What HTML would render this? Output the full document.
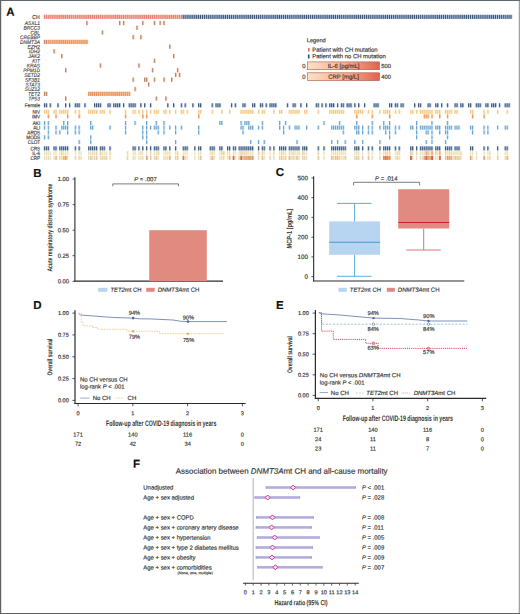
<!DOCTYPE html>
<html><head><meta charset="utf-8"><style>
html,body{margin:0;padding:0;background:#fff;}
body{width:520px;height:614px;overflow:hidden;position:relative;}
svg{position:absolute;left:0;top:0;}
text{font-family:"Liberation Sans",sans-serif;text-rendering:geometricPrecision;}
</style></head><body>
<svg width="520" height="614" viewBox="0 0 520 614">
<rect x="0" y="0" width="520" height="614" fill="#fff"/>
<text x="39.6" y="18.9" font-size="5.6" text-anchor="end" font-weight="normal" font-style="normal" fill="#333" stroke="#333" stroke-width="0.16" transform="rotate(0.04 39.6 18.9)" textLength="7.28" lengthAdjust="spacingAndGlyphs">CH</text>
<text x="39.9" y="25.05" font-size="5.4" text-anchor="end" font-weight="normal" font-style="italic" fill="#333" stroke="#333" stroke-width="0.1" transform="rotate(0.04 39.9 25.05)" textLength="15.13" lengthAdjust="spacingAndGlyphs">ASXL1</text>
<text x="39.9" y="29.77" font-size="5.4" text-anchor="end" font-weight="normal" font-style="italic" fill="#333" stroke="#333" stroke-width="0.1" transform="rotate(0.04 39.9 29.77)" textLength="16.47" lengthAdjust="spacingAndGlyphs">BRCC3</text>
<text x="39.9" y="34.49" font-size="5.4" text-anchor="end" font-weight="normal" font-style="italic" fill="#333" stroke="#333" stroke-width="0.1" transform="rotate(0.04 39.9 34.49)" textLength="9.45" lengthAdjust="spacingAndGlyphs">CBL</text>
<text x="39.9" y="39.21" font-size="5.4" text-anchor="end" font-weight="normal" font-style="italic" fill="#333" stroke="#333" stroke-width="0.1" transform="rotate(0.04 39.9 39.21)" textLength="19.99" lengthAdjust="spacingAndGlyphs">CREBBP</text>
<text x="39.9" y="43.93" font-size="5.4" text-anchor="end" font-weight="normal" font-style="italic" fill="#333" stroke="#333" stroke-width="0.1" transform="rotate(0.04 39.9 43.93)" textLength="19.98" lengthAdjust="spacingAndGlyphs">DNMT3A</text>
<text x="39.9" y="48.65" font-size="5.4" text-anchor="end" font-weight="normal" font-style="italic" fill="#333" stroke="#333" stroke-width="0.1" transform="rotate(0.04 39.9 48.65)" textLength="12.42" lengthAdjust="spacingAndGlyphs">EZH2</text>
<text x="39.9" y="53.370000000000005" font-size="5.4" text-anchor="end" font-weight="normal" font-style="italic" fill="#333" stroke="#333" stroke-width="0.1" transform="rotate(0.04 39.9 53.370000000000005)" textLength="11.07" lengthAdjust="spacingAndGlyphs">IDH2</text>
<text x="39.9" y="58.09" font-size="5.4" text-anchor="end" font-weight="normal" font-style="italic" fill="#333" stroke="#333" stroke-width="0.1" transform="rotate(0.04 39.9 58.09)" textLength="11.62" lengthAdjust="spacingAndGlyphs">JAK2</text>
<text x="39.9" y="62.81" font-size="5.4" text-anchor="end" font-weight="normal" font-style="italic" fill="#333" stroke="#333" stroke-width="0.1" transform="rotate(0.04 39.9 62.81)" textLength="7.56" lengthAdjust="spacingAndGlyphs">KIT</text>
<text x="39.9" y="67.53" font-size="5.4" text-anchor="end" font-weight="normal" font-style="italic" fill="#333" stroke="#333" stroke-width="0.1" transform="rotate(0.04 39.9 67.53)" textLength="13.24" lengthAdjust="spacingAndGlyphs">KRAS</text>
<text x="39.9" y="72.25" font-size="5.4" text-anchor="end" font-weight="normal" font-style="italic" fill="#333" stroke="#333" stroke-width="0.1" transform="rotate(0.04 39.9 72.25)" textLength="16.74" lengthAdjust="spacingAndGlyphs">PPM1D</text>
<text x="39.9" y="76.97" font-size="5.4" text-anchor="end" font-weight="normal" font-style="italic" fill="#333" stroke="#333" stroke-width="0.1" transform="rotate(0.04 39.9 76.97)" textLength="15.66" lengthAdjust="spacingAndGlyphs">SETD2</text>
<text x="39.9" y="81.69" font-size="5.4" text-anchor="end" font-weight="normal" font-style="italic" fill="#333" stroke="#333" stroke-width="0.1" transform="rotate(0.04 39.9 81.69)" textLength="14.86" lengthAdjust="spacingAndGlyphs">SF3B1</text>
<text x="39.9" y="86.41" font-size="5.4" text-anchor="end" font-weight="normal" font-style="italic" fill="#333" stroke="#333" stroke-width="0.1" transform="rotate(0.04 39.9 86.41)" textLength="14.40" lengthAdjust="spacingAndGlyphs">STAT3</text>
<text x="39.9" y="91.13" font-size="5.4" text-anchor="end" font-weight="normal" font-style="italic" fill="#333" stroke="#333" stroke-width="0.1" transform="rotate(0.04 39.9 91.13)" textLength="15.13" lengthAdjust="spacingAndGlyphs">SUZ12</text>
<text x="39.9" y="95.85" font-size="5.4" text-anchor="end" font-weight="normal" font-style="italic" fill="#333" stroke="#333" stroke-width="0.1" transform="rotate(0.04 39.9 95.85)" textLength="11.88" lengthAdjust="spacingAndGlyphs">TET2</text>
<text x="39.9" y="100.57" font-size="5.4" text-anchor="end" font-weight="normal" font-style="italic" fill="#333" stroke="#333" stroke-width="0.1" transform="rotate(0.04 39.9 100.57)" textLength="11.62" lengthAdjust="spacingAndGlyphs">TP53</text>
<text x="40.2" y="107.3" font-size="5.4" text-anchor="end" font-weight="normal" font-style="normal" fill="#333" stroke="#333" stroke-width="0.14" transform="rotate(0.04 40.2 107.3)" textLength="15.48" lengthAdjust="spacingAndGlyphs">Female</text>
<text x="40.2" y="113.8" font-size="5.4" text-anchor="end" font-weight="normal" font-style="normal" fill="#333" stroke="#333" stroke-width="0.14" transform="rotate(0.04 40.2 113.8)" textLength="7.74" lengthAdjust="spacingAndGlyphs">NIV</text>
<text x="40.2" y="118.4" font-size="5.4" text-anchor="end" font-weight="normal" font-style="normal" fill="#333" stroke="#333" stroke-width="0.14" transform="rotate(0.04 40.2 118.4)" textLength="8.26" lengthAdjust="spacingAndGlyphs">IMV</text>
<text x="40.2" y="125.0" font-size="5.4" text-anchor="end" font-weight="normal" font-style="normal" fill="#333" stroke="#333" stroke-width="0.14" transform="rotate(0.04 40.2 125.0)" textLength="7.49" lengthAdjust="spacingAndGlyphs">AKI</text>
<text x="40.2" y="129.6" font-size="5.4" text-anchor="end" font-weight="normal" font-style="normal" fill="#333" stroke="#333" stroke-width="0.14" transform="rotate(0.04 40.2 129.6)" textLength="6.97" lengthAdjust="spacingAndGlyphs">ALI</text>
<text x="40.2" y="134.4" font-size="5.4" text-anchor="end" font-weight="normal" font-style="normal" fill="#333" stroke="#333" stroke-width="0.14" transform="rotate(0.04 40.2 134.4)" textLength="12.90" lengthAdjust="spacingAndGlyphs">ARDS</text>
<text x="40.2" y="139.3" font-size="5.4" text-anchor="end" font-weight="normal" font-style="normal" fill="#333" stroke="#333" stroke-width="0.14" transform="rotate(0.04 40.2 139.3)" textLength="13.93" lengthAdjust="spacingAndGlyphs">MODS</text>
<text x="40.2" y="144.1" font-size="5.4" text-anchor="end" font-weight="normal" font-style="normal" fill="#333" stroke="#333" stroke-width="0.14" transform="rotate(0.04 40.2 144.1)" textLength="12.38" lengthAdjust="spacingAndGlyphs">CLOT</text>
<text x="40.2" y="150.4" font-size="5.4" text-anchor="end" font-weight="normal" font-style="normal" fill="#333" stroke="#333" stroke-width="0.14" transform="rotate(0.04 40.2 150.4)" textLength="9.81" lengthAdjust="spacingAndGlyphs">CRS</text>
<text x="40.2" y="155.2" font-size="5.4" text-anchor="end" font-weight="normal" font-style="normal" fill="#333" stroke="#333" stroke-width="0.14" transform="rotate(0.04 40.2 155.2)" textLength="8.00" lengthAdjust="spacingAndGlyphs">IL-6</text>
<text x="40.2" y="159.9" font-size="5.4" text-anchor="end" font-weight="normal" font-style="normal" fill="#333" stroke="#333" stroke-width="0.14" transform="rotate(0.04 40.2 159.9)" textLength="9.81" lengthAdjust="spacingAndGlyphs">CRP</text>
<rect x="43.80" y="14.80" width="1.948" height="4.1" fill="#f6b0a2"/><rect x="43.95" y="14.80" width="0.85" height="4.1" fill="#de7a6c"/>
<rect x="45.73" y="14.80" width="1.948" height="4.1" fill="#f6b0a2"/><rect x="45.88" y="14.80" width="0.85" height="4.1" fill="#de7a6c"/>
<rect x="47.66" y="14.80" width="1.948" height="4.1" fill="#f6b0a2"/><rect x="47.81" y="14.80" width="0.85" height="4.1" fill="#de7a6c"/>
<rect x="49.58" y="14.80" width="1.948" height="4.1" fill="#f6b0a2"/><rect x="49.73" y="14.80" width="0.85" height="4.1" fill="#de7a6c"/>
<rect x="51.51" y="14.80" width="1.948" height="4.1" fill="#f6b0a2"/><rect x="51.66" y="14.80" width="0.85" height="4.1" fill="#de7a6c"/>
<rect x="53.44" y="14.80" width="1.948" height="4.1" fill="#f6b0a2"/><rect x="53.59" y="14.80" width="0.85" height="4.1" fill="#de7a6c"/>
<rect x="55.37" y="14.80" width="1.948" height="4.1" fill="#f6b0a2"/><rect x="55.52" y="14.80" width="0.85" height="4.1" fill="#de7a6c"/>
<rect x="57.30" y="14.80" width="1.948" height="4.1" fill="#f6b0a2"/><rect x="57.45" y="14.80" width="0.85" height="4.1" fill="#de7a6c"/>
<rect x="59.22" y="14.80" width="1.948" height="4.1" fill="#f6b0a2"/><rect x="59.37" y="14.80" width="0.85" height="4.1" fill="#de7a6c"/>
<rect x="61.15" y="14.80" width="1.948" height="4.1" fill="#f6b0a2"/><rect x="61.30" y="14.80" width="0.85" height="4.1" fill="#de7a6c"/>
<rect x="63.08" y="14.80" width="1.948" height="4.1" fill="#f6b0a2"/><rect x="63.23" y="14.80" width="0.85" height="4.1" fill="#de7a6c"/>
<rect x="65.01" y="14.80" width="1.948" height="4.1" fill="#f6b0a2"/><rect x="65.16" y="14.80" width="0.85" height="4.1" fill="#de7a6c"/>
<rect x="66.94" y="14.80" width="1.948" height="4.1" fill="#f6b0a2"/><rect x="67.09" y="14.80" width="0.85" height="4.1" fill="#de7a6c"/>
<rect x="68.86" y="14.80" width="1.948" height="4.1" fill="#f6b0a2"/><rect x="69.01" y="14.80" width="0.85" height="4.1" fill="#de7a6c"/>
<rect x="70.79" y="14.80" width="1.948" height="4.1" fill="#f6b0a2"/><rect x="70.94" y="14.80" width="0.85" height="4.1" fill="#de7a6c"/>
<rect x="72.72" y="14.80" width="1.948" height="4.1" fill="#f6b0a2"/><rect x="72.87" y="14.80" width="0.85" height="4.1" fill="#de7a6c"/>
<rect x="74.65" y="14.80" width="1.948" height="4.1" fill="#f6b0a2"/><rect x="74.80" y="14.80" width="0.85" height="4.1" fill="#de7a6c"/>
<rect x="76.58" y="14.80" width="1.948" height="4.1" fill="#f6b0a2"/><rect x="76.73" y="14.80" width="0.85" height="4.1" fill="#de7a6c"/>
<rect x="78.50" y="14.80" width="1.948" height="4.1" fill="#f6b0a2"/><rect x="78.65" y="14.80" width="0.85" height="4.1" fill="#de7a6c"/>
<rect x="80.43" y="14.80" width="1.948" height="4.1" fill="#f6b0a2"/><rect x="80.58" y="14.80" width="0.85" height="4.1" fill="#de7a6c"/>
<rect x="82.36" y="14.80" width="1.948" height="4.1" fill="#f6b0a2"/><rect x="82.51" y="14.80" width="0.85" height="4.1" fill="#de7a6c"/>
<rect x="84.29" y="14.80" width="1.948" height="4.1" fill="#f6b0a2"/><rect x="84.44" y="14.80" width="0.85" height="4.1" fill="#de7a6c"/>
<rect x="86.22" y="14.80" width="1.948" height="4.1" fill="#f6b0a2"/><rect x="86.37" y="14.80" width="0.85" height="4.1" fill="#de7a6c"/>
<rect x="88.14" y="14.80" width="1.948" height="4.1" fill="#f6b0a2"/><rect x="88.29" y="14.80" width="0.85" height="4.1" fill="#de7a6c"/>
<rect x="90.07" y="14.80" width="1.948" height="4.1" fill="#f6b0a2"/><rect x="90.22" y="14.80" width="0.85" height="4.1" fill="#de7a6c"/>
<rect x="92.00" y="14.80" width="1.948" height="4.1" fill="#f6b0a2"/><rect x="92.15" y="14.80" width="0.85" height="4.1" fill="#de7a6c"/>
<rect x="93.93" y="14.80" width="1.948" height="4.1" fill="#f6b0a2"/><rect x="94.08" y="14.80" width="0.85" height="4.1" fill="#de7a6c"/>
<rect x="95.86" y="14.80" width="1.948" height="4.1" fill="#f6b0a2"/><rect x="96.01" y="14.80" width="0.85" height="4.1" fill="#de7a6c"/>
<rect x="97.78" y="14.80" width="1.948" height="4.1" fill="#f6b0a2"/><rect x="97.93" y="14.80" width="0.85" height="4.1" fill="#de7a6c"/>
<rect x="99.71" y="14.80" width="1.948" height="4.1" fill="#f6b0a2"/><rect x="99.86" y="14.80" width="0.85" height="4.1" fill="#de7a6c"/>
<rect x="101.64" y="14.80" width="1.948" height="4.1" fill="#f6b0a2"/><rect x="101.79" y="14.80" width="0.85" height="4.1" fill="#de7a6c"/>
<rect x="103.57" y="14.80" width="1.948" height="4.1" fill="#f6b0a2"/><rect x="103.72" y="14.80" width="0.85" height="4.1" fill="#de7a6c"/>
<rect x="105.50" y="14.80" width="1.948" height="4.1" fill="#f6b0a2"/><rect x="105.65" y="14.80" width="0.85" height="4.1" fill="#de7a6c"/>
<rect x="107.42" y="14.80" width="1.948" height="4.1" fill="#f6b0a2"/><rect x="107.57" y="14.80" width="0.85" height="4.1" fill="#de7a6c"/>
<rect x="109.35" y="14.80" width="1.948" height="4.1" fill="#f6b0a2"/><rect x="109.50" y="14.80" width="0.85" height="4.1" fill="#de7a6c"/>
<rect x="111.28" y="14.80" width="1.948" height="4.1" fill="#f6b0a2"/><rect x="111.43" y="14.80" width="0.85" height="4.1" fill="#de7a6c"/>
<rect x="113.21" y="14.80" width="1.948" height="4.1" fill="#f6b0a2"/><rect x="113.36" y="14.80" width="0.85" height="4.1" fill="#de7a6c"/>
<rect x="115.14" y="14.80" width="1.948" height="4.1" fill="#f6b0a2"/><rect x="115.29" y="14.80" width="0.85" height="4.1" fill="#de7a6c"/>
<rect x="117.06" y="14.80" width="1.948" height="4.1" fill="#f6b0a2"/><rect x="117.21" y="14.80" width="0.85" height="4.1" fill="#de7a6c"/>
<rect x="118.99" y="14.80" width="1.948" height="4.1" fill="#f6b0a2"/><rect x="119.14" y="14.80" width="0.85" height="4.1" fill="#de7a6c"/>
<rect x="120.92" y="14.80" width="1.948" height="4.1" fill="#f6b0a2"/><rect x="121.07" y="14.80" width="0.85" height="4.1" fill="#de7a6c"/>
<rect x="122.85" y="14.80" width="1.948" height="4.1" fill="#f6b0a2"/><rect x="123.00" y="14.80" width="0.85" height="4.1" fill="#de7a6c"/>
<rect x="124.78" y="14.80" width="1.948" height="4.1" fill="#f6b0a2"/><rect x="124.93" y="14.80" width="0.85" height="4.1" fill="#de7a6c"/>
<rect x="126.70" y="14.80" width="1.948" height="4.1" fill="#f6b0a2"/><rect x="126.85" y="14.80" width="0.85" height="4.1" fill="#de7a6c"/>
<rect x="128.63" y="14.80" width="1.948" height="4.1" fill="#f6b0a2"/><rect x="128.78" y="14.80" width="0.85" height="4.1" fill="#de7a6c"/>
<rect x="130.56" y="14.80" width="1.948" height="4.1" fill="#f6b0a2"/><rect x="130.71" y="14.80" width="0.85" height="4.1" fill="#de7a6c"/>
<rect x="132.49" y="14.80" width="1.948" height="4.1" fill="#f6b0a2"/><rect x="132.64" y="14.80" width="0.85" height="4.1" fill="#de7a6c"/>
<rect x="134.42" y="14.80" width="1.948" height="4.1" fill="#f6b0a2"/><rect x="134.57" y="14.80" width="0.85" height="4.1" fill="#de7a6c"/>
<rect x="136.34" y="14.80" width="1.948" height="4.1" fill="#f6b0a2"/><rect x="136.49" y="14.80" width="0.85" height="4.1" fill="#de7a6c"/>
<rect x="138.27" y="14.80" width="1.948" height="4.1" fill="#f6b0a2"/><rect x="138.42" y="14.80" width="0.85" height="4.1" fill="#de7a6c"/>
<rect x="140.20" y="14.80" width="1.948" height="4.1" fill="#f6b0a2"/><rect x="140.35" y="14.80" width="0.85" height="4.1" fill="#de7a6c"/>
<rect x="142.13" y="14.80" width="1.948" height="4.1" fill="#f6b0a2"/><rect x="142.28" y="14.80" width="0.85" height="4.1" fill="#de7a6c"/>
<rect x="144.06" y="14.80" width="1.948" height="4.1" fill="#f6b0a2"/><rect x="144.21" y="14.80" width="0.85" height="4.1" fill="#de7a6c"/>
<rect x="145.98" y="14.80" width="1.948" height="4.1" fill="#f6b0a2"/><rect x="146.13" y="14.80" width="0.85" height="4.1" fill="#de7a6c"/>
<rect x="147.91" y="14.80" width="1.948" height="4.1" fill="#f6b0a2"/><rect x="148.06" y="14.80" width="0.85" height="4.1" fill="#de7a6c"/>
<rect x="149.84" y="14.80" width="1.948" height="4.1" fill="#f6b0a2"/><rect x="149.99" y="14.80" width="0.85" height="4.1" fill="#de7a6c"/>
<rect x="151.77" y="14.80" width="1.948" height="4.1" fill="#f6b0a2"/><rect x="151.92" y="14.80" width="0.85" height="4.1" fill="#de7a6c"/>
<rect x="153.70" y="14.80" width="1.948" height="4.1" fill="#f6b0a2"/><rect x="153.85" y="14.80" width="0.85" height="4.1" fill="#de7a6c"/>
<rect x="155.62" y="14.80" width="1.948" height="4.1" fill="#f6b0a2"/><rect x="155.77" y="14.80" width="0.85" height="4.1" fill="#de7a6c"/>
<rect x="157.55" y="14.80" width="1.948" height="4.1" fill="#f6b0a2"/><rect x="157.70" y="14.80" width="0.85" height="4.1" fill="#de7a6c"/>
<rect x="159.48" y="14.80" width="1.948" height="4.1" fill="#f6b0a2"/><rect x="159.63" y="14.80" width="0.85" height="4.1" fill="#de7a6c"/>
<rect x="161.41" y="14.80" width="1.948" height="4.1" fill="#f6b0a2"/><rect x="161.56" y="14.80" width="0.85" height="4.1" fill="#de7a6c"/>
<rect x="163.34" y="14.80" width="1.948" height="4.1" fill="#f6b0a2"/><rect x="163.49" y="14.80" width="0.85" height="4.1" fill="#de7a6c"/>
<rect x="165.26" y="14.80" width="1.948" height="4.1" fill="#f6b0a2"/><rect x="165.41" y="14.80" width="0.85" height="4.1" fill="#de7a6c"/>
<rect x="167.19" y="14.80" width="1.948" height="4.1" fill="#f6b0a2"/><rect x="167.34" y="14.80" width="0.85" height="4.1" fill="#de7a6c"/>
<rect x="169.12" y="14.80" width="1.948" height="4.1" fill="#f6b0a2"/><rect x="169.27" y="14.80" width="0.85" height="4.1" fill="#de7a6c"/>
<rect x="171.05" y="14.80" width="1.948" height="4.1" fill="#f6b0a2"/><rect x="171.20" y="14.80" width="0.85" height="4.1" fill="#de7a6c"/>
<rect x="172.98" y="14.80" width="1.948" height="4.1" fill="#f6b0a2"/><rect x="173.13" y="14.80" width="0.85" height="4.1" fill="#de7a6c"/>
<rect x="174.90" y="14.80" width="1.948" height="4.1" fill="#f6b0a2"/><rect x="175.05" y="14.80" width="0.85" height="4.1" fill="#de7a6c"/>
<rect x="176.83" y="14.80" width="1.948" height="4.1" fill="#f6b0a2"/><rect x="176.98" y="14.80" width="0.85" height="4.1" fill="#de7a6c"/>
<rect x="178.76" y="14.80" width="1.948" height="4.1" fill="#f6b0a2"/><rect x="178.91" y="14.80" width="0.85" height="4.1" fill="#de7a6c"/>
<rect x="180.69" y="14.80" width="1.948" height="4.1" fill="#f6b0a2"/><rect x="180.84" y="14.80" width="0.85" height="4.1" fill="#de7a6c"/>
<rect x="182.62" y="14.80" width="1.948" height="4.1" fill="#a7bfde"/><rect x="182.77" y="14.80" width="0.85" height="4.1" fill="#273f60"/>
<rect x="184.54" y="14.80" width="1.948" height="4.1" fill="#a7bfde"/><rect x="184.69" y="14.80" width="0.85" height="4.1" fill="#273f60"/>
<rect x="186.47" y="14.80" width="1.948" height="4.1" fill="#a7bfde"/><rect x="186.62" y="14.80" width="0.85" height="4.1" fill="#273f60"/>
<rect x="188.40" y="14.80" width="1.948" height="4.1" fill="#a7bfde"/><rect x="188.55" y="14.80" width="0.85" height="4.1" fill="#273f60"/>
<rect x="190.33" y="14.80" width="1.948" height="4.1" fill="#a7bfde"/><rect x="190.48" y="14.80" width="0.85" height="4.1" fill="#273f60"/>
<rect x="192.26" y="14.80" width="1.948" height="4.1" fill="#a7bfde"/><rect x="192.41" y="14.80" width="0.85" height="4.1" fill="#273f60"/>
<rect x="194.18" y="14.80" width="1.948" height="4.1" fill="#a7bfde"/><rect x="194.33" y="14.80" width="0.85" height="4.1" fill="#273f60"/>
<rect x="196.11" y="14.80" width="1.948" height="4.1" fill="#a7bfde"/><rect x="196.26" y="14.80" width="0.85" height="4.1" fill="#273f60"/>
<rect x="198.04" y="14.80" width="1.948" height="4.1" fill="#a7bfde"/><rect x="198.19" y="14.80" width="0.85" height="4.1" fill="#273f60"/>
<rect x="199.97" y="14.80" width="1.948" height="4.1" fill="#a7bfde"/><rect x="200.12" y="14.80" width="0.85" height="4.1" fill="#273f60"/>
<rect x="201.90" y="14.80" width="1.948" height="4.1" fill="#a7bfde"/><rect x="202.05" y="14.80" width="0.85" height="4.1" fill="#273f60"/>
<rect x="203.82" y="14.80" width="1.948" height="4.1" fill="#a7bfde"/><rect x="203.97" y="14.80" width="0.85" height="4.1" fill="#273f60"/>
<rect x="205.75" y="14.80" width="1.948" height="4.1" fill="#a7bfde"/><rect x="205.90" y="14.80" width="0.85" height="4.1" fill="#273f60"/>
<rect x="207.68" y="14.80" width="1.948" height="4.1" fill="#a7bfde"/><rect x="207.83" y="14.80" width="0.85" height="4.1" fill="#273f60"/>
<rect x="209.61" y="14.80" width="1.948" height="4.1" fill="#a7bfde"/><rect x="209.76" y="14.80" width="0.85" height="4.1" fill="#273f60"/>
<rect x="211.54" y="14.80" width="1.948" height="4.1" fill="#a7bfde"/><rect x="211.69" y="14.80" width="0.85" height="4.1" fill="#273f60"/>
<rect x="213.46" y="14.80" width="1.948" height="4.1" fill="#a7bfde"/><rect x="213.61" y="14.80" width="0.85" height="4.1" fill="#273f60"/>
<rect x="215.39" y="14.80" width="1.948" height="4.1" fill="#a7bfde"/><rect x="215.54" y="14.80" width="0.85" height="4.1" fill="#273f60"/>
<rect x="217.32" y="14.80" width="1.948" height="4.1" fill="#a7bfde"/><rect x="217.47" y="14.80" width="0.85" height="4.1" fill="#273f60"/>
<rect x="219.25" y="14.80" width="1.948" height="4.1" fill="#a7bfde"/><rect x="219.40" y="14.80" width="0.85" height="4.1" fill="#273f60"/>
<rect x="221.18" y="14.80" width="1.948" height="4.1" fill="#a7bfde"/><rect x="221.33" y="14.80" width="0.85" height="4.1" fill="#273f60"/>
<rect x="223.10" y="14.80" width="1.948" height="4.1" fill="#a7bfde"/><rect x="223.25" y="14.80" width="0.85" height="4.1" fill="#273f60"/>
<rect x="225.03" y="14.80" width="1.948" height="4.1" fill="#a7bfde"/><rect x="225.18" y="14.80" width="0.85" height="4.1" fill="#273f60"/>
<rect x="226.96" y="14.80" width="1.948" height="4.1" fill="#a7bfde"/><rect x="227.11" y="14.80" width="0.85" height="4.1" fill="#273f60"/>
<rect x="228.89" y="14.80" width="1.948" height="4.1" fill="#a7bfde"/><rect x="229.04" y="14.80" width="0.85" height="4.1" fill="#273f60"/>
<rect x="230.82" y="14.80" width="1.948" height="4.1" fill="#a7bfde"/><rect x="230.97" y="14.80" width="0.85" height="4.1" fill="#273f60"/>
<rect x="232.74" y="14.80" width="1.948" height="4.1" fill="#a7bfde"/><rect x="232.89" y="14.80" width="0.85" height="4.1" fill="#273f60"/>
<rect x="234.67" y="14.80" width="1.948" height="4.1" fill="#a7bfde"/><rect x="234.82" y="14.80" width="0.85" height="4.1" fill="#273f60"/>
<rect x="236.60" y="14.80" width="1.948" height="4.1" fill="#a7bfde"/><rect x="236.75" y="14.80" width="0.85" height="4.1" fill="#273f60"/>
<rect x="238.53" y="14.80" width="1.948" height="4.1" fill="#a7bfde"/><rect x="238.68" y="14.80" width="0.85" height="4.1" fill="#273f60"/>
<rect x="240.46" y="14.80" width="1.948" height="4.1" fill="#a7bfde"/><rect x="240.61" y="14.80" width="0.85" height="4.1" fill="#273f60"/>
<rect x="242.38" y="14.80" width="1.948" height="4.1" fill="#a7bfde"/><rect x="242.53" y="14.80" width="0.85" height="4.1" fill="#273f60"/>
<rect x="244.31" y="14.80" width="1.948" height="4.1" fill="#a7bfde"/><rect x="244.46" y="14.80" width="0.85" height="4.1" fill="#273f60"/>
<rect x="246.24" y="14.80" width="1.948" height="4.1" fill="#a7bfde"/><rect x="246.39" y="14.80" width="0.85" height="4.1" fill="#273f60"/>
<rect x="248.17" y="14.80" width="1.948" height="4.1" fill="#a7bfde"/><rect x="248.32" y="14.80" width="0.85" height="4.1" fill="#273f60"/>
<rect x="250.10" y="14.80" width="1.948" height="4.1" fill="#a7bfde"/><rect x="250.25" y="14.80" width="0.85" height="4.1" fill="#273f60"/>
<rect x="252.02" y="14.80" width="1.948" height="4.1" fill="#a7bfde"/><rect x="252.17" y="14.80" width="0.85" height="4.1" fill="#273f60"/>
<rect x="253.95" y="14.80" width="1.948" height="4.1" fill="#a7bfde"/><rect x="254.10" y="14.80" width="0.85" height="4.1" fill="#273f60"/>
<rect x="255.88" y="14.80" width="1.948" height="4.1" fill="#a7bfde"/><rect x="256.03" y="14.80" width="0.85" height="4.1" fill="#273f60"/>
<rect x="257.81" y="14.80" width="1.948" height="4.1" fill="#a7bfde"/><rect x="257.96" y="14.80" width="0.85" height="4.1" fill="#273f60"/>
<rect x="259.74" y="14.80" width="1.948" height="4.1" fill="#a7bfde"/><rect x="259.89" y="14.80" width="0.85" height="4.1" fill="#273f60"/>
<rect x="261.66" y="14.80" width="1.948" height="4.1" fill="#a7bfde"/><rect x="261.81" y="14.80" width="0.85" height="4.1" fill="#273f60"/>
<rect x="263.59" y="14.80" width="1.948" height="4.1" fill="#a7bfde"/><rect x="263.74" y="14.80" width="0.85" height="4.1" fill="#273f60"/>
<rect x="265.52" y="14.80" width="1.948" height="4.1" fill="#a7bfde"/><rect x="265.67" y="14.80" width="0.85" height="4.1" fill="#273f60"/>
<rect x="267.45" y="14.80" width="1.948" height="4.1" fill="#a7bfde"/><rect x="267.60" y="14.80" width="0.85" height="4.1" fill="#273f60"/>
<rect x="269.38" y="14.80" width="1.948" height="4.1" fill="#a7bfde"/><rect x="269.53" y="14.80" width="0.85" height="4.1" fill="#273f60"/>
<rect x="271.30" y="14.80" width="1.948" height="4.1" fill="#a7bfde"/><rect x="271.45" y="14.80" width="0.85" height="4.1" fill="#273f60"/>
<rect x="273.23" y="14.80" width="1.948" height="4.1" fill="#a7bfde"/><rect x="273.38" y="14.80" width="0.85" height="4.1" fill="#273f60"/>
<rect x="275.16" y="14.80" width="1.948" height="4.1" fill="#a7bfde"/><rect x="275.31" y="14.80" width="0.85" height="4.1" fill="#273f60"/>
<rect x="277.09" y="14.80" width="1.948" height="4.1" fill="#a7bfde"/><rect x="277.24" y="14.80" width="0.85" height="4.1" fill="#273f60"/>
<rect x="279.02" y="14.80" width="1.948" height="4.1" fill="#a7bfde"/><rect x="279.17" y="14.80" width="0.85" height="4.1" fill="#273f60"/>
<rect x="280.94" y="14.80" width="1.948" height="4.1" fill="#a7bfde"/><rect x="281.09" y="14.80" width="0.85" height="4.1" fill="#273f60"/>
<rect x="282.87" y="14.80" width="1.948" height="4.1" fill="#a7bfde"/><rect x="283.02" y="14.80" width="0.85" height="4.1" fill="#273f60"/>
<rect x="284.80" y="14.80" width="1.948" height="4.1" fill="#a7bfde"/><rect x="284.95" y="14.80" width="0.85" height="4.1" fill="#273f60"/>
<rect x="286.73" y="14.80" width="1.948" height="4.1" fill="#a7bfde"/><rect x="286.88" y="14.80" width="0.85" height="4.1" fill="#273f60"/>
<rect x="288.66" y="14.80" width="1.948" height="4.1" fill="#a7bfde"/><rect x="288.81" y="14.80" width="0.85" height="4.1" fill="#273f60"/>
<rect x="290.58" y="14.80" width="1.948" height="4.1" fill="#a7bfde"/><rect x="290.73" y="14.80" width="0.85" height="4.1" fill="#273f60"/>
<rect x="292.51" y="14.80" width="1.948" height="4.1" fill="#a7bfde"/><rect x="292.66" y="14.80" width="0.85" height="4.1" fill="#273f60"/>
<rect x="294.44" y="14.80" width="1.948" height="4.1" fill="#a7bfde"/><rect x="294.59" y="14.80" width="0.85" height="4.1" fill="#273f60"/>
<rect x="296.37" y="14.80" width="1.948" height="4.1" fill="#a7bfde"/><rect x="296.52" y="14.80" width="0.85" height="4.1" fill="#273f60"/>
<rect x="298.30" y="14.80" width="1.948" height="4.1" fill="#a7bfde"/><rect x="298.45" y="14.80" width="0.85" height="4.1" fill="#273f60"/>
<rect x="300.22" y="14.80" width="1.948" height="4.1" fill="#a7bfde"/><rect x="300.37" y="14.80" width="0.85" height="4.1" fill="#273f60"/>
<rect x="302.15" y="14.80" width="1.948" height="4.1" fill="#a7bfde"/><rect x="302.30" y="14.80" width="0.85" height="4.1" fill="#273f60"/>
<rect x="304.08" y="14.80" width="1.948" height="4.1" fill="#a7bfde"/><rect x="304.23" y="14.80" width="0.85" height="4.1" fill="#273f60"/>
<rect x="306.01" y="14.80" width="1.948" height="4.1" fill="#a7bfde"/><rect x="306.16" y="14.80" width="0.85" height="4.1" fill="#273f60"/>
<rect x="307.94" y="14.80" width="1.948" height="4.1" fill="#a7bfde"/><rect x="308.09" y="14.80" width="0.85" height="4.1" fill="#273f60"/>
<rect x="309.86" y="14.80" width="1.948" height="4.1" fill="#a7bfde"/><rect x="310.01" y="14.80" width="0.85" height="4.1" fill="#273f60"/>
<rect x="311.79" y="14.80" width="1.948" height="4.1" fill="#a7bfde"/><rect x="311.94" y="14.80" width="0.85" height="4.1" fill="#273f60"/>
<rect x="313.72" y="14.80" width="1.948" height="4.1" fill="#a7bfde"/><rect x="313.87" y="14.80" width="0.85" height="4.1" fill="#273f60"/>
<rect x="315.65" y="14.80" width="1.948" height="4.1" fill="#a7bfde"/><rect x="315.80" y="14.80" width="0.85" height="4.1" fill="#273f60"/>
<rect x="317.58" y="14.80" width="1.948" height="4.1" fill="#a7bfde"/><rect x="317.73" y="14.80" width="0.85" height="4.1" fill="#273f60"/>
<rect x="319.50" y="14.80" width="1.948" height="4.1" fill="#a7bfde"/><rect x="319.65" y="14.80" width="0.85" height="4.1" fill="#273f60"/>
<rect x="321.43" y="14.80" width="1.948" height="4.1" fill="#a7bfde"/><rect x="321.58" y="14.80" width="0.85" height="4.1" fill="#273f60"/>
<rect x="323.36" y="14.80" width="1.948" height="4.1" fill="#a7bfde"/><rect x="323.51" y="14.80" width="0.85" height="4.1" fill="#273f60"/>
<rect x="325.29" y="14.80" width="1.948" height="4.1" fill="#a7bfde"/><rect x="325.44" y="14.80" width="0.85" height="4.1" fill="#273f60"/>
<rect x="327.22" y="14.80" width="1.948" height="4.1" fill="#a7bfde"/><rect x="327.37" y="14.80" width="0.85" height="4.1" fill="#273f60"/>
<rect x="329.14" y="14.80" width="1.948" height="4.1" fill="#a7bfde"/><rect x="329.29" y="14.80" width="0.85" height="4.1" fill="#273f60"/>
<rect x="331.07" y="14.80" width="1.948" height="4.1" fill="#a7bfde"/><rect x="331.22" y="14.80" width="0.85" height="4.1" fill="#273f60"/>
<rect x="333.00" y="14.80" width="1.948" height="4.1" fill="#a7bfde"/><rect x="333.15" y="14.80" width="0.85" height="4.1" fill="#273f60"/>
<rect x="334.93" y="14.80" width="1.948" height="4.1" fill="#a7bfde"/><rect x="335.08" y="14.80" width="0.85" height="4.1" fill="#273f60"/>
<rect x="336.86" y="14.80" width="1.948" height="4.1" fill="#a7bfde"/><rect x="337.01" y="14.80" width="0.85" height="4.1" fill="#273f60"/>
<rect x="338.78" y="14.80" width="1.948" height="4.1" fill="#a7bfde"/><rect x="338.93" y="14.80" width="0.85" height="4.1" fill="#273f60"/>
<rect x="340.71" y="14.80" width="1.948" height="4.1" fill="#a7bfde"/><rect x="340.86" y="14.80" width="0.85" height="4.1" fill="#273f60"/>
<rect x="342.64" y="14.80" width="1.948" height="4.1" fill="#a7bfde"/><rect x="342.79" y="14.80" width="0.85" height="4.1" fill="#273f60"/>
<rect x="344.57" y="14.80" width="1.948" height="4.1" fill="#a7bfde"/><rect x="344.72" y="14.80" width="0.85" height="4.1" fill="#273f60"/>
<rect x="346.50" y="14.80" width="1.948" height="4.1" fill="#a7bfde"/><rect x="346.65" y="14.80" width="0.85" height="4.1" fill="#273f60"/>
<rect x="348.42" y="14.80" width="1.948" height="4.1" fill="#a7bfde"/><rect x="348.57" y="14.80" width="0.85" height="4.1" fill="#273f60"/>
<rect x="350.35" y="14.80" width="1.948" height="4.1" fill="#a7bfde"/><rect x="350.50" y="14.80" width="0.85" height="4.1" fill="#273f60"/>
<rect x="352.28" y="14.80" width="1.948" height="4.1" fill="#a7bfde"/><rect x="352.43" y="14.80" width="0.85" height="4.1" fill="#273f60"/>
<rect x="354.21" y="14.80" width="1.948" height="4.1" fill="#a7bfde"/><rect x="354.36" y="14.80" width="0.85" height="4.1" fill="#273f60"/>
<rect x="356.14" y="14.80" width="1.948" height="4.1" fill="#a7bfde"/><rect x="356.29" y="14.80" width="0.85" height="4.1" fill="#273f60"/>
<rect x="358.06" y="14.80" width="1.948" height="4.1" fill="#a7bfde"/><rect x="358.21" y="14.80" width="0.85" height="4.1" fill="#273f60"/>
<rect x="359.99" y="14.80" width="1.948" height="4.1" fill="#a7bfde"/><rect x="360.14" y="14.80" width="0.85" height="4.1" fill="#273f60"/>
<rect x="361.92" y="14.80" width="1.948" height="4.1" fill="#a7bfde"/><rect x="362.07" y="14.80" width="0.85" height="4.1" fill="#273f60"/>
<rect x="363.85" y="14.80" width="1.948" height="4.1" fill="#a7bfde"/><rect x="364.00" y="14.80" width="0.85" height="4.1" fill="#273f60"/>
<rect x="365.78" y="14.80" width="1.948" height="4.1" fill="#a7bfde"/><rect x="365.93" y="14.80" width="0.85" height="4.1" fill="#273f60"/>
<rect x="367.70" y="14.80" width="1.948" height="4.1" fill="#a7bfde"/><rect x="367.85" y="14.80" width="0.85" height="4.1" fill="#273f60"/>
<rect x="369.63" y="14.80" width="1.948" height="4.1" fill="#a7bfde"/><rect x="369.78" y="14.80" width="0.85" height="4.1" fill="#273f60"/>
<rect x="371.56" y="14.80" width="1.948" height="4.1" fill="#a7bfde"/><rect x="371.71" y="14.80" width="0.85" height="4.1" fill="#273f60"/>
<rect x="373.49" y="14.80" width="1.948" height="4.1" fill="#a7bfde"/><rect x="373.64" y="14.80" width="0.85" height="4.1" fill="#273f60"/>
<rect x="375.42" y="14.80" width="1.948" height="4.1" fill="#a7bfde"/><rect x="375.57" y="14.80" width="0.85" height="4.1" fill="#273f60"/>
<rect x="377.34" y="14.80" width="1.948" height="4.1" fill="#a7bfde"/><rect x="377.49" y="14.80" width="0.85" height="4.1" fill="#273f60"/>
<rect x="379.27" y="14.80" width="1.948" height="4.1" fill="#a7bfde"/><rect x="379.42" y="14.80" width="0.85" height="4.1" fill="#273f60"/>
<rect x="381.20" y="14.80" width="1.948" height="4.1" fill="#a7bfde"/><rect x="381.35" y="14.80" width="0.85" height="4.1" fill="#273f60"/>
<rect x="383.13" y="14.80" width="1.948" height="4.1" fill="#a7bfde"/><rect x="383.28" y="14.80" width="0.85" height="4.1" fill="#273f60"/>
<rect x="385.06" y="14.80" width="1.948" height="4.1" fill="#a7bfde"/><rect x="385.21" y="14.80" width="0.85" height="4.1" fill="#273f60"/>
<rect x="386.98" y="14.80" width="1.948" height="4.1" fill="#a7bfde"/><rect x="387.13" y="14.80" width="0.85" height="4.1" fill="#273f60"/>
<rect x="388.91" y="14.80" width="1.948" height="4.1" fill="#a7bfde"/><rect x="389.06" y="14.80" width="0.85" height="4.1" fill="#273f60"/>
<rect x="390.84" y="14.80" width="1.948" height="4.1" fill="#a7bfde"/><rect x="390.99" y="14.80" width="0.85" height="4.1" fill="#273f60"/>
<rect x="392.77" y="14.80" width="1.948" height="4.1" fill="#a7bfde"/><rect x="392.92" y="14.80" width="0.85" height="4.1" fill="#273f60"/>
<rect x="394.70" y="14.80" width="1.948" height="4.1" fill="#a7bfde"/><rect x="394.85" y="14.80" width="0.85" height="4.1" fill="#273f60"/>
<rect x="396.62" y="14.80" width="1.948" height="4.1" fill="#a7bfde"/><rect x="396.77" y="14.80" width="0.85" height="4.1" fill="#273f60"/>
<rect x="398.55" y="14.80" width="1.948" height="4.1" fill="#a7bfde"/><rect x="398.70" y="14.80" width="0.85" height="4.1" fill="#273f60"/>
<rect x="400.48" y="14.80" width="1.948" height="4.1" fill="#a7bfde"/><rect x="400.63" y="14.80" width="0.85" height="4.1" fill="#273f60"/>
<rect x="402.41" y="14.80" width="1.948" height="4.1" fill="#a7bfde"/><rect x="402.56" y="14.80" width="0.85" height="4.1" fill="#273f60"/>
<rect x="404.34" y="14.80" width="1.948" height="4.1" fill="#a7bfde"/><rect x="404.49" y="14.80" width="0.85" height="4.1" fill="#273f60"/>
<rect x="406.26" y="14.80" width="1.948" height="4.1" fill="#a7bfde"/><rect x="406.41" y="14.80" width="0.85" height="4.1" fill="#273f60"/>
<rect x="408.19" y="14.80" width="1.948" height="4.1" fill="#a7bfde"/><rect x="408.34" y="14.80" width="0.85" height="4.1" fill="#273f60"/>
<rect x="410.12" y="14.80" width="1.948" height="4.1" fill="#a7bfde"/><rect x="410.27" y="14.80" width="0.85" height="4.1" fill="#273f60"/>
<rect x="412.05" y="14.80" width="1.948" height="4.1" fill="#a7bfde"/><rect x="412.20" y="14.80" width="0.85" height="4.1" fill="#273f60"/>
<rect x="413.98" y="14.80" width="1.948" height="4.1" fill="#a7bfde"/><rect x="414.13" y="14.80" width="0.85" height="4.1" fill="#273f60"/>
<rect x="415.90" y="14.80" width="1.948" height="4.1" fill="#a7bfde"/><rect x="416.05" y="14.80" width="0.85" height="4.1" fill="#273f60"/>
<rect x="417.83" y="14.80" width="1.948" height="4.1" fill="#a7bfde"/><rect x="417.98" y="14.80" width="0.85" height="4.1" fill="#273f60"/>
<rect x="419.76" y="14.80" width="1.948" height="4.1" fill="#a7bfde"/><rect x="419.91" y="14.80" width="0.85" height="4.1" fill="#273f60"/>
<rect x="421.69" y="14.80" width="1.948" height="4.1" fill="#a7bfde"/><rect x="421.84" y="14.80" width="0.85" height="4.1" fill="#273f60"/>
<rect x="423.62" y="14.80" width="1.948" height="4.1" fill="#a7bfde"/><rect x="423.77" y="14.80" width="0.85" height="4.1" fill="#273f60"/>
<rect x="425.54" y="14.80" width="1.948" height="4.1" fill="#a7bfde"/><rect x="425.69" y="14.80" width="0.85" height="4.1" fill="#273f60"/>
<rect x="427.47" y="14.80" width="1.948" height="4.1" fill="#a7bfde"/><rect x="427.62" y="14.80" width="0.85" height="4.1" fill="#273f60"/>
<rect x="429.40" y="14.80" width="1.948" height="4.1" fill="#a7bfde"/><rect x="429.55" y="14.80" width="0.85" height="4.1" fill="#273f60"/>
<rect x="431.33" y="14.80" width="1.948" height="4.1" fill="#a7bfde"/><rect x="431.48" y="14.80" width="0.85" height="4.1" fill="#273f60"/>
<rect x="433.26" y="14.80" width="1.948" height="4.1" fill="#a7bfde"/><rect x="433.41" y="14.80" width="0.85" height="4.1" fill="#273f60"/>
<rect x="435.18" y="14.80" width="1.948" height="4.1" fill="#a7bfde"/><rect x="435.33" y="14.80" width="0.85" height="4.1" fill="#273f60"/>
<rect x="437.11" y="14.80" width="1.948" height="4.1" fill="#a7bfde"/><rect x="437.26" y="14.80" width="0.85" height="4.1" fill="#273f60"/>
<rect x="439.04" y="14.80" width="1.948" height="4.1" fill="#a7bfde"/><rect x="439.19" y="14.80" width="0.85" height="4.1" fill="#273f60"/>
<rect x="440.97" y="14.80" width="1.948" height="4.1" fill="#a7bfde"/><rect x="441.12" y="14.80" width="0.85" height="4.1" fill="#273f60"/>
<rect x="442.90" y="14.80" width="1.948" height="4.1" fill="#a7bfde"/><rect x="443.05" y="14.80" width="0.85" height="4.1" fill="#273f60"/>
<rect x="444.82" y="14.80" width="1.948" height="4.1" fill="#a7bfde"/><rect x="444.97" y="14.80" width="0.85" height="4.1" fill="#273f60"/>
<rect x="446.75" y="14.80" width="1.948" height="4.1" fill="#a7bfde"/><rect x="446.90" y="14.80" width="0.85" height="4.1" fill="#273f60"/>
<rect x="448.68" y="14.80" width="1.948" height="4.1" fill="#a7bfde"/><rect x="448.83" y="14.80" width="0.85" height="4.1" fill="#273f60"/>
<rect x="450.61" y="14.80" width="1.948" height="4.1" fill="#a7bfde"/><rect x="450.76" y="14.80" width="0.85" height="4.1" fill="#273f60"/>
<rect x="452.54" y="14.80" width="1.948" height="4.1" fill="#a7bfde"/><rect x="452.69" y="14.80" width="0.85" height="4.1" fill="#273f60"/>
<rect x="454.46" y="14.80" width="1.948" height="4.1" fill="#a7bfde"/><rect x="454.61" y="14.80" width="0.85" height="4.1" fill="#273f60"/>
<rect x="456.39" y="14.80" width="1.948" height="4.1" fill="#a7bfde"/><rect x="456.54" y="14.80" width="0.85" height="4.1" fill="#273f60"/>
<rect x="458.32" y="14.80" width="1.948" height="4.1" fill="#a7bfde"/><rect x="458.47" y="14.80" width="0.85" height="4.1" fill="#273f60"/>
<rect x="460.25" y="14.80" width="1.948" height="4.1" fill="#a7bfde"/><rect x="460.40" y="14.80" width="0.85" height="4.1" fill="#273f60"/>
<rect x="462.18" y="14.80" width="1.948" height="4.1" fill="#a7bfde"/><rect x="462.33" y="14.80" width="0.85" height="4.1" fill="#273f60"/>
<rect x="464.10" y="14.80" width="1.948" height="4.1" fill="#a7bfde"/><rect x="464.25" y="14.80" width="0.85" height="4.1" fill="#273f60"/>
<rect x="466.03" y="14.80" width="1.948" height="4.1" fill="#a7bfde"/><rect x="466.18" y="14.80" width="0.85" height="4.1" fill="#273f60"/>
<rect x="467.96" y="14.80" width="1.948" height="4.1" fill="#a7bfde"/><rect x="468.11" y="14.80" width="0.85" height="4.1" fill="#273f60"/>
<rect x="469.89" y="14.80" width="1.948" height="4.1" fill="#a7bfde"/><rect x="470.04" y="14.80" width="0.85" height="4.1" fill="#273f60"/>
<rect x="471.82" y="14.80" width="1.948" height="4.1" fill="#a7bfde"/><rect x="471.97" y="14.80" width="0.85" height="4.1" fill="#273f60"/>
<rect x="473.74" y="14.80" width="1.948" height="4.1" fill="#a7bfde"/><rect x="473.89" y="14.80" width="0.85" height="4.1" fill="#273f60"/>
<rect x="475.67" y="14.80" width="1.948" height="4.1" fill="#a7bfde"/><rect x="475.82" y="14.80" width="0.85" height="4.1" fill="#273f60"/>
<rect x="477.60" y="14.80" width="1.948" height="4.1" fill="#a7bfde"/><rect x="477.75" y="14.80" width="0.85" height="4.1" fill="#273f60"/>
<rect x="479.53" y="14.80" width="1.948" height="4.1" fill="#a7bfde"/><rect x="479.68" y="14.80" width="0.85" height="4.1" fill="#273f60"/>
<rect x="481.46" y="14.80" width="1.948" height="4.1" fill="#a7bfde"/><rect x="481.61" y="14.80" width="0.85" height="4.1" fill="#273f60"/>
<rect x="483.38" y="14.80" width="1.948" height="4.1" fill="#a7bfde"/><rect x="483.53" y="14.80" width="0.85" height="4.1" fill="#273f60"/>
<rect x="485.31" y="14.80" width="1.948" height="4.1" fill="#a7bfde"/><rect x="485.46" y="14.80" width="0.85" height="4.1" fill="#273f60"/>
<rect x="487.24" y="14.80" width="1.948" height="4.1" fill="#a7bfde"/><rect x="487.39" y="14.80" width="0.85" height="4.1" fill="#273f60"/>
<rect x="489.17" y="14.80" width="1.948" height="4.1" fill="#a7bfde"/><rect x="489.32" y="14.80" width="0.85" height="4.1" fill="#273f60"/>
<rect x="491.10" y="14.80" width="1.948" height="4.1" fill="#a7bfde"/><rect x="491.25" y="14.80" width="0.85" height="4.1" fill="#273f60"/>
<rect x="493.02" y="14.80" width="1.948" height="4.1" fill="#a7bfde"/><rect x="493.17" y="14.80" width="0.85" height="4.1" fill="#273f60"/>
<rect x="494.95" y="14.80" width="1.948" height="4.1" fill="#a7bfde"/><rect x="495.10" y="14.80" width="0.85" height="4.1" fill="#273f60"/>
<rect x="496.88" y="14.80" width="1.948" height="4.1" fill="#a7bfde"/><rect x="497.03" y="14.80" width="0.85" height="4.1" fill="#273f60"/>
<rect x="498.81" y="14.80" width="1.948" height="4.1" fill="#a7bfde"/><rect x="498.96" y="14.80" width="0.85" height="4.1" fill="#273f60"/>
<rect x="500.74" y="14.80" width="1.948" height="4.1" fill="#a7bfde"/><rect x="500.89" y="14.80" width="0.85" height="4.1" fill="#273f60"/>
<rect x="502.66" y="14.80" width="1.948" height="4.1" fill="#a7bfde"/><rect x="502.81" y="14.80" width="0.85" height="4.1" fill="#273f60"/>
<rect x="504.59" y="14.80" width="1.948" height="4.1" fill="#a7bfde"/><rect x="504.74" y="14.80" width="0.85" height="4.1" fill="#273f60"/>
<rect x="506.52" y="14.80" width="1.948" height="4.1" fill="#a7bfde"/><rect x="506.67" y="14.80" width="0.85" height="4.1" fill="#273f60"/>
<rect x="508.45" y="14.80" width="1.948" height="4.1" fill="#a7bfde"/><rect x="508.60" y="14.80" width="0.85" height="4.1" fill="#273f60"/>
<rect x="510.38" y="14.80" width="1.948" height="4.1" fill="#a7bfde"/><rect x="510.53" y="14.80" width="0.85" height="4.1" fill="#273f60"/>
<rect x="86.22" y="20.95" width="1.948" height="4.2" fill="#f0c0a0"/><rect x="86.37" y="20.95" width="0.85" height="4.2" fill="#b07a60"/>
<rect x="118.99" y="20.95" width="1.948" height="4.2" fill="#f0c0a0"/><rect x="119.14" y="20.95" width="0.85" height="4.2" fill="#b07a60"/>
<rect x="122.85" y="20.95" width="1.948" height="4.2" fill="#f0c0a0"/><rect x="123.00" y="20.95" width="0.85" height="4.2" fill="#b07a60"/>
<rect x="142.13" y="20.95" width="1.948" height="4.2" fill="#f0c0a0"/><rect x="142.28" y="20.95" width="0.85" height="4.2" fill="#b07a60"/>
<rect x="153.70" y="20.95" width="1.948" height="4.2" fill="#f0c0a0"/><rect x="153.85" y="20.95" width="0.85" height="4.2" fill="#b07a60"/>
<rect x="159.48" y="20.95" width="1.948" height="4.2" fill="#f0c0a0"/><rect x="159.63" y="20.95" width="0.85" height="4.2" fill="#b07a60"/>
<rect x="163.34" y="20.95" width="1.948" height="4.2" fill="#f0c0a0"/><rect x="163.49" y="20.95" width="0.85" height="4.2" fill="#b07a60"/>
<rect x="136.34" y="25.67" width="1.948" height="4.2" fill="#f0c0a0"/><rect x="136.49" y="25.67" width="0.85" height="4.2" fill="#b07a60"/>
<rect x="101.64" y="30.39" width="1.948" height="4.2" fill="#f0c0a0"/><rect x="101.79" y="30.39" width="0.85" height="4.2" fill="#b07a60"/>
<rect x="132.49" y="35.11" width="1.948" height="4.2" fill="#f0c0a0"/><rect x="132.64" y="35.11" width="0.85" height="4.2" fill="#b07a60"/>
<rect x="140.20" y="35.11" width="1.948" height="4.2" fill="#f0c0a0"/><rect x="140.35" y="35.11" width="0.85" height="4.2" fill="#b07a60"/>
<rect x="43.80" y="39.83" width="1.948" height="4.2" fill="#f0c0a0"/><rect x="43.95" y="39.83" width="0.85" height="4.2" fill="#b07a60"/>
<rect x="45.73" y="39.83" width="1.948" height="4.2" fill="#f0c0a0"/><rect x="45.88" y="39.83" width="0.85" height="4.2" fill="#b07a60"/>
<rect x="47.66" y="39.83" width="1.948" height="4.2" fill="#f8b888"/><rect x="47.81" y="39.83" width="0.85" height="4.2" fill="#e48e58"/>
<rect x="49.58" y="39.83" width="1.948" height="4.2" fill="#f8b888"/><rect x="49.73" y="39.83" width="0.85" height="4.2" fill="#e48e58"/>
<rect x="51.51" y="39.83" width="1.948" height="4.2" fill="#f8b888"/><rect x="51.66" y="39.83" width="0.85" height="4.2" fill="#e48e58"/>
<rect x="53.44" y="39.83" width="1.948" height="4.2" fill="#f8b888"/><rect x="53.59" y="39.83" width="0.85" height="4.2" fill="#e48e58"/>
<rect x="55.37" y="39.83" width="1.948" height="4.2" fill="#f8b888"/><rect x="55.52" y="39.83" width="0.85" height="4.2" fill="#e48e58"/>
<rect x="57.30" y="39.83" width="1.948" height="4.2" fill="#f8b888"/><rect x="57.45" y="39.83" width="0.85" height="4.2" fill="#e48e58"/>
<rect x="59.22" y="39.83" width="1.948" height="4.2" fill="#f8b888"/><rect x="59.37" y="39.83" width="0.85" height="4.2" fill="#e48e58"/>
<rect x="61.15" y="39.83" width="1.948" height="4.2" fill="#f8b888"/><rect x="61.30" y="39.83" width="0.85" height="4.2" fill="#e48e58"/>
<rect x="63.08" y="39.83" width="1.948" height="4.2" fill="#f8b888"/><rect x="63.23" y="39.83" width="0.85" height="4.2" fill="#e48e58"/>
<rect x="65.01" y="39.83" width="1.948" height="4.2" fill="#f8b888"/><rect x="65.16" y="39.83" width="0.85" height="4.2" fill="#e48e58"/>
<rect x="66.94" y="39.83" width="1.948" height="4.2" fill="#f8b888"/><rect x="67.09" y="39.83" width="0.85" height="4.2" fill="#e48e58"/>
<rect x="68.86" y="39.83" width="1.948" height="4.2" fill="#f8b888"/><rect x="69.01" y="39.83" width="0.85" height="4.2" fill="#e48e58"/>
<rect x="70.79" y="39.83" width="1.948" height="4.2" fill="#f8b888"/><rect x="70.94" y="39.83" width="0.85" height="4.2" fill="#e48e58"/>
<rect x="72.72" y="39.83" width="1.948" height="4.2" fill="#f8b888"/><rect x="72.87" y="39.83" width="0.85" height="4.2" fill="#e48e58"/>
<rect x="74.65" y="39.83" width="1.948" height="4.2" fill="#f8b888"/><rect x="74.80" y="39.83" width="0.85" height="4.2" fill="#e48e58"/>
<rect x="76.58" y="39.83" width="1.948" height="4.2" fill="#f8b888"/><rect x="76.73" y="39.83" width="0.85" height="4.2" fill="#e48e58"/>
<rect x="78.50" y="39.83" width="1.948" height="4.2" fill="#f8b888"/><rect x="78.65" y="39.83" width="0.85" height="4.2" fill="#e48e58"/>
<rect x="80.43" y="39.83" width="1.948" height="4.2" fill="#f8b888"/><rect x="80.58" y="39.83" width="0.85" height="4.2" fill="#e48e58"/>
<rect x="82.36" y="39.83" width="1.948" height="4.2" fill="#f8b888"/><rect x="82.51" y="39.83" width="0.85" height="4.2" fill="#e48e58"/>
<rect x="84.29" y="39.83" width="1.948" height="4.2" fill="#f8b888"/><rect x="84.44" y="39.83" width="0.85" height="4.2" fill="#e48e58"/>
<rect x="86.22" y="39.83" width="1.948" height="4.2" fill="#f8b888"/><rect x="86.37" y="39.83" width="0.85" height="4.2" fill="#e48e58"/>
<rect x="169.12" y="44.55" width="1.948" height="4.2" fill="#f0c0a0"/><rect x="169.27" y="44.55" width="0.85" height="4.2" fill="#b07a60"/>
<rect x="53.44" y="49.27" width="1.948" height="4.2" fill="#f0c0a0"/><rect x="53.59" y="49.27" width="0.85" height="4.2" fill="#b07a60"/>
<rect x="61.15" y="53.99" width="1.948" height="4.2" fill="#f0c0a0"/><rect x="61.30" y="53.99" width="0.85" height="4.2" fill="#b07a60"/>
<rect x="172.98" y="53.99" width="1.948" height="4.2" fill="#f0c0a0"/><rect x="173.13" y="53.99" width="0.85" height="4.2" fill="#b07a60"/>
<rect x="153.70" y="58.71" width="1.948" height="4.2" fill="#f0c0a0"/><rect x="153.85" y="58.71" width="0.85" height="4.2" fill="#b07a60"/>
<rect x="99.71" y="63.43" width="1.948" height="4.2" fill="#f0c0a0"/><rect x="99.86" y="63.43" width="0.85" height="4.2" fill="#b07a60"/>
<rect x="138.27" y="63.43" width="1.948" height="4.2" fill="#f0c0a0"/><rect x="138.42" y="63.43" width="0.85" height="4.2" fill="#b07a60"/>
<rect x="65.01" y="68.15" width="1.948" height="4.2" fill="#f0c0a0"/><rect x="65.16" y="68.15" width="0.85" height="4.2" fill="#b07a60"/>
<rect x="151.77" y="68.15" width="1.948" height="4.2" fill="#f0c0a0"/><rect x="151.92" y="68.15" width="0.85" height="4.2" fill="#b07a60"/>
<rect x="176.83" y="68.15" width="1.948" height="4.2" fill="#f0c0a0"/><rect x="176.98" y="68.15" width="0.85" height="4.2" fill="#b07a60"/>
<rect x="174.90" y="72.87" width="1.948" height="4.2" fill="#f0c0a0"/><rect x="175.05" y="72.87" width="0.85" height="4.2" fill="#b07a60"/>
<rect x="178.76" y="72.87" width="1.948" height="4.2" fill="#f0c0a0"/><rect x="178.91" y="72.87" width="0.85" height="4.2" fill="#b07a60"/>
<rect x="132.49" y="77.59" width="1.948" height="4.2" fill="#f0c0a0"/><rect x="132.64" y="77.59" width="0.85" height="4.2" fill="#b07a60"/>
<rect x="144.06" y="77.59" width="1.948" height="4.2" fill="#f0c0a0"/><rect x="144.21" y="77.59" width="0.85" height="4.2" fill="#b07a60"/>
<rect x="145.98" y="77.59" width="1.948" height="4.2" fill="#f0c0a0"/><rect x="146.13" y="77.59" width="0.85" height="4.2" fill="#b07a60"/>
<rect x="153.70" y="77.59" width="1.948" height="4.2" fill="#f0c0a0"/><rect x="153.85" y="77.59" width="0.85" height="4.2" fill="#b07a60"/>
<rect x="163.34" y="77.59" width="1.948" height="4.2" fill="#f0c0a0"/><rect x="163.49" y="77.59" width="0.85" height="4.2" fill="#b07a60"/>
<rect x="171.05" y="77.59" width="1.948" height="4.2" fill="#f0c0a0"/><rect x="171.20" y="77.59" width="0.85" height="4.2" fill="#b07a60"/>
<rect x="147.91" y="82.31" width="1.948" height="4.2" fill="#f0c0a0"/><rect x="148.06" y="82.31" width="0.85" height="4.2" fill="#b07a60"/>
<rect x="134.42" y="87.03" width="1.948" height="4.2" fill="#f0c0a0"/><rect x="134.57" y="87.03" width="0.85" height="4.2" fill="#b07a60"/>
<rect x="43.80" y="91.75" width="1.948" height="4.2" fill="#f0c0a0"/><rect x="43.95" y="91.75" width="0.85" height="4.2" fill="#b07a60"/>
<rect x="45.73" y="91.75" width="1.948" height="4.2" fill="#f0c0a0"/><rect x="45.88" y="91.75" width="0.85" height="4.2" fill="#b07a60"/>
<rect x="88.14" y="91.75" width="1.948" height="4.2" fill="#f8b888"/><rect x="88.29" y="91.75" width="0.85" height="4.2" fill="#e48e58"/>
<rect x="90.07" y="91.75" width="1.948" height="4.2" fill="#f8b888"/><rect x="90.22" y="91.75" width="0.85" height="4.2" fill="#e48e58"/>
<rect x="92.00" y="91.75" width="1.948" height="4.2" fill="#f8b888"/><rect x="92.15" y="91.75" width="0.85" height="4.2" fill="#e48e58"/>
<rect x="93.93" y="91.75" width="1.948" height="4.2" fill="#f8b888"/><rect x="94.08" y="91.75" width="0.85" height="4.2" fill="#e48e58"/>
<rect x="95.86" y="91.75" width="1.948" height="4.2" fill="#f8b888"/><rect x="96.01" y="91.75" width="0.85" height="4.2" fill="#e48e58"/>
<rect x="97.78" y="91.75" width="1.948" height="4.2" fill="#f8b888"/><rect x="97.93" y="91.75" width="0.85" height="4.2" fill="#e48e58"/>
<rect x="99.71" y="91.75" width="1.948" height="4.2" fill="#f8b888"/><rect x="99.86" y="91.75" width="0.85" height="4.2" fill="#e48e58"/>
<rect x="101.64" y="91.75" width="1.948" height="4.2" fill="#f8b888"/><rect x="101.79" y="91.75" width="0.85" height="4.2" fill="#e48e58"/>
<rect x="103.57" y="91.75" width="1.948" height="4.2" fill="#f8b888"/><rect x="103.72" y="91.75" width="0.85" height="4.2" fill="#e48e58"/>
<rect x="105.50" y="91.75" width="1.948" height="4.2" fill="#f8b888"/><rect x="105.65" y="91.75" width="0.85" height="4.2" fill="#e48e58"/>
<rect x="107.42" y="91.75" width="1.948" height="4.2" fill="#f8b888"/><rect x="107.57" y="91.75" width="0.85" height="4.2" fill="#e48e58"/>
<rect x="109.35" y="91.75" width="1.948" height="4.2" fill="#f8b888"/><rect x="109.50" y="91.75" width="0.85" height="4.2" fill="#e48e58"/>
<rect x="111.28" y="91.75" width="1.948" height="4.2" fill="#f8b888"/><rect x="111.43" y="91.75" width="0.85" height="4.2" fill="#e48e58"/>
<rect x="113.21" y="91.75" width="1.948" height="4.2" fill="#f8b888"/><rect x="113.36" y="91.75" width="0.85" height="4.2" fill="#e48e58"/>
<rect x="115.14" y="91.75" width="1.948" height="4.2" fill="#f8b888"/><rect x="115.29" y="91.75" width="0.85" height="4.2" fill="#e48e58"/>
<rect x="117.06" y="91.75" width="1.948" height="4.2" fill="#f8b888"/><rect x="117.21" y="91.75" width="0.85" height="4.2" fill="#e48e58"/>
<rect x="118.99" y="91.75" width="1.948" height="4.2" fill="#f8b888"/><rect x="119.14" y="91.75" width="0.85" height="4.2" fill="#e48e58"/>
<rect x="120.92" y="91.75" width="1.948" height="4.2" fill="#f8b888"/><rect x="121.07" y="91.75" width="0.85" height="4.2" fill="#e48e58"/>
<rect x="122.85" y="91.75" width="1.948" height="4.2" fill="#f8b888"/><rect x="123.00" y="91.75" width="0.85" height="4.2" fill="#e48e58"/>
<rect x="124.78" y="91.75" width="1.948" height="4.2" fill="#f8b888"/><rect x="124.93" y="91.75" width="0.85" height="4.2" fill="#e48e58"/>
<rect x="126.70" y="91.75" width="1.948" height="4.2" fill="#f8b888"/><rect x="126.85" y="91.75" width="0.85" height="4.2" fill="#e48e58"/>
<rect x="128.63" y="91.75" width="1.948" height="4.2" fill="#f8b888"/><rect x="128.78" y="91.75" width="0.85" height="4.2" fill="#e48e58"/>
<rect x="65.01" y="96.47" width="1.948" height="4.2" fill="#f0c0a0"/><rect x="65.16" y="96.47" width="0.85" height="4.2" fill="#b07a60"/>
<rect x="155.62" y="96.47" width="1.948" height="4.2" fill="#f0c0a0"/><rect x="155.77" y="96.47" width="0.85" height="4.2" fill="#b07a60"/>
<rect x="165.26" y="96.47" width="1.948" height="4.2" fill="#f0c0a0"/><rect x="165.41" y="96.47" width="0.85" height="4.2" fill="#b07a60"/>
<rect x="43.80" y="103.30" width="1.948" height="4.0" fill="#a7bfde"/><rect x="43.95" y="103.30" width="0.85" height="4.0" fill="#2d4768"/>
<rect x="45.73" y="103.30" width="1.948" height="4.0" fill="#a7bfde"/><rect x="45.88" y="103.30" width="0.85" height="4.0" fill="#2d4768"/>
<rect x="49.58" y="103.30" width="1.948" height="4.0" fill="#a7bfde"/><rect x="49.73" y="103.30" width="0.85" height="4.0" fill="#2d4768"/>
<rect x="57.30" y="103.30" width="1.948" height="4.0" fill="#a7bfde"/><rect x="57.45" y="103.30" width="0.85" height="4.0" fill="#2d4768"/>
<rect x="65.01" y="103.30" width="1.948" height="4.0" fill="#a7bfde"/><rect x="65.16" y="103.30" width="0.85" height="4.0" fill="#2d4768"/>
<rect x="68.86" y="103.30" width="1.948" height="4.0" fill="#a7bfde"/><rect x="69.01" y="103.30" width="0.85" height="4.0" fill="#2d4768"/>
<rect x="74.65" y="103.30" width="1.948" height="4.0" fill="#a7bfde"/><rect x="74.80" y="103.30" width="0.85" height="4.0" fill="#2d4768"/>
<rect x="76.58" y="103.30" width="1.948" height="4.0" fill="#a7bfde"/><rect x="76.73" y="103.30" width="0.85" height="4.0" fill="#2d4768"/>
<rect x="78.50" y="103.30" width="1.948" height="4.0" fill="#a7bfde"/><rect x="78.65" y="103.30" width="0.85" height="4.0" fill="#2d4768"/>
<rect x="84.29" y="103.30" width="1.948" height="4.0" fill="#a7bfde"/><rect x="84.44" y="103.30" width="0.85" height="4.0" fill="#2d4768"/>
<rect x="93.93" y="103.30" width="1.948" height="4.0" fill="#a7bfde"/><rect x="94.08" y="103.30" width="0.85" height="4.0" fill="#2d4768"/>
<rect x="95.86" y="103.30" width="1.948" height="4.0" fill="#a7bfde"/><rect x="96.01" y="103.30" width="0.85" height="4.0" fill="#2d4768"/>
<rect x="97.78" y="103.30" width="1.948" height="4.0" fill="#a7bfde"/><rect x="97.93" y="103.30" width="0.85" height="4.0" fill="#2d4768"/>
<rect x="99.71" y="103.30" width="1.948" height="4.0" fill="#a7bfde"/><rect x="99.86" y="103.30" width="0.85" height="4.0" fill="#2d4768"/>
<rect x="107.42" y="103.30" width="1.948" height="4.0" fill="#a7bfde"/><rect x="107.57" y="103.30" width="0.85" height="4.0" fill="#2d4768"/>
<rect x="109.35" y="103.30" width="1.948" height="4.0" fill="#a7bfde"/><rect x="109.50" y="103.30" width="0.85" height="4.0" fill="#2d4768"/>
<rect x="113.21" y="103.30" width="1.948" height="4.0" fill="#a7bfde"/><rect x="113.36" y="103.30" width="0.85" height="4.0" fill="#2d4768"/>
<rect x="115.14" y="103.30" width="1.948" height="4.0" fill="#a7bfde"/><rect x="115.29" y="103.30" width="0.85" height="4.0" fill="#2d4768"/>
<rect x="117.06" y="103.30" width="1.948" height="4.0" fill="#a7bfde"/><rect x="117.21" y="103.30" width="0.85" height="4.0" fill="#2d4768"/>
<rect x="118.99" y="103.30" width="1.948" height="4.0" fill="#a7bfde"/><rect x="119.14" y="103.30" width="0.85" height="4.0" fill="#2d4768"/>
<rect x="122.85" y="103.30" width="1.948" height="4.0" fill="#a7bfde"/><rect x="123.00" y="103.30" width="0.85" height="4.0" fill="#2d4768"/>
<rect x="128.63" y="103.30" width="1.948" height="4.0" fill="#a7bfde"/><rect x="128.78" y="103.30" width="0.85" height="4.0" fill="#2d4768"/>
<rect x="130.56" y="103.30" width="1.948" height="4.0" fill="#a7bfde"/><rect x="130.71" y="103.30" width="0.85" height="4.0" fill="#2d4768"/>
<rect x="132.49" y="103.30" width="1.948" height="4.0" fill="#a7bfde"/><rect x="132.64" y="103.30" width="0.85" height="4.0" fill="#2d4768"/>
<rect x="134.42" y="103.30" width="1.948" height="4.0" fill="#a7bfde"/><rect x="134.57" y="103.30" width="0.85" height="4.0" fill="#2d4768"/>
<rect x="140.20" y="103.30" width="1.948" height="4.0" fill="#a7bfde"/><rect x="140.35" y="103.30" width="0.85" height="4.0" fill="#2d4768"/>
<rect x="144.06" y="103.30" width="1.948" height="4.0" fill="#a7bfde"/><rect x="144.21" y="103.30" width="0.85" height="4.0" fill="#2d4768"/>
<rect x="149.84" y="103.30" width="1.948" height="4.0" fill="#a7bfde"/><rect x="149.99" y="103.30" width="0.85" height="4.0" fill="#2d4768"/>
<rect x="167.19" y="103.30" width="1.948" height="4.0" fill="#a7bfde"/><rect x="167.34" y="103.30" width="0.85" height="4.0" fill="#2d4768"/>
<rect x="172.98" y="103.30" width="1.948" height="4.0" fill="#a7bfde"/><rect x="173.13" y="103.30" width="0.85" height="4.0" fill="#2d4768"/>
<rect x="180.69" y="103.30" width="1.948" height="4.0" fill="#a7bfde"/><rect x="180.84" y="103.30" width="0.85" height="4.0" fill="#2d4768"/>
<rect x="184.54" y="103.30" width="1.948" height="4.0" fill="#a7bfde"/><rect x="184.69" y="103.30" width="0.85" height="4.0" fill="#2d4768"/>
<rect x="192.26" y="103.30" width="1.948" height="4.0" fill="#a7bfde"/><rect x="192.41" y="103.30" width="0.85" height="4.0" fill="#2d4768"/>
<rect x="198.04" y="103.30" width="1.948" height="4.0" fill="#a7bfde"/><rect x="198.19" y="103.30" width="0.85" height="4.0" fill="#2d4768"/>
<rect x="199.97" y="103.30" width="1.948" height="4.0" fill="#a7bfde"/><rect x="200.12" y="103.30" width="0.85" height="4.0" fill="#2d4768"/>
<rect x="211.54" y="103.30" width="1.948" height="4.0" fill="#a7bfde"/><rect x="211.69" y="103.30" width="0.85" height="4.0" fill="#2d4768"/>
<rect x="215.39" y="103.30" width="1.948" height="4.0" fill="#a7bfde"/><rect x="215.54" y="103.30" width="0.85" height="4.0" fill="#2d4768"/>
<rect x="217.32" y="103.30" width="1.948" height="4.0" fill="#a7bfde"/><rect x="217.47" y="103.30" width="0.85" height="4.0" fill="#2d4768"/>
<rect x="219.25" y="103.30" width="1.948" height="4.0" fill="#a7bfde"/><rect x="219.40" y="103.30" width="0.85" height="4.0" fill="#2d4768"/>
<rect x="230.82" y="103.30" width="1.948" height="4.0" fill="#a7bfde"/><rect x="230.97" y="103.30" width="0.85" height="4.0" fill="#2d4768"/>
<rect x="234.67" y="103.30" width="1.948" height="4.0" fill="#a7bfde"/><rect x="234.82" y="103.30" width="0.85" height="4.0" fill="#2d4768"/>
<rect x="242.38" y="103.30" width="1.948" height="4.0" fill="#a7bfde"/><rect x="242.53" y="103.30" width="0.85" height="4.0" fill="#2d4768"/>
<rect x="244.31" y="103.30" width="1.948" height="4.0" fill="#a7bfde"/><rect x="244.46" y="103.30" width="0.85" height="4.0" fill="#2d4768"/>
<rect x="252.02" y="103.30" width="1.948" height="4.0" fill="#a7bfde"/><rect x="252.17" y="103.30" width="0.85" height="4.0" fill="#2d4768"/>
<rect x="253.95" y="103.30" width="1.948" height="4.0" fill="#a7bfde"/><rect x="254.10" y="103.30" width="0.85" height="4.0" fill="#2d4768"/>
<rect x="259.74" y="103.30" width="1.948" height="4.0" fill="#a7bfde"/><rect x="259.89" y="103.30" width="0.85" height="4.0" fill="#2d4768"/>
<rect x="261.66" y="103.30" width="1.948" height="4.0" fill="#a7bfde"/><rect x="261.81" y="103.30" width="0.85" height="4.0" fill="#2d4768"/>
<rect x="265.52" y="103.30" width="1.948" height="4.0" fill="#a7bfde"/><rect x="265.67" y="103.30" width="0.85" height="4.0" fill="#2d4768"/>
<rect x="269.38" y="103.30" width="1.948" height="4.0" fill="#a7bfde"/><rect x="269.53" y="103.30" width="0.85" height="4.0" fill="#2d4768"/>
<rect x="271.30" y="103.30" width="1.948" height="4.0" fill="#a7bfde"/><rect x="271.45" y="103.30" width="0.85" height="4.0" fill="#2d4768"/>
<rect x="273.23" y="103.30" width="1.948" height="4.0" fill="#a7bfde"/><rect x="273.38" y="103.30" width="0.85" height="4.0" fill="#2d4768"/>
<rect x="275.16" y="103.30" width="1.948" height="4.0" fill="#a7bfde"/><rect x="275.31" y="103.30" width="0.85" height="4.0" fill="#2d4768"/>
<rect x="286.73" y="103.30" width="1.948" height="4.0" fill="#a7bfde"/><rect x="286.88" y="103.30" width="0.85" height="4.0" fill="#2d4768"/>
<rect x="292.51" y="103.30" width="1.948" height="4.0" fill="#a7bfde"/><rect x="292.66" y="103.30" width="0.85" height="4.0" fill="#2d4768"/>
<rect x="294.44" y="103.30" width="1.948" height="4.0" fill="#a7bfde"/><rect x="294.59" y="103.30" width="0.85" height="4.0" fill="#2d4768"/>
<rect x="300.22" y="103.30" width="1.948" height="4.0" fill="#a7bfde"/><rect x="300.37" y="103.30" width="0.85" height="4.0" fill="#2d4768"/>
<rect x="306.01" y="103.30" width="1.948" height="4.0" fill="#a7bfde"/><rect x="306.16" y="103.30" width="0.85" height="4.0" fill="#2d4768"/>
<rect x="315.65" y="103.30" width="1.948" height="4.0" fill="#a7bfde"/><rect x="315.80" y="103.30" width="0.85" height="4.0" fill="#2d4768"/>
<rect x="317.58" y="103.30" width="1.948" height="4.0" fill="#a7bfde"/><rect x="317.73" y="103.30" width="0.85" height="4.0" fill="#2d4768"/>
<rect x="321.43" y="103.30" width="1.948" height="4.0" fill="#a7bfde"/><rect x="321.58" y="103.30" width="0.85" height="4.0" fill="#2d4768"/>
<rect x="325.29" y="103.30" width="1.948" height="4.0" fill="#a7bfde"/><rect x="325.44" y="103.30" width="0.85" height="4.0" fill="#2d4768"/>
<rect x="329.14" y="103.30" width="1.948" height="4.0" fill="#a7bfde"/><rect x="329.29" y="103.30" width="0.85" height="4.0" fill="#2d4768"/>
<rect x="331.07" y="103.30" width="1.948" height="4.0" fill="#a7bfde"/><rect x="331.22" y="103.30" width="0.85" height="4.0" fill="#2d4768"/>
<rect x="333.00" y="103.30" width="1.948" height="4.0" fill="#a7bfde"/><rect x="333.15" y="103.30" width="0.85" height="4.0" fill="#2d4768"/>
<rect x="336.86" y="103.30" width="1.948" height="4.0" fill="#a7bfde"/><rect x="337.01" y="103.30" width="0.85" height="4.0" fill="#2d4768"/>
<rect x="340.71" y="103.30" width="1.948" height="4.0" fill="#a7bfde"/><rect x="340.86" y="103.30" width="0.85" height="4.0" fill="#2d4768"/>
<rect x="342.64" y="103.30" width="1.948" height="4.0" fill="#a7bfde"/><rect x="342.79" y="103.30" width="0.85" height="4.0" fill="#2d4768"/>
<rect x="346.50" y="103.30" width="1.948" height="4.0" fill="#a7bfde"/><rect x="346.65" y="103.30" width="0.85" height="4.0" fill="#2d4768"/>
<rect x="348.42" y="103.30" width="1.948" height="4.0" fill="#a7bfde"/><rect x="348.57" y="103.30" width="0.85" height="4.0" fill="#2d4768"/>
<rect x="350.35" y="103.30" width="1.948" height="4.0" fill="#a7bfde"/><rect x="350.50" y="103.30" width="0.85" height="4.0" fill="#2d4768"/>
<rect x="354.21" y="103.30" width="1.948" height="4.0" fill="#a7bfde"/><rect x="354.36" y="103.30" width="0.85" height="4.0" fill="#2d4768"/>
<rect x="358.06" y="103.30" width="1.948" height="4.0" fill="#a7bfde"/><rect x="358.21" y="103.30" width="0.85" height="4.0" fill="#2d4768"/>
<rect x="363.85" y="103.30" width="1.948" height="4.0" fill="#a7bfde"/><rect x="364.00" y="103.30" width="0.85" height="4.0" fill="#2d4768"/>
<rect x="373.49" y="103.30" width="1.948" height="4.0" fill="#a7bfde"/><rect x="373.64" y="103.30" width="0.85" height="4.0" fill="#2d4768"/>
<rect x="375.42" y="103.30" width="1.948" height="4.0" fill="#a7bfde"/><rect x="375.57" y="103.30" width="0.85" height="4.0" fill="#2d4768"/>
<rect x="377.34" y="103.30" width="1.948" height="4.0" fill="#a7bfde"/><rect x="377.49" y="103.30" width="0.85" height="4.0" fill="#2d4768"/>
<rect x="388.91" y="103.30" width="1.948" height="4.0" fill="#a7bfde"/><rect x="389.06" y="103.30" width="0.85" height="4.0" fill="#2d4768"/>
<rect x="390.84" y="103.30" width="1.948" height="4.0" fill="#a7bfde"/><rect x="390.99" y="103.30" width="0.85" height="4.0" fill="#2d4768"/>
<rect x="394.70" y="103.30" width="1.948" height="4.0" fill="#a7bfde"/><rect x="394.85" y="103.30" width="0.85" height="4.0" fill="#2d4768"/>
<rect x="396.62" y="103.30" width="1.948" height="4.0" fill="#a7bfde"/><rect x="396.77" y="103.30" width="0.85" height="4.0" fill="#2d4768"/>
<rect x="400.48" y="103.30" width="1.948" height="4.0" fill="#a7bfde"/><rect x="400.63" y="103.30" width="0.85" height="4.0" fill="#2d4768"/>
<rect x="402.41" y="103.30" width="1.948" height="4.0" fill="#a7bfde"/><rect x="402.56" y="103.30" width="0.85" height="4.0" fill="#2d4768"/>
<rect x="413.98" y="103.30" width="1.948" height="4.0" fill="#a7bfde"/><rect x="414.13" y="103.30" width="0.85" height="4.0" fill="#2d4768"/>
<rect x="417.83" y="103.30" width="1.948" height="4.0" fill="#a7bfde"/><rect x="417.98" y="103.30" width="0.85" height="4.0" fill="#2d4768"/>
<rect x="419.76" y="103.30" width="1.948" height="4.0" fill="#a7bfde"/><rect x="419.91" y="103.30" width="0.85" height="4.0" fill="#2d4768"/>
<rect x="427.47" y="103.30" width="1.948" height="4.0" fill="#a7bfde"/><rect x="427.62" y="103.30" width="0.85" height="4.0" fill="#2d4768"/>
<rect x="429.40" y="103.30" width="1.948" height="4.0" fill="#a7bfde"/><rect x="429.55" y="103.30" width="0.85" height="4.0" fill="#2d4768"/>
<rect x="435.18" y="103.30" width="1.948" height="4.0" fill="#a7bfde"/><rect x="435.33" y="103.30" width="0.85" height="4.0" fill="#2d4768"/>
<rect x="437.11" y="103.30" width="1.948" height="4.0" fill="#a7bfde"/><rect x="437.26" y="103.30" width="0.85" height="4.0" fill="#2d4768"/>
<rect x="440.97" y="103.30" width="1.948" height="4.0" fill="#a7bfde"/><rect x="441.12" y="103.30" width="0.85" height="4.0" fill="#2d4768"/>
<rect x="446.75" y="103.30" width="1.948" height="4.0" fill="#a7bfde"/><rect x="446.90" y="103.30" width="0.85" height="4.0" fill="#2d4768"/>
<rect x="454.46" y="103.30" width="1.948" height="4.0" fill="#a7bfde"/><rect x="454.61" y="103.30" width="0.85" height="4.0" fill="#2d4768"/>
<rect x="456.39" y="103.30" width="1.948" height="4.0" fill="#a7bfde"/><rect x="456.54" y="103.30" width="0.85" height="4.0" fill="#2d4768"/>
<rect x="460.25" y="103.30" width="1.948" height="4.0" fill="#a7bfde"/><rect x="460.40" y="103.30" width="0.85" height="4.0" fill="#2d4768"/>
<rect x="462.18" y="103.30" width="1.948" height="4.0" fill="#a7bfde"/><rect x="462.33" y="103.30" width="0.85" height="4.0" fill="#2d4768"/>
<rect x="467.96" y="103.30" width="1.948" height="4.0" fill="#a7bfde"/><rect x="468.11" y="103.30" width="0.85" height="4.0" fill="#2d4768"/>
<rect x="469.89" y="103.30" width="1.948" height="4.0" fill="#a7bfde"/><rect x="470.04" y="103.30" width="0.85" height="4.0" fill="#2d4768"/>
<rect x="475.67" y="103.30" width="1.948" height="4.0" fill="#a7bfde"/><rect x="475.82" y="103.30" width="0.85" height="4.0" fill="#2d4768"/>
<rect x="477.60" y="103.30" width="1.948" height="4.0" fill="#a7bfde"/><rect x="477.75" y="103.30" width="0.85" height="4.0" fill="#2d4768"/>
<rect x="479.53" y="103.30" width="1.948" height="4.0" fill="#a7bfde"/><rect x="479.68" y="103.30" width="0.85" height="4.0" fill="#2d4768"/>
<rect x="485.31" y="103.30" width="1.948" height="4.0" fill="#a7bfde"/><rect x="485.46" y="103.30" width="0.85" height="4.0" fill="#2d4768"/>
<rect x="487.24" y="103.30" width="1.948" height="4.0" fill="#a7bfde"/><rect x="487.39" y="103.30" width="0.85" height="4.0" fill="#2d4768"/>
<rect x="491.10" y="103.30" width="1.948" height="4.0" fill="#a7bfde"/><rect x="491.25" y="103.30" width="0.85" height="4.0" fill="#2d4768"/>
<rect x="493.02" y="103.30" width="1.948" height="4.0" fill="#a7bfde"/><rect x="493.17" y="103.30" width="0.85" height="4.0" fill="#2d4768"/>
<rect x="494.95" y="103.30" width="1.948" height="4.0" fill="#a7bfde"/><rect x="495.10" y="103.30" width="0.85" height="4.0" fill="#2d4768"/>
<rect x="498.81" y="103.30" width="1.948" height="4.0" fill="#a7bfde"/><rect x="498.96" y="103.30" width="0.85" height="4.0" fill="#2d4768"/>
<rect x="504.59" y="103.30" width="1.948" height="4.0" fill="#a7bfde"/><rect x="504.74" y="103.30" width="0.85" height="4.0" fill="#2d4768"/>
<rect x="506.52" y="103.30" width="1.948" height="4.0" fill="#a7bfde"/><rect x="506.67" y="103.30" width="0.85" height="4.0" fill="#2d4768"/>
<rect x="508.45" y="103.30" width="1.948" height="4.0" fill="#a7bfde"/><rect x="508.60" y="103.30" width="0.85" height="4.0" fill="#2d4768"/>
<rect x="43.80" y="109.80" width="1.948" height="4.0" fill="#fde6b8"/><rect x="43.95" y="109.80" width="0.85" height="4.0" fill="#f3c47e"/>
<rect x="45.73" y="109.80" width="1.948" height="4.0" fill="#fde6b8"/><rect x="45.88" y="109.80" width="0.85" height="4.0" fill="#f3c47e"/>
<rect x="47.66" y="109.80" width="1.948" height="4.0" fill="#fde6b8"/><rect x="47.81" y="109.80" width="0.85" height="4.0" fill="#f3c47e"/>
<rect x="53.44" y="109.80" width="1.948" height="4.0" fill="#fde6b8"/><rect x="53.59" y="109.80" width="0.85" height="4.0" fill="#f3c47e"/>
<rect x="55.37" y="109.80" width="1.948" height="4.0" fill="#fde6b8"/><rect x="55.52" y="109.80" width="0.85" height="4.0" fill="#f3c47e"/>
<rect x="59.22" y="109.80" width="1.948" height="4.0" fill="#fde6b8"/><rect x="59.37" y="109.80" width="0.85" height="4.0" fill="#f3c47e"/>
<rect x="61.15" y="109.80" width="1.948" height="4.0" fill="#fde6b8"/><rect x="61.30" y="109.80" width="0.85" height="4.0" fill="#f3c47e"/>
<rect x="63.08" y="109.80" width="1.948" height="4.0" fill="#fde6b8"/><rect x="63.23" y="109.80" width="0.85" height="4.0" fill="#f3c47e"/>
<rect x="65.01" y="109.80" width="1.948" height="4.0" fill="#fde6b8"/><rect x="65.16" y="109.80" width="0.85" height="4.0" fill="#f3c47e"/>
<rect x="66.94" y="109.80" width="1.948" height="4.0" fill="#fde6b8"/><rect x="67.09" y="109.80" width="0.85" height="4.0" fill="#f3c47e"/>
<rect x="74.65" y="109.80" width="1.948" height="4.0" fill="#fde6b8"/><rect x="74.80" y="109.80" width="0.85" height="4.0" fill="#f3c47e"/>
<rect x="78.50" y="109.80" width="1.948" height="4.0" fill="#fde6b8"/><rect x="78.65" y="109.80" width="0.85" height="4.0" fill="#f3c47e"/>
<rect x="88.14" y="109.80" width="1.948" height="4.0" fill="#fde6b8"/><rect x="88.29" y="109.80" width="0.85" height="4.0" fill="#f3c47e"/>
<rect x="90.07" y="109.80" width="1.948" height="4.0" fill="#fde6b8"/><rect x="90.22" y="109.80" width="0.85" height="4.0" fill="#f3c47e"/>
<rect x="92.00" y="109.80" width="1.948" height="4.0" fill="#fde6b8"/><rect x="92.15" y="109.80" width="0.85" height="4.0" fill="#f3c47e"/>
<rect x="93.93" y="109.80" width="1.948" height="4.0" fill="#fde6b8"/><rect x="94.08" y="109.80" width="0.85" height="4.0" fill="#f3c47e"/>
<rect x="95.86" y="109.80" width="1.948" height="4.0" fill="#fde6b8"/><rect x="96.01" y="109.80" width="0.85" height="4.0" fill="#f3c47e"/>
<rect x="99.71" y="109.80" width="1.948" height="4.0" fill="#fde6b8"/><rect x="99.86" y="109.80" width="0.85" height="4.0" fill="#f3c47e"/>
<rect x="101.64" y="109.80" width="1.948" height="4.0" fill="#fde6b8"/><rect x="101.79" y="109.80" width="0.85" height="4.0" fill="#f3c47e"/>
<rect x="103.57" y="109.80" width="1.948" height="4.0" fill="#fde6b8"/><rect x="103.72" y="109.80" width="0.85" height="4.0" fill="#f3c47e"/>
<rect x="109.35" y="109.80" width="1.948" height="4.0" fill="#fde6b8"/><rect x="109.50" y="109.80" width="0.85" height="4.0" fill="#f3c47e"/>
<rect x="124.78" y="109.80" width="1.948" height="4.0" fill="#fde6b8"/><rect x="124.93" y="109.80" width="0.85" height="4.0" fill="#f3c47e"/>
<rect x="132.49" y="109.80" width="1.948" height="4.0" fill="#fde6b8"/><rect x="132.64" y="109.80" width="0.85" height="4.0" fill="#f3c47e"/>
<rect x="134.42" y="109.80" width="1.948" height="4.0" fill="#fde6b8"/><rect x="134.57" y="109.80" width="0.85" height="4.0" fill="#f3c47e"/>
<rect x="138.27" y="109.80" width="1.948" height="4.0" fill="#fde6b8"/><rect x="138.42" y="109.80" width="0.85" height="4.0" fill="#f3c47e"/>
<rect x="142.13" y="109.80" width="1.948" height="4.0" fill="#fde6b8"/><rect x="142.28" y="109.80" width="0.85" height="4.0" fill="#f3c47e"/>
<rect x="145.98" y="109.80" width="1.948" height="4.0" fill="#fde6b8"/><rect x="146.13" y="109.80" width="0.85" height="4.0" fill="#f3c47e"/>
<rect x="149.84" y="109.80" width="1.948" height="4.0" fill="#fde6b8"/><rect x="149.99" y="109.80" width="0.85" height="4.0" fill="#f3c47e"/>
<rect x="153.70" y="109.80" width="1.948" height="4.0" fill="#fde6b8"/><rect x="153.85" y="109.80" width="0.85" height="4.0" fill="#f3c47e"/>
<rect x="155.62" y="109.80" width="1.948" height="4.0" fill="#fde6b8"/><rect x="155.77" y="109.80" width="0.85" height="4.0" fill="#f3c47e"/>
<rect x="157.55" y="109.80" width="1.948" height="4.0" fill="#fde6b8"/><rect x="157.70" y="109.80" width="0.85" height="4.0" fill="#f3c47e"/>
<rect x="163.34" y="109.80" width="1.948" height="4.0" fill="#fde6b8"/><rect x="163.49" y="109.80" width="0.85" height="4.0" fill="#f3c47e"/>
<rect x="165.26" y="109.80" width="1.948" height="4.0" fill="#fde6b8"/><rect x="165.41" y="109.80" width="0.85" height="4.0" fill="#f3c47e"/>
<rect x="169.12" y="109.80" width="1.948" height="4.0" fill="#fde6b8"/><rect x="169.27" y="109.80" width="0.85" height="4.0" fill="#f3c47e"/>
<rect x="174.90" y="109.80" width="1.948" height="4.0" fill="#fde6b8"/><rect x="175.05" y="109.80" width="0.85" height="4.0" fill="#f3c47e"/>
<rect x="180.69" y="109.80" width="1.948" height="4.0" fill="#fde6b8"/><rect x="180.84" y="109.80" width="0.85" height="4.0" fill="#f3c47e"/>
<rect x="182.62" y="109.80" width="1.948" height="4.0" fill="#fde6b8"/><rect x="182.77" y="109.80" width="0.85" height="4.0" fill="#f3c47e"/>
<rect x="186.47" y="109.80" width="1.948" height="4.0" fill="#fde6b8"/><rect x="186.62" y="109.80" width="0.85" height="4.0" fill="#f3c47e"/>
<rect x="198.04" y="109.80" width="1.948" height="4.0" fill="#fde6b8"/><rect x="198.19" y="109.80" width="0.85" height="4.0" fill="#f3c47e"/>
<rect x="199.97" y="109.80" width="1.948" height="4.0" fill="#fde6b8"/><rect x="200.12" y="109.80" width="0.85" height="4.0" fill="#f3c47e"/>
<rect x="211.54" y="109.80" width="1.948" height="4.0" fill="#fde6b8"/><rect x="211.69" y="109.80" width="0.85" height="4.0" fill="#f3c47e"/>
<rect x="221.18" y="109.80" width="1.948" height="4.0" fill="#fde6b8"/><rect x="221.33" y="109.80" width="0.85" height="4.0" fill="#f3c47e"/>
<rect x="228.89" y="109.80" width="1.948" height="4.0" fill="#fde6b8"/><rect x="229.04" y="109.80" width="0.85" height="4.0" fill="#f3c47e"/>
<rect x="240.46" y="109.80" width="1.948" height="4.0" fill="#fde6b8"/><rect x="240.61" y="109.80" width="0.85" height="4.0" fill="#f3c47e"/>
<rect x="242.38" y="109.80" width="1.948" height="4.0" fill="#fde6b8"/><rect x="242.53" y="109.80" width="0.85" height="4.0" fill="#f3c47e"/>
<rect x="244.31" y="109.80" width="1.948" height="4.0" fill="#fde6b8"/><rect x="244.46" y="109.80" width="0.85" height="4.0" fill="#f3c47e"/>
<rect x="246.24" y="109.80" width="1.948" height="4.0" fill="#fde6b8"/><rect x="246.39" y="109.80" width="0.85" height="4.0" fill="#f3c47e"/>
<rect x="248.17" y="109.80" width="1.948" height="4.0" fill="#fde6b8"/><rect x="248.32" y="109.80" width="0.85" height="4.0" fill="#f3c47e"/>
<rect x="250.10" y="109.80" width="1.948" height="4.0" fill="#fde6b8"/><rect x="250.25" y="109.80" width="0.85" height="4.0" fill="#f3c47e"/>
<rect x="252.02" y="109.80" width="1.948" height="4.0" fill="#fde6b8"/><rect x="252.17" y="109.80" width="0.85" height="4.0" fill="#f3c47e"/>
<rect x="257.81" y="109.80" width="1.948" height="4.0" fill="#fde6b8"/><rect x="257.96" y="109.80" width="0.85" height="4.0" fill="#f3c47e"/>
<rect x="261.66" y="109.80" width="1.948" height="4.0" fill="#fde6b8"/><rect x="261.81" y="109.80" width="0.85" height="4.0" fill="#f3c47e"/>
<rect x="263.59" y="109.80" width="1.948" height="4.0" fill="#fde6b8"/><rect x="263.74" y="109.80" width="0.85" height="4.0" fill="#f3c47e"/>
<rect x="273.23" y="109.80" width="1.948" height="4.0" fill="#fde6b8"/><rect x="273.38" y="109.80" width="0.85" height="4.0" fill="#f3c47e"/>
<rect x="279.02" y="109.80" width="1.948" height="4.0" fill="#fde6b8"/><rect x="279.17" y="109.80" width="0.85" height="4.0" fill="#f3c47e"/>
<rect x="280.94" y="109.80" width="1.948" height="4.0" fill="#fde6b8"/><rect x="281.09" y="109.80" width="0.85" height="4.0" fill="#f3c47e"/>
<rect x="288.66" y="109.80" width="1.948" height="4.0" fill="#fde6b8"/><rect x="288.81" y="109.80" width="0.85" height="4.0" fill="#f3c47e"/>
<rect x="290.58" y="109.80" width="1.948" height="4.0" fill="#fde6b8"/><rect x="290.73" y="109.80" width="0.85" height="4.0" fill="#f3c47e"/>
<rect x="292.51" y="109.80" width="1.948" height="4.0" fill="#fde6b8"/><rect x="292.66" y="109.80" width="0.85" height="4.0" fill="#f3c47e"/>
<rect x="294.44" y="109.80" width="1.948" height="4.0" fill="#fde6b8"/><rect x="294.59" y="109.80" width="0.85" height="4.0" fill="#f3c47e"/>
<rect x="296.37" y="109.80" width="1.948" height="4.0" fill="#fde6b8"/><rect x="296.52" y="109.80" width="0.85" height="4.0" fill="#f3c47e"/>
<rect x="298.30" y="109.80" width="1.948" height="4.0" fill="#fde6b8"/><rect x="298.45" y="109.80" width="0.85" height="4.0" fill="#f3c47e"/>
<rect x="304.08" y="109.80" width="1.948" height="4.0" fill="#fde6b8"/><rect x="304.23" y="109.80" width="0.85" height="4.0" fill="#f3c47e"/>
<rect x="306.01" y="109.80" width="1.948" height="4.0" fill="#fde6b8"/><rect x="306.16" y="109.80" width="0.85" height="4.0" fill="#f3c47e"/>
<rect x="317.58" y="109.80" width="1.948" height="4.0" fill="#fde6b8"/><rect x="317.73" y="109.80" width="0.85" height="4.0" fill="#f3c47e"/>
<rect x="329.14" y="109.80" width="1.948" height="4.0" fill="#fde6b8"/><rect x="329.29" y="109.80" width="0.85" height="4.0" fill="#f3c47e"/>
<rect x="331.07" y="109.80" width="1.948" height="4.0" fill="#fde6b8"/><rect x="331.22" y="109.80" width="0.85" height="4.0" fill="#f3c47e"/>
<rect x="333.00" y="109.80" width="1.948" height="4.0" fill="#fde6b8"/><rect x="333.15" y="109.80" width="0.85" height="4.0" fill="#f3c47e"/>
<rect x="334.93" y="109.80" width="1.948" height="4.0" fill="#fde6b8"/><rect x="335.08" y="109.80" width="0.85" height="4.0" fill="#f3c47e"/>
<rect x="336.86" y="109.80" width="1.948" height="4.0" fill="#fde6b8"/><rect x="337.01" y="109.80" width="0.85" height="4.0" fill="#f3c47e"/>
<rect x="338.78" y="109.80" width="1.948" height="4.0" fill="#fde6b8"/><rect x="338.93" y="109.80" width="0.85" height="4.0" fill="#f3c47e"/>
<rect x="340.71" y="109.80" width="1.948" height="4.0" fill="#fde6b8"/><rect x="340.86" y="109.80" width="0.85" height="4.0" fill="#f3c47e"/>
<rect x="342.64" y="109.80" width="1.948" height="4.0" fill="#fde6b8"/><rect x="342.79" y="109.80" width="0.85" height="4.0" fill="#f3c47e"/>
<rect x="354.21" y="109.80" width="1.948" height="4.0" fill="#fde6b8"/><rect x="354.36" y="109.80" width="0.85" height="4.0" fill="#f3c47e"/>
<rect x="356.14" y="109.80" width="1.948" height="4.0" fill="#fde6b8"/><rect x="356.29" y="109.80" width="0.85" height="4.0" fill="#f3c47e"/>
<rect x="358.06" y="109.80" width="1.948" height="4.0" fill="#fde6b8"/><rect x="358.21" y="109.80" width="0.85" height="4.0" fill="#f3c47e"/>
<rect x="359.99" y="109.80" width="1.948" height="4.0" fill="#fde6b8"/><rect x="360.14" y="109.80" width="0.85" height="4.0" fill="#f3c47e"/>
<rect x="361.92" y="109.80" width="1.948" height="4.0" fill="#fde6b8"/><rect x="362.07" y="109.80" width="0.85" height="4.0" fill="#f3c47e"/>
<rect x="367.70" y="109.80" width="1.948" height="4.0" fill="#fde6b8"/><rect x="367.85" y="109.80" width="0.85" height="4.0" fill="#f3c47e"/>
<rect x="371.56" y="109.80" width="1.948" height="4.0" fill="#fde6b8"/><rect x="371.71" y="109.80" width="0.85" height="4.0" fill="#f3c47e"/>
<rect x="379.27" y="109.80" width="1.948" height="4.0" fill="#fde6b8"/><rect x="379.42" y="109.80" width="0.85" height="4.0" fill="#f3c47e"/>
<rect x="383.13" y="109.80" width="1.948" height="4.0" fill="#fde6b8"/><rect x="383.28" y="109.80" width="0.85" height="4.0" fill="#f3c47e"/>
<rect x="385.06" y="109.80" width="1.948" height="4.0" fill="#fde6b8"/><rect x="385.21" y="109.80" width="0.85" height="4.0" fill="#f3c47e"/>
<rect x="386.98" y="109.80" width="1.948" height="4.0" fill="#fde6b8"/><rect x="387.13" y="109.80" width="0.85" height="4.0" fill="#f3c47e"/>
<rect x="388.91" y="109.80" width="1.948" height="4.0" fill="#fde6b8"/><rect x="389.06" y="109.80" width="0.85" height="4.0" fill="#f3c47e"/>
<rect x="394.70" y="109.80" width="1.948" height="4.0" fill="#fde6b8"/><rect x="394.85" y="109.80" width="0.85" height="4.0" fill="#f3c47e"/>
<rect x="398.55" y="109.80" width="1.948" height="4.0" fill="#fde6b8"/><rect x="398.70" y="109.80" width="0.85" height="4.0" fill="#f3c47e"/>
<rect x="410.12" y="109.80" width="1.948" height="4.0" fill="#fde6b8"/><rect x="410.27" y="109.80" width="0.85" height="4.0" fill="#f3c47e"/>
<rect x="412.05" y="109.80" width="1.948" height="4.0" fill="#fde6b8"/><rect x="412.20" y="109.80" width="0.85" height="4.0" fill="#f3c47e"/>
<rect x="415.90" y="109.80" width="1.948" height="4.0" fill="#fde6b8"/><rect x="416.05" y="109.80" width="0.85" height="4.0" fill="#f3c47e"/>
<rect x="419.76" y="109.80" width="1.948" height="4.0" fill="#fde6b8"/><rect x="419.91" y="109.80" width="0.85" height="4.0" fill="#f3c47e"/>
<rect x="421.69" y="109.80" width="1.948" height="4.0" fill="#fde6b8"/><rect x="421.84" y="109.80" width="0.85" height="4.0" fill="#f3c47e"/>
<rect x="423.62" y="109.80" width="1.948" height="4.0" fill="#fde6b8"/><rect x="423.77" y="109.80" width="0.85" height="4.0" fill="#f3c47e"/>
<rect x="425.54" y="109.80" width="1.948" height="4.0" fill="#fde6b8"/><rect x="425.69" y="109.80" width="0.85" height="4.0" fill="#f3c47e"/>
<rect x="427.47" y="109.80" width="1.948" height="4.0" fill="#fde6b8"/><rect x="427.62" y="109.80" width="0.85" height="4.0" fill="#f3c47e"/>
<rect x="429.40" y="109.80" width="1.948" height="4.0" fill="#fde6b8"/><rect x="429.55" y="109.80" width="0.85" height="4.0" fill="#f3c47e"/>
<rect x="431.33" y="109.80" width="1.948" height="4.0" fill="#fde6b8"/><rect x="431.48" y="109.80" width="0.85" height="4.0" fill="#f3c47e"/>
<rect x="435.18" y="109.80" width="1.948" height="4.0" fill="#fde6b8"/><rect x="435.33" y="109.80" width="0.85" height="4.0" fill="#f3c47e"/>
<rect x="437.11" y="109.80" width="1.948" height="4.0" fill="#fde6b8"/><rect x="437.26" y="109.80" width="0.85" height="4.0" fill="#f3c47e"/>
<rect x="439.04" y="109.80" width="1.948" height="4.0" fill="#fde6b8"/><rect x="439.19" y="109.80" width="0.85" height="4.0" fill="#f3c47e"/>
<rect x="444.82" y="109.80" width="1.948" height="4.0" fill="#fde6b8"/><rect x="444.97" y="109.80" width="0.85" height="4.0" fill="#f3c47e"/>
<rect x="446.75" y="109.80" width="1.948" height="4.0" fill="#fde6b8"/><rect x="446.90" y="109.80" width="0.85" height="4.0" fill="#f3c47e"/>
<rect x="448.68" y="109.80" width="1.948" height="4.0" fill="#fde6b8"/><rect x="448.83" y="109.80" width="0.85" height="4.0" fill="#f3c47e"/>
<rect x="450.61" y="109.80" width="1.948" height="4.0" fill="#fde6b8"/><rect x="450.76" y="109.80" width="0.85" height="4.0" fill="#f3c47e"/>
<rect x="454.46" y="109.80" width="1.948" height="4.0" fill="#fde6b8"/><rect x="454.61" y="109.80" width="0.85" height="4.0" fill="#f3c47e"/>
<rect x="456.39" y="109.80" width="1.948" height="4.0" fill="#fde6b8"/><rect x="456.54" y="109.80" width="0.85" height="4.0" fill="#f3c47e"/>
<rect x="469.89" y="109.80" width="1.948" height="4.0" fill="#fde6b8"/><rect x="470.04" y="109.80" width="0.85" height="4.0" fill="#f3c47e"/>
<rect x="471.82" y="109.80" width="1.948" height="4.0" fill="#fde6b8"/><rect x="471.97" y="109.80" width="0.85" height="4.0" fill="#f3c47e"/>
<rect x="483.38" y="109.80" width="1.948" height="4.0" fill="#fde6b8"/><rect x="483.53" y="109.80" width="0.85" height="4.0" fill="#f3c47e"/>
<rect x="487.24" y="109.80" width="1.948" height="4.0" fill="#fde6b8"/><rect x="487.39" y="109.80" width="0.85" height="4.0" fill="#f3c47e"/>
<rect x="496.88" y="109.80" width="1.948" height="4.0" fill="#fde6b8"/><rect x="497.03" y="109.80" width="0.85" height="4.0" fill="#f3c47e"/>
<rect x="506.52" y="109.80" width="1.948" height="4.0" fill="#fde6b8"/><rect x="506.67" y="109.80" width="0.85" height="4.0" fill="#f3c47e"/>
<rect x="47.66" y="114.40" width="1.948" height="4.0" fill="#fbcba4"/><rect x="47.81" y="114.40" width="0.85" height="4.0" fill="#e68f58"/>
<rect x="55.37" y="114.40" width="1.948" height="4.0" fill="#fbcba4"/><rect x="55.52" y="114.40" width="0.85" height="4.0" fill="#e68f58"/>
<rect x="66.94" y="114.40" width="1.948" height="4.0" fill="#fbcba4"/><rect x="67.09" y="114.40" width="0.85" height="4.0" fill="#e68f58"/>
<rect x="78.50" y="114.40" width="1.948" height="4.0" fill="#fbcba4"/><rect x="78.65" y="114.40" width="0.85" height="4.0" fill="#e68f58"/>
<rect x="124.78" y="114.40" width="1.948" height="4.0" fill="#fbcba4"/><rect x="124.93" y="114.40" width="0.85" height="4.0" fill="#e68f58"/>
<rect x="142.13" y="114.40" width="1.948" height="4.0" fill="#fbcba4"/><rect x="142.28" y="114.40" width="0.85" height="4.0" fill="#e68f58"/>
<rect x="145.98" y="114.40" width="1.948" height="4.0" fill="#fbcba4"/><rect x="146.13" y="114.40" width="0.85" height="4.0" fill="#e68f58"/>
<rect x="198.04" y="114.40" width="1.948" height="4.0" fill="#fbcba4"/><rect x="198.19" y="114.40" width="0.85" height="4.0" fill="#e68f58"/>
<rect x="356.14" y="114.40" width="1.948" height="4.0" fill="#fbcba4"/><rect x="356.29" y="114.40" width="0.85" height="4.0" fill="#e68f58"/>
<rect x="371.56" y="114.40" width="1.948" height="4.0" fill="#fbcba4"/><rect x="371.71" y="114.40" width="0.85" height="4.0" fill="#e68f58"/>
<rect x="388.91" y="114.40" width="1.948" height="4.0" fill="#fbcba4"/><rect x="389.06" y="114.40" width="0.85" height="4.0" fill="#e68f58"/>
<rect x="423.62" y="114.40" width="1.948" height="4.0" fill="#fbcba4"/><rect x="423.77" y="114.40" width="0.85" height="4.0" fill="#e68f58"/>
<rect x="425.54" y="114.40" width="1.948" height="4.0" fill="#fbcba4"/><rect x="425.69" y="114.40" width="0.85" height="4.0" fill="#e68f58"/>
<rect x="427.47" y="114.40" width="1.948" height="4.0" fill="#fbcba4"/><rect x="427.62" y="114.40" width="0.85" height="4.0" fill="#e68f58"/>
<rect x="431.33" y="114.40" width="1.948" height="4.0" fill="#fbcba4"/><rect x="431.48" y="114.40" width="0.85" height="4.0" fill="#e68f58"/>
<rect x="439.04" y="114.40" width="1.948" height="4.0" fill="#fbcba4"/><rect x="439.19" y="114.40" width="0.85" height="4.0" fill="#e68f58"/>
<rect x="446.75" y="114.40" width="1.948" height="4.0" fill="#fbcba4"/><rect x="446.90" y="114.40" width="0.85" height="4.0" fill="#e68f58"/>
<rect x="471.82" y="114.40" width="1.948" height="4.0" fill="#fbcba4"/><rect x="471.97" y="114.40" width="0.85" height="4.0" fill="#e68f58"/>
<rect x="483.38" y="114.40" width="1.948" height="4.0" fill="#fbcba4"/><rect x="483.53" y="114.40" width="0.85" height="4.0" fill="#e68f58"/>
<rect x="43.80" y="121.00" width="1.948" height="4.0" fill="#c0e0f4"/><rect x="43.95" y="121.00" width="0.85" height="4.0" fill="#5e98c8"/>
<rect x="47.66" y="121.00" width="1.948" height="4.0" fill="#c0e0f4"/><rect x="47.81" y="121.00" width="0.85" height="4.0" fill="#5e98c8"/>
<rect x="63.08" y="121.00" width="1.948" height="4.0" fill="#c0e0f4"/><rect x="63.23" y="121.00" width="0.85" height="4.0" fill="#5e98c8"/>
<rect x="66.94" y="121.00" width="1.948" height="4.0" fill="#c0e0f4"/><rect x="67.09" y="121.00" width="0.85" height="4.0" fill="#5e98c8"/>
<rect x="90.07" y="121.00" width="1.948" height="4.0" fill="#c0e0f4"/><rect x="90.22" y="121.00" width="0.85" height="4.0" fill="#5e98c8"/>
<rect x="124.78" y="121.00" width="1.948" height="4.0" fill="#c0e0f4"/><rect x="124.93" y="121.00" width="0.85" height="4.0" fill="#5e98c8"/>
<rect x="134.42" y="121.00" width="1.948" height="4.0" fill="#c0e0f4"/><rect x="134.57" y="121.00" width="0.85" height="4.0" fill="#5e98c8"/>
<rect x="145.98" y="121.00" width="1.948" height="4.0" fill="#c0e0f4"/><rect x="146.13" y="121.00" width="0.85" height="4.0" fill="#5e98c8"/>
<rect x="155.62" y="121.00" width="1.948" height="4.0" fill="#c0e0f4"/><rect x="155.77" y="121.00" width="0.85" height="4.0" fill="#5e98c8"/>
<rect x="163.34" y="121.00" width="1.948" height="4.0" fill="#c0e0f4"/><rect x="163.49" y="121.00" width="0.85" height="4.0" fill="#5e98c8"/>
<rect x="219.25" y="121.00" width="1.948" height="4.0" fill="#c0e0f4"/><rect x="219.40" y="121.00" width="0.85" height="4.0" fill="#5e98c8"/>
<rect x="221.18" y="121.00" width="1.948" height="4.0" fill="#c0e0f4"/><rect x="221.33" y="121.00" width="0.85" height="4.0" fill="#5e98c8"/>
<rect x="240.46" y="121.00" width="1.948" height="4.0" fill="#c0e0f4"/><rect x="240.61" y="121.00" width="0.85" height="4.0" fill="#5e98c8"/>
<rect x="244.31" y="121.00" width="1.948" height="4.0" fill="#c0e0f4"/><rect x="244.46" y="121.00" width="0.85" height="4.0" fill="#5e98c8"/>
<rect x="246.24" y="121.00" width="1.948" height="4.0" fill="#c0e0f4"/><rect x="246.39" y="121.00" width="0.85" height="4.0" fill="#5e98c8"/>
<rect x="248.17" y="121.00" width="1.948" height="4.0" fill="#c0e0f4"/><rect x="248.32" y="121.00" width="0.85" height="4.0" fill="#5e98c8"/>
<rect x="261.66" y="121.00" width="1.948" height="4.0" fill="#c0e0f4"/><rect x="261.81" y="121.00" width="0.85" height="4.0" fill="#5e98c8"/>
<rect x="279.02" y="121.00" width="1.948" height="4.0" fill="#c0e0f4"/><rect x="279.17" y="121.00" width="0.85" height="4.0" fill="#5e98c8"/>
<rect x="284.80" y="121.00" width="1.948" height="4.0" fill="#c0e0f4"/><rect x="284.95" y="121.00" width="0.85" height="4.0" fill="#5e98c8"/>
<rect x="323.36" y="121.00" width="1.948" height="4.0" fill="#c0e0f4"/><rect x="323.51" y="121.00" width="0.85" height="4.0" fill="#5e98c8"/>
<rect x="338.78" y="121.00" width="1.948" height="4.0" fill="#c0e0f4"/><rect x="338.93" y="121.00" width="0.85" height="4.0" fill="#5e98c8"/>
<rect x="356.14" y="121.00" width="1.948" height="4.0" fill="#c0e0f4"/><rect x="356.29" y="121.00" width="0.85" height="4.0" fill="#5e98c8"/>
<rect x="371.56" y="121.00" width="1.948" height="4.0" fill="#c0e0f4"/><rect x="371.71" y="121.00" width="0.85" height="4.0" fill="#5e98c8"/>
<rect x="383.13" y="121.00" width="1.948" height="4.0" fill="#c0e0f4"/><rect x="383.28" y="121.00" width="0.85" height="4.0" fill="#5e98c8"/>
<rect x="388.91" y="121.00" width="1.948" height="4.0" fill="#c0e0f4"/><rect x="389.06" y="121.00" width="0.85" height="4.0" fill="#5e98c8"/>
<rect x="415.90" y="121.00" width="1.948" height="4.0" fill="#c0e0f4"/><rect x="416.05" y="121.00" width="0.85" height="4.0" fill="#5e98c8"/>
<rect x="431.33" y="121.00" width="1.948" height="4.0" fill="#c0e0f4"/><rect x="431.48" y="121.00" width="0.85" height="4.0" fill="#5e98c8"/>
<rect x="446.75" y="121.00" width="1.948" height="4.0" fill="#c0e0f4"/><rect x="446.90" y="121.00" width="0.85" height="4.0" fill="#5e98c8"/>
<rect x="43.80" y="125.60" width="1.948" height="4.0" fill="#c0e0f4"/><rect x="43.95" y="125.60" width="0.85" height="4.0" fill="#5e98c8"/>
<rect x="47.66" y="125.60" width="1.948" height="4.0" fill="#c0e0f4"/><rect x="47.81" y="125.60" width="0.85" height="4.0" fill="#5e98c8"/>
<rect x="55.37" y="125.60" width="1.948" height="4.0" fill="#c0e0f4"/><rect x="55.52" y="125.60" width="0.85" height="4.0" fill="#5e98c8"/>
<rect x="61.15" y="125.60" width="1.948" height="4.0" fill="#c0e0f4"/><rect x="61.30" y="125.60" width="0.85" height="4.0" fill="#5e98c8"/>
<rect x="63.08" y="125.60" width="1.948" height="4.0" fill="#c0e0f4"/><rect x="63.23" y="125.60" width="0.85" height="4.0" fill="#5e98c8"/>
<rect x="65.01" y="125.60" width="1.948" height="4.0" fill="#c0e0f4"/><rect x="65.16" y="125.60" width="0.85" height="4.0" fill="#5e98c8"/>
<rect x="66.94" y="125.60" width="1.948" height="4.0" fill="#c0e0f4"/><rect x="67.09" y="125.60" width="0.85" height="4.0" fill="#5e98c8"/>
<rect x="74.65" y="125.60" width="1.948" height="4.0" fill="#c0e0f4"/><rect x="74.80" y="125.60" width="0.85" height="4.0" fill="#5e98c8"/>
<rect x="78.50" y="125.60" width="1.948" height="4.0" fill="#c0e0f4"/><rect x="78.65" y="125.60" width="0.85" height="4.0" fill="#5e98c8"/>
<rect x="90.07" y="125.60" width="1.948" height="4.0" fill="#c0e0f4"/><rect x="90.22" y="125.60" width="0.85" height="4.0" fill="#5e98c8"/>
<rect x="92.00" y="125.60" width="1.948" height="4.0" fill="#c0e0f4"/><rect x="92.15" y="125.60" width="0.85" height="4.0" fill="#5e98c8"/>
<rect x="109.35" y="125.60" width="1.948" height="4.0" fill="#c0e0f4"/><rect x="109.50" y="125.60" width="0.85" height="4.0" fill="#5e98c8"/>
<rect x="124.78" y="125.60" width="1.948" height="4.0" fill="#c0e0f4"/><rect x="124.93" y="125.60" width="0.85" height="4.0" fill="#5e98c8"/>
<rect x="142.13" y="125.60" width="1.948" height="4.0" fill="#c0e0f4"/><rect x="142.28" y="125.60" width="0.85" height="4.0" fill="#5e98c8"/>
<rect x="145.98" y="125.60" width="1.948" height="4.0" fill="#c0e0f4"/><rect x="146.13" y="125.60" width="0.85" height="4.0" fill="#5e98c8"/>
<rect x="149.84" y="125.60" width="1.948" height="4.0" fill="#c0e0f4"/><rect x="149.99" y="125.60" width="0.85" height="4.0" fill="#5e98c8"/>
<rect x="153.70" y="125.60" width="1.948" height="4.0" fill="#c0e0f4"/><rect x="153.85" y="125.60" width="0.85" height="4.0" fill="#5e98c8"/>
<rect x="155.62" y="125.60" width="1.948" height="4.0" fill="#c0e0f4"/><rect x="155.77" y="125.60" width="0.85" height="4.0" fill="#5e98c8"/>
<rect x="157.55" y="125.60" width="1.948" height="4.0" fill="#c0e0f4"/><rect x="157.70" y="125.60" width="0.85" height="4.0" fill="#5e98c8"/>
<rect x="163.34" y="125.60" width="1.948" height="4.0" fill="#c0e0f4"/><rect x="163.49" y="125.60" width="0.85" height="4.0" fill="#5e98c8"/>
<rect x="169.12" y="125.60" width="1.948" height="4.0" fill="#c0e0f4"/><rect x="169.27" y="125.60" width="0.85" height="4.0" fill="#5e98c8"/>
<rect x="174.90" y="125.60" width="1.948" height="4.0" fill="#c0e0f4"/><rect x="175.05" y="125.60" width="0.85" height="4.0" fill="#5e98c8"/>
<rect x="180.69" y="125.60" width="1.948" height="4.0" fill="#c0e0f4"/><rect x="180.84" y="125.60" width="0.85" height="4.0" fill="#5e98c8"/>
<rect x="198.04" y="125.60" width="1.948" height="4.0" fill="#c0e0f4"/><rect x="198.19" y="125.60" width="0.85" height="4.0" fill="#5e98c8"/>
<rect x="240.46" y="125.60" width="1.948" height="4.0" fill="#c0e0f4"/><rect x="240.61" y="125.60" width="0.85" height="4.0" fill="#5e98c8"/>
<rect x="242.38" y="125.60" width="1.948" height="4.0" fill="#c0e0f4"/><rect x="242.53" y="125.60" width="0.85" height="4.0" fill="#5e98c8"/>
<rect x="248.17" y="125.60" width="1.948" height="4.0" fill="#c0e0f4"/><rect x="248.32" y="125.60" width="0.85" height="4.0" fill="#5e98c8"/>
<rect x="250.10" y="125.60" width="1.948" height="4.0" fill="#c0e0f4"/><rect x="250.25" y="125.60" width="0.85" height="4.0" fill="#5e98c8"/>
<rect x="252.02" y="125.60" width="1.948" height="4.0" fill="#c0e0f4"/><rect x="252.17" y="125.60" width="0.85" height="4.0" fill="#5e98c8"/>
<rect x="257.81" y="125.60" width="1.948" height="4.0" fill="#c0e0f4"/><rect x="257.96" y="125.60" width="0.85" height="4.0" fill="#5e98c8"/>
<rect x="261.66" y="125.60" width="1.948" height="4.0" fill="#c0e0f4"/><rect x="261.81" y="125.60" width="0.85" height="4.0" fill="#5e98c8"/>
<rect x="279.02" y="125.60" width="1.948" height="4.0" fill="#c0e0f4"/><rect x="279.17" y="125.60" width="0.85" height="4.0" fill="#5e98c8"/>
<rect x="282.87" y="125.60" width="1.948" height="4.0" fill="#c0e0f4"/><rect x="283.02" y="125.60" width="0.85" height="4.0" fill="#5e98c8"/>
<rect x="288.66" y="125.60" width="1.948" height="4.0" fill="#c0e0f4"/><rect x="288.81" y="125.60" width="0.85" height="4.0" fill="#5e98c8"/>
<rect x="294.44" y="125.60" width="1.948" height="4.0" fill="#c0e0f4"/><rect x="294.59" y="125.60" width="0.85" height="4.0" fill="#5e98c8"/>
<rect x="296.37" y="125.60" width="1.948" height="4.0" fill="#c0e0f4"/><rect x="296.52" y="125.60" width="0.85" height="4.0" fill="#5e98c8"/>
<rect x="298.30" y="125.60" width="1.948" height="4.0" fill="#c0e0f4"/><rect x="298.45" y="125.60" width="0.85" height="4.0" fill="#5e98c8"/>
<rect x="306.01" y="125.60" width="1.948" height="4.0" fill="#c0e0f4"/><rect x="306.16" y="125.60" width="0.85" height="4.0" fill="#5e98c8"/>
<rect x="317.58" y="125.60" width="1.948" height="4.0" fill="#c0e0f4"/><rect x="317.73" y="125.60" width="0.85" height="4.0" fill="#5e98c8"/>
<rect x="331.07" y="125.60" width="1.948" height="4.0" fill="#c0e0f4"/><rect x="331.22" y="125.60" width="0.85" height="4.0" fill="#5e98c8"/>
<rect x="333.00" y="125.60" width="1.948" height="4.0" fill="#c0e0f4"/><rect x="333.15" y="125.60" width="0.85" height="4.0" fill="#5e98c8"/>
<rect x="334.93" y="125.60" width="1.948" height="4.0" fill="#c0e0f4"/><rect x="335.08" y="125.60" width="0.85" height="4.0" fill="#5e98c8"/>
<rect x="336.86" y="125.60" width="1.948" height="4.0" fill="#c0e0f4"/><rect x="337.01" y="125.60" width="0.85" height="4.0" fill="#5e98c8"/>
<rect x="338.78" y="125.60" width="1.948" height="4.0" fill="#c0e0f4"/><rect x="338.93" y="125.60" width="0.85" height="4.0" fill="#5e98c8"/>
<rect x="340.71" y="125.60" width="1.948" height="4.0" fill="#c0e0f4"/><rect x="340.86" y="125.60" width="0.85" height="4.0" fill="#5e98c8"/>
<rect x="342.64" y="125.60" width="1.948" height="4.0" fill="#c0e0f4"/><rect x="342.79" y="125.60" width="0.85" height="4.0" fill="#5e98c8"/>
<rect x="354.21" y="125.60" width="1.948" height="4.0" fill="#c0e0f4"/><rect x="354.36" y="125.60" width="0.85" height="4.0" fill="#5e98c8"/>
<rect x="356.14" y="125.60" width="1.948" height="4.0" fill="#c0e0f4"/><rect x="356.29" y="125.60" width="0.85" height="4.0" fill="#5e98c8"/>
<rect x="358.06" y="125.60" width="1.948" height="4.0" fill="#c0e0f4"/><rect x="358.21" y="125.60" width="0.85" height="4.0" fill="#5e98c8"/>
<rect x="361.92" y="125.60" width="1.948" height="4.0" fill="#c0e0f4"/><rect x="362.07" y="125.60" width="0.85" height="4.0" fill="#5e98c8"/>
<rect x="367.70" y="125.60" width="1.948" height="4.0" fill="#c0e0f4"/><rect x="367.85" y="125.60" width="0.85" height="4.0" fill="#5e98c8"/>
<rect x="371.56" y="125.60" width="1.948" height="4.0" fill="#c0e0f4"/><rect x="371.71" y="125.60" width="0.85" height="4.0" fill="#5e98c8"/>
<rect x="379.27" y="125.60" width="1.948" height="4.0" fill="#c0e0f4"/><rect x="379.42" y="125.60" width="0.85" height="4.0" fill="#5e98c8"/>
<rect x="383.13" y="125.60" width="1.948" height="4.0" fill="#c0e0f4"/><rect x="383.28" y="125.60" width="0.85" height="4.0" fill="#5e98c8"/>
<rect x="385.06" y="125.60" width="1.948" height="4.0" fill="#c0e0f4"/><rect x="385.21" y="125.60" width="0.85" height="4.0" fill="#5e98c8"/>
<rect x="386.98" y="125.60" width="1.948" height="4.0" fill="#c0e0f4"/><rect x="387.13" y="125.60" width="0.85" height="4.0" fill="#5e98c8"/>
<rect x="388.91" y="125.60" width="1.948" height="4.0" fill="#c0e0f4"/><rect x="389.06" y="125.60" width="0.85" height="4.0" fill="#5e98c8"/>
<rect x="394.70" y="125.60" width="1.948" height="4.0" fill="#c0e0f4"/><rect x="394.85" y="125.60" width="0.85" height="4.0" fill="#5e98c8"/>
<rect x="398.55" y="125.60" width="1.948" height="4.0" fill="#c0e0f4"/><rect x="398.70" y="125.60" width="0.85" height="4.0" fill="#5e98c8"/>
<rect x="410.12" y="125.60" width="1.948" height="4.0" fill="#c0e0f4"/><rect x="410.27" y="125.60" width="0.85" height="4.0" fill="#5e98c8"/>
<rect x="412.05" y="125.60" width="1.948" height="4.0" fill="#c0e0f4"/><rect x="412.20" y="125.60" width="0.85" height="4.0" fill="#5e98c8"/>
<rect x="415.90" y="125.60" width="1.948" height="4.0" fill="#c0e0f4"/><rect x="416.05" y="125.60" width="0.85" height="4.0" fill="#5e98c8"/>
<rect x="419.76" y="125.60" width="1.948" height="4.0" fill="#c0e0f4"/><rect x="419.91" y="125.60" width="0.85" height="4.0" fill="#5e98c8"/>
<rect x="421.69" y="125.60" width="1.948" height="4.0" fill="#c0e0f4"/><rect x="421.84" y="125.60" width="0.85" height="4.0" fill="#5e98c8"/>
<rect x="423.62" y="125.60" width="1.948" height="4.0" fill="#c0e0f4"/><rect x="423.77" y="125.60" width="0.85" height="4.0" fill="#5e98c8"/>
<rect x="425.54" y="125.60" width="1.948" height="4.0" fill="#c0e0f4"/><rect x="425.69" y="125.60" width="0.85" height="4.0" fill="#5e98c8"/>
<rect x="427.47" y="125.60" width="1.948" height="4.0" fill="#c0e0f4"/><rect x="427.62" y="125.60" width="0.85" height="4.0" fill="#5e98c8"/>
<rect x="429.40" y="125.60" width="1.948" height="4.0" fill="#c0e0f4"/><rect x="429.55" y="125.60" width="0.85" height="4.0" fill="#5e98c8"/>
<rect x="431.33" y="125.60" width="1.948" height="4.0" fill="#c0e0f4"/><rect x="431.48" y="125.60" width="0.85" height="4.0" fill="#5e98c8"/>
<rect x="435.18" y="125.60" width="1.948" height="4.0" fill="#c0e0f4"/><rect x="435.33" y="125.60" width="0.85" height="4.0" fill="#5e98c8"/>
<rect x="437.11" y="125.60" width="1.948" height="4.0" fill="#c0e0f4"/><rect x="437.26" y="125.60" width="0.85" height="4.0" fill="#5e98c8"/>
<rect x="439.04" y="125.60" width="1.948" height="4.0" fill="#c0e0f4"/><rect x="439.19" y="125.60" width="0.85" height="4.0" fill="#5e98c8"/>
<rect x="444.82" y="125.60" width="1.948" height="4.0" fill="#c0e0f4"/><rect x="444.97" y="125.60" width="0.85" height="4.0" fill="#5e98c8"/>
<rect x="446.75" y="125.60" width="1.948" height="4.0" fill="#c0e0f4"/><rect x="446.90" y="125.60" width="0.85" height="4.0" fill="#5e98c8"/>
<rect x="448.68" y="125.60" width="1.948" height="4.0" fill="#c0e0f4"/><rect x="448.83" y="125.60" width="0.85" height="4.0" fill="#5e98c8"/>
<rect x="450.61" y="125.60" width="1.948" height="4.0" fill="#c0e0f4"/><rect x="450.76" y="125.60" width="0.85" height="4.0" fill="#5e98c8"/>
<rect x="454.46" y="125.60" width="1.948" height="4.0" fill="#c0e0f4"/><rect x="454.61" y="125.60" width="0.85" height="4.0" fill="#5e98c8"/>
<rect x="456.39" y="125.60" width="1.948" height="4.0" fill="#c0e0f4"/><rect x="456.54" y="125.60" width="0.85" height="4.0" fill="#5e98c8"/>
<rect x="458.32" y="125.60" width="1.948" height="4.0" fill="#c0e0f4"/><rect x="458.47" y="125.60" width="0.85" height="4.0" fill="#5e98c8"/>
<rect x="469.89" y="125.60" width="1.948" height="4.0" fill="#c0e0f4"/><rect x="470.04" y="125.60" width="0.85" height="4.0" fill="#5e98c8"/>
<rect x="471.82" y="125.60" width="1.948" height="4.0" fill="#c0e0f4"/><rect x="471.97" y="125.60" width="0.85" height="4.0" fill="#5e98c8"/>
<rect x="483.38" y="125.60" width="1.948" height="4.0" fill="#c0e0f4"/><rect x="483.53" y="125.60" width="0.85" height="4.0" fill="#5e98c8"/>
<rect x="487.24" y="125.60" width="1.948" height="4.0" fill="#c0e0f4"/><rect x="487.39" y="125.60" width="0.85" height="4.0" fill="#5e98c8"/>
<rect x="496.88" y="125.60" width="1.948" height="4.0" fill="#c0e0f4"/><rect x="497.03" y="125.60" width="0.85" height="4.0" fill="#5e98c8"/>
<rect x="504.59" y="125.60" width="1.948" height="4.0" fill="#c0e0f4"/><rect x="504.74" y="125.60" width="0.85" height="4.0" fill="#5e98c8"/>
<rect x="506.52" y="125.60" width="1.948" height="4.0" fill="#c0e0f4"/><rect x="506.67" y="125.60" width="0.85" height="4.0" fill="#5e98c8"/>
<rect x="47.66" y="130.40" width="1.948" height="4.0" fill="#c0e0f4"/><rect x="47.81" y="130.40" width="0.85" height="4.0" fill="#5e98c8"/>
<rect x="55.37" y="130.40" width="1.948" height="4.0" fill="#c0e0f4"/><rect x="55.52" y="130.40" width="0.85" height="4.0" fill="#5e98c8"/>
<rect x="59.22" y="130.40" width="1.948" height="4.0" fill="#c0e0f4"/><rect x="59.37" y="130.40" width="0.85" height="4.0" fill="#5e98c8"/>
<rect x="66.94" y="130.40" width="1.948" height="4.0" fill="#c0e0f4"/><rect x="67.09" y="130.40" width="0.85" height="4.0" fill="#5e98c8"/>
<rect x="74.65" y="130.40" width="1.948" height="4.0" fill="#c0e0f4"/><rect x="74.80" y="130.40" width="0.85" height="4.0" fill="#5e98c8"/>
<rect x="78.50" y="130.40" width="1.948" height="4.0" fill="#c0e0f4"/><rect x="78.65" y="130.40" width="0.85" height="4.0" fill="#5e98c8"/>
<rect x="124.78" y="130.40" width="1.948" height="4.0" fill="#c0e0f4"/><rect x="124.93" y="130.40" width="0.85" height="4.0" fill="#5e98c8"/>
<rect x="142.13" y="130.40" width="1.948" height="4.0" fill="#c0e0f4"/><rect x="142.28" y="130.40" width="0.85" height="4.0" fill="#5e98c8"/>
<rect x="145.98" y="130.40" width="1.948" height="4.0" fill="#c0e0f4"/><rect x="146.13" y="130.40" width="0.85" height="4.0" fill="#5e98c8"/>
<rect x="157.55" y="130.40" width="1.948" height="4.0" fill="#c0e0f4"/><rect x="157.70" y="130.40" width="0.85" height="4.0" fill="#5e98c8"/>
<rect x="163.34" y="130.40" width="1.948" height="4.0" fill="#c0e0f4"/><rect x="163.49" y="130.40" width="0.85" height="4.0" fill="#5e98c8"/>
<rect x="174.90" y="130.40" width="1.948" height="4.0" fill="#c0e0f4"/><rect x="175.05" y="130.40" width="0.85" height="4.0" fill="#5e98c8"/>
<rect x="198.04" y="130.40" width="1.948" height="4.0" fill="#c0e0f4"/><rect x="198.19" y="130.40" width="0.85" height="4.0" fill="#5e98c8"/>
<rect x="242.38" y="130.40" width="1.948" height="4.0" fill="#c0e0f4"/><rect x="242.53" y="130.40" width="0.85" height="4.0" fill="#5e98c8"/>
<rect x="282.87" y="130.40" width="1.948" height="4.0" fill="#c0e0f4"/><rect x="283.02" y="130.40" width="0.85" height="4.0" fill="#5e98c8"/>
<rect x="342.64" y="130.40" width="1.948" height="4.0" fill="#c0e0f4"/><rect x="342.79" y="130.40" width="0.85" height="4.0" fill="#5e98c8"/>
<rect x="356.14" y="130.40" width="1.948" height="4.0" fill="#c0e0f4"/><rect x="356.29" y="130.40" width="0.85" height="4.0" fill="#5e98c8"/>
<rect x="358.06" y="130.40" width="1.948" height="4.0" fill="#c0e0f4"/><rect x="358.21" y="130.40" width="0.85" height="4.0" fill="#5e98c8"/>
<rect x="361.92" y="130.40" width="1.948" height="4.0" fill="#c0e0f4"/><rect x="362.07" y="130.40" width="0.85" height="4.0" fill="#5e98c8"/>
<rect x="367.70" y="130.40" width="1.948" height="4.0" fill="#c0e0f4"/><rect x="367.85" y="130.40" width="0.85" height="4.0" fill="#5e98c8"/>
<rect x="371.56" y="130.40" width="1.948" height="4.0" fill="#c0e0f4"/><rect x="371.71" y="130.40" width="0.85" height="4.0" fill="#5e98c8"/>
<rect x="385.06" y="130.40" width="1.948" height="4.0" fill="#c0e0f4"/><rect x="385.21" y="130.40" width="0.85" height="4.0" fill="#5e98c8"/>
<rect x="388.91" y="130.40" width="1.948" height="4.0" fill="#c0e0f4"/><rect x="389.06" y="130.40" width="0.85" height="4.0" fill="#5e98c8"/>
<rect x="394.70" y="130.40" width="1.948" height="4.0" fill="#c0e0f4"/><rect x="394.85" y="130.40" width="0.85" height="4.0" fill="#5e98c8"/>
<rect x="415.90" y="130.40" width="1.948" height="4.0" fill="#c0e0f4"/><rect x="416.05" y="130.40" width="0.85" height="4.0" fill="#5e98c8"/>
<rect x="425.54" y="130.40" width="1.948" height="4.0" fill="#c0e0f4"/><rect x="425.69" y="130.40" width="0.85" height="4.0" fill="#5e98c8"/>
<rect x="427.47" y="130.40" width="1.948" height="4.0" fill="#c0e0f4"/><rect x="427.62" y="130.40" width="0.85" height="4.0" fill="#5e98c8"/>
<rect x="431.33" y="130.40" width="1.948" height="4.0" fill="#c0e0f4"/><rect x="431.48" y="130.40" width="0.85" height="4.0" fill="#5e98c8"/>
<rect x="439.04" y="130.40" width="1.948" height="4.0" fill="#c0e0f4"/><rect x="439.19" y="130.40" width="0.85" height="4.0" fill="#5e98c8"/>
<rect x="444.82" y="130.40" width="1.948" height="4.0" fill="#c0e0f4"/><rect x="444.97" y="130.40" width="0.85" height="4.0" fill="#5e98c8"/>
<rect x="446.75" y="130.40" width="1.948" height="4.0" fill="#c0e0f4"/><rect x="446.90" y="130.40" width="0.85" height="4.0" fill="#5e98c8"/>
<rect x="471.82" y="130.40" width="1.948" height="4.0" fill="#c0e0f4"/><rect x="471.97" y="130.40" width="0.85" height="4.0" fill="#5e98c8"/>
<rect x="483.38" y="130.40" width="1.948" height="4.0" fill="#c0e0f4"/><rect x="483.53" y="130.40" width="0.85" height="4.0" fill="#5e98c8"/>
<rect x="487.24" y="130.40" width="1.948" height="4.0" fill="#c0e0f4"/><rect x="487.39" y="130.40" width="0.85" height="4.0" fill="#5e98c8"/>
<rect x="43.80" y="135.30" width="1.948" height="4.0" fill="#c0e0f4"/><rect x="43.95" y="135.30" width="0.85" height="4.0" fill="#5e98c8"/>
<rect x="47.66" y="135.30" width="1.948" height="4.0" fill="#c0e0f4"/><rect x="47.81" y="135.30" width="0.85" height="4.0" fill="#5e98c8"/>
<rect x="90.07" y="135.30" width="1.948" height="4.0" fill="#c0e0f4"/><rect x="90.22" y="135.30" width="0.85" height="4.0" fill="#5e98c8"/>
<rect x="142.13" y="135.30" width="1.948" height="4.0" fill="#c0e0f4"/><rect x="142.28" y="135.30" width="0.85" height="4.0" fill="#5e98c8"/>
<rect x="145.98" y="135.30" width="1.948" height="4.0" fill="#c0e0f4"/><rect x="146.13" y="135.30" width="0.85" height="4.0" fill="#5e98c8"/>
<rect x="388.91" y="135.30" width="1.948" height="4.0" fill="#c0e0f4"/><rect x="389.06" y="135.30" width="0.85" height="4.0" fill="#5e98c8"/>
<rect x="415.90" y="135.30" width="1.948" height="4.0" fill="#c0e0f4"/><rect x="416.05" y="135.30" width="0.85" height="4.0" fill="#5e98c8"/>
<rect x="431.33" y="135.30" width="1.948" height="4.0" fill="#c0e0f4"/><rect x="431.48" y="135.30" width="0.85" height="4.0" fill="#5e98c8"/>
<rect x="446.75" y="135.30" width="1.948" height="4.0" fill="#c0e0f4"/><rect x="446.90" y="135.30" width="0.85" height="4.0" fill="#5e98c8"/>
<rect x="78.50" y="140.10" width="1.948" height="4.0" fill="#c0e0f4"/><rect x="78.65" y="140.10" width="0.85" height="4.0" fill="#5e98c8"/>
<rect x="90.07" y="140.10" width="1.948" height="4.0" fill="#c0e0f4"/><rect x="90.22" y="140.10" width="0.85" height="4.0" fill="#5e98c8"/>
<rect x="145.98" y="140.10" width="1.948" height="4.0" fill="#c0e0f4"/><rect x="146.13" y="140.10" width="0.85" height="4.0" fill="#5e98c8"/>
<rect x="174.90" y="140.10" width="1.948" height="4.0" fill="#c0e0f4"/><rect x="175.05" y="140.10" width="0.85" height="4.0" fill="#5e98c8"/>
<rect x="250.10" y="140.10" width="1.948" height="4.0" fill="#c0e0f4"/><rect x="250.25" y="140.10" width="0.85" height="4.0" fill="#5e98c8"/>
<rect x="257.81" y="140.10" width="1.948" height="4.0" fill="#c0e0f4"/><rect x="257.96" y="140.10" width="0.85" height="4.0" fill="#5e98c8"/>
<rect x="263.59" y="140.10" width="1.948" height="4.0" fill="#c0e0f4"/><rect x="263.74" y="140.10" width="0.85" height="4.0" fill="#5e98c8"/>
<rect x="296.37" y="140.10" width="1.948" height="4.0" fill="#c0e0f4"/><rect x="296.52" y="140.10" width="0.85" height="4.0" fill="#5e98c8"/>
<rect x="331.07" y="140.10" width="1.948" height="4.0" fill="#c0e0f4"/><rect x="331.22" y="140.10" width="0.85" height="4.0" fill="#5e98c8"/>
<rect x="336.86" y="140.10" width="1.948" height="4.0" fill="#c0e0f4"/><rect x="337.01" y="140.10" width="0.85" height="4.0" fill="#5e98c8"/>
<rect x="344.57" y="140.10" width="1.948" height="4.0" fill="#c0e0f4"/><rect x="344.72" y="140.10" width="0.85" height="4.0" fill="#5e98c8"/>
<rect x="354.21" y="140.10" width="1.948" height="4.0" fill="#c0e0f4"/><rect x="354.36" y="140.10" width="0.85" height="4.0" fill="#5e98c8"/>
<rect x="361.92" y="140.10" width="1.948" height="4.0" fill="#c0e0f4"/><rect x="362.07" y="140.10" width="0.85" height="4.0" fill="#5e98c8"/>
<rect x="379.27" y="140.10" width="1.948" height="4.0" fill="#c0e0f4"/><rect x="379.42" y="140.10" width="0.85" height="4.0" fill="#5e98c8"/>
<rect x="425.54" y="140.10" width="1.948" height="4.0" fill="#c0e0f4"/><rect x="425.69" y="140.10" width="0.85" height="4.0" fill="#5e98c8"/>
<rect x="431.33" y="140.10" width="1.948" height="4.0" fill="#c0e0f4"/><rect x="431.48" y="140.10" width="0.85" height="4.0" fill="#5e98c8"/>
<rect x="444.82" y="140.10" width="1.948" height="4.0" fill="#c0e0f4"/><rect x="444.97" y="140.10" width="0.85" height="4.0" fill="#5e98c8"/>
<rect x="43.80" y="146.40" width="1.948" height="4.0" fill="#a7bfde"/><rect x="43.95" y="146.40" width="0.85" height="4.0" fill="#2d4768"/>
<rect x="45.73" y="146.40" width="1.948" height="4.0" fill="#a7bfde"/><rect x="45.88" y="146.40" width="0.85" height="4.0" fill="#2d4768"/>
<rect x="47.66" y="146.40" width="1.948" height="4.0" fill="#a7bfde"/><rect x="47.81" y="146.40" width="0.85" height="4.0" fill="#2d4768"/>
<rect x="53.44" y="146.40" width="1.948" height="4.0" fill="#a7bfde"/><rect x="53.59" y="146.40" width="0.85" height="4.0" fill="#2d4768"/>
<rect x="55.37" y="146.40" width="1.948" height="4.0" fill="#a7bfde"/><rect x="55.52" y="146.40" width="0.85" height="4.0" fill="#2d4768"/>
<rect x="59.22" y="146.40" width="1.948" height="4.0" fill="#a7bfde"/><rect x="59.37" y="146.40" width="0.85" height="4.0" fill="#2d4768"/>
<rect x="61.15" y="146.40" width="1.948" height="4.0" fill="#a7bfde"/><rect x="61.30" y="146.40" width="0.85" height="4.0" fill="#2d4768"/>
<rect x="63.08" y="146.40" width="1.948" height="4.0" fill="#a7bfde"/><rect x="63.23" y="146.40" width="0.85" height="4.0" fill="#2d4768"/>
<rect x="65.01" y="146.40" width="1.948" height="4.0" fill="#a7bfde"/><rect x="65.16" y="146.40" width="0.85" height="4.0" fill="#2d4768"/>
<rect x="66.94" y="146.40" width="1.948" height="4.0" fill="#a7bfde"/><rect x="67.09" y="146.40" width="0.85" height="4.0" fill="#2d4768"/>
<rect x="74.65" y="146.40" width="1.948" height="4.0" fill="#a7bfde"/><rect x="74.80" y="146.40" width="0.85" height="4.0" fill="#2d4768"/>
<rect x="78.50" y="146.40" width="1.948" height="4.0" fill="#a7bfde"/><rect x="78.65" y="146.40" width="0.85" height="4.0" fill="#2d4768"/>
<rect x="88.14" y="146.40" width="1.948" height="4.0" fill="#a7bfde"/><rect x="88.29" y="146.40" width="0.85" height="4.0" fill="#2d4768"/>
<rect x="90.07" y="146.40" width="1.948" height="4.0" fill="#a7bfde"/><rect x="90.22" y="146.40" width="0.85" height="4.0" fill="#2d4768"/>
<rect x="92.00" y="146.40" width="1.948" height="4.0" fill="#a7bfde"/><rect x="92.15" y="146.40" width="0.85" height="4.0" fill="#2d4768"/>
<rect x="93.93" y="146.40" width="1.948" height="4.0" fill="#a7bfde"/><rect x="94.08" y="146.40" width="0.85" height="4.0" fill="#2d4768"/>
<rect x="95.86" y="146.40" width="1.948" height="4.0" fill="#a7bfde"/><rect x="96.01" y="146.40" width="0.85" height="4.0" fill="#2d4768"/>
<rect x="99.71" y="146.40" width="1.948" height="4.0" fill="#a7bfde"/><rect x="99.86" y="146.40" width="0.85" height="4.0" fill="#2d4768"/>
<rect x="101.64" y="146.40" width="1.948" height="4.0" fill="#a7bfde"/><rect x="101.79" y="146.40" width="0.85" height="4.0" fill="#2d4768"/>
<rect x="103.57" y="146.40" width="1.948" height="4.0" fill="#a7bfde"/><rect x="103.72" y="146.40" width="0.85" height="4.0" fill="#2d4768"/>
<rect x="109.35" y="146.40" width="1.948" height="4.0" fill="#a7bfde"/><rect x="109.50" y="146.40" width="0.85" height="4.0" fill="#2d4768"/>
<rect x="132.49" y="146.40" width="1.948" height="4.0" fill="#a7bfde"/><rect x="132.64" y="146.40" width="0.85" height="4.0" fill="#2d4768"/>
<rect x="134.42" y="146.40" width="1.948" height="4.0" fill="#a7bfde"/><rect x="134.57" y="146.40" width="0.85" height="4.0" fill="#2d4768"/>
<rect x="138.27" y="146.40" width="1.948" height="4.0" fill="#a7bfde"/><rect x="138.42" y="146.40" width="0.85" height="4.0" fill="#2d4768"/>
<rect x="142.13" y="146.40" width="1.948" height="4.0" fill="#a7bfde"/><rect x="142.28" y="146.40" width="0.85" height="4.0" fill="#2d4768"/>
<rect x="145.98" y="146.40" width="1.948" height="4.0" fill="#a7bfde"/><rect x="146.13" y="146.40" width="0.85" height="4.0" fill="#2d4768"/>
<rect x="149.84" y="146.40" width="1.948" height="4.0" fill="#a7bfde"/><rect x="149.99" y="146.40" width="0.85" height="4.0" fill="#2d4768"/>
<rect x="153.70" y="146.40" width="1.948" height="4.0" fill="#a7bfde"/><rect x="153.85" y="146.40" width="0.85" height="4.0" fill="#2d4768"/>
<rect x="155.62" y="146.40" width="1.948" height="4.0" fill="#a7bfde"/><rect x="155.77" y="146.40" width="0.85" height="4.0" fill="#2d4768"/>
<rect x="157.55" y="146.40" width="1.948" height="4.0" fill="#a7bfde"/><rect x="157.70" y="146.40" width="0.85" height="4.0" fill="#2d4768"/>
<rect x="163.34" y="146.40" width="1.948" height="4.0" fill="#a7bfde"/><rect x="163.49" y="146.40" width="0.85" height="4.0" fill="#2d4768"/>
<rect x="165.26" y="146.40" width="1.948" height="4.0" fill="#a7bfde"/><rect x="165.41" y="146.40" width="0.85" height="4.0" fill="#2d4768"/>
<rect x="169.12" y="146.40" width="1.948" height="4.0" fill="#a7bfde"/><rect x="169.27" y="146.40" width="0.85" height="4.0" fill="#2d4768"/>
<rect x="174.90" y="146.40" width="1.948" height="4.0" fill="#a7bfde"/><rect x="175.05" y="146.40" width="0.85" height="4.0" fill="#2d4768"/>
<rect x="182.62" y="146.40" width="1.948" height="4.0" fill="#a7bfde"/><rect x="182.77" y="146.40" width="0.85" height="4.0" fill="#2d4768"/>
<rect x="184.54" y="146.40" width="1.948" height="4.0" fill="#a7bfde"/><rect x="184.69" y="146.40" width="0.85" height="4.0" fill="#2d4768"/>
<rect x="186.47" y="146.40" width="1.948" height="4.0" fill="#a7bfde"/><rect x="186.62" y="146.40" width="0.85" height="4.0" fill="#2d4768"/>
<rect x="194.18" y="146.40" width="1.948" height="4.0" fill="#a7bfde"/><rect x="194.33" y="146.40" width="0.85" height="4.0" fill="#2d4768"/>
<rect x="198.04" y="146.40" width="1.948" height="4.0" fill="#a7bfde"/><rect x="198.19" y="146.40" width="0.85" height="4.0" fill="#2d4768"/>
<rect x="199.97" y="146.40" width="1.948" height="4.0" fill="#a7bfde"/><rect x="200.12" y="146.40" width="0.85" height="4.0" fill="#2d4768"/>
<rect x="209.61" y="146.40" width="1.948" height="4.0" fill="#a7bfde"/><rect x="209.76" y="146.40" width="0.85" height="4.0" fill="#2d4768"/>
<rect x="211.54" y="146.40" width="1.948" height="4.0" fill="#a7bfde"/><rect x="211.69" y="146.40" width="0.85" height="4.0" fill="#2d4768"/>
<rect x="213.46" y="146.40" width="1.948" height="4.0" fill="#a7bfde"/><rect x="213.61" y="146.40" width="0.85" height="4.0" fill="#2d4768"/>
<rect x="219.25" y="146.40" width="1.948" height="4.0" fill="#a7bfde"/><rect x="219.40" y="146.40" width="0.85" height="4.0" fill="#2d4768"/>
<rect x="221.18" y="146.40" width="1.948" height="4.0" fill="#a7bfde"/><rect x="221.33" y="146.40" width="0.85" height="4.0" fill="#2d4768"/>
<rect x="226.96" y="146.40" width="1.948" height="4.0" fill="#a7bfde"/><rect x="227.11" y="146.40" width="0.85" height="4.0" fill="#2d4768"/>
<rect x="228.89" y="146.40" width="1.948" height="4.0" fill="#a7bfde"/><rect x="229.04" y="146.40" width="0.85" height="4.0" fill="#2d4768"/>
<rect x="232.74" y="146.40" width="1.948" height="4.0" fill="#a7bfde"/><rect x="232.89" y="146.40" width="0.85" height="4.0" fill="#2d4768"/>
<rect x="234.67" y="146.40" width="1.948" height="4.0" fill="#a7bfde"/><rect x="234.82" y="146.40" width="0.85" height="4.0" fill="#2d4768"/>
<rect x="238.53" y="146.40" width="1.948" height="4.0" fill="#a7bfde"/><rect x="238.68" y="146.40" width="0.85" height="4.0" fill="#2d4768"/>
<rect x="240.46" y="146.40" width="1.948" height="4.0" fill="#a7bfde"/><rect x="240.61" y="146.40" width="0.85" height="4.0" fill="#2d4768"/>
<rect x="242.38" y="146.40" width="1.948" height="4.0" fill="#a7bfde"/><rect x="242.53" y="146.40" width="0.85" height="4.0" fill="#2d4768"/>
<rect x="244.31" y="146.40" width="1.948" height="4.0" fill="#a7bfde"/><rect x="244.46" y="146.40" width="0.85" height="4.0" fill="#2d4768"/>
<rect x="246.24" y="146.40" width="1.948" height="4.0" fill="#a7bfde"/><rect x="246.39" y="146.40" width="0.85" height="4.0" fill="#2d4768"/>
<rect x="248.17" y="146.40" width="1.948" height="4.0" fill="#a7bfde"/><rect x="248.32" y="146.40" width="0.85" height="4.0" fill="#2d4768"/>
<rect x="250.10" y="146.40" width="1.948" height="4.0" fill="#a7bfde"/><rect x="250.25" y="146.40" width="0.85" height="4.0" fill="#2d4768"/>
<rect x="252.02" y="146.40" width="1.948" height="4.0" fill="#a7bfde"/><rect x="252.17" y="146.40" width="0.85" height="4.0" fill="#2d4768"/>
<rect x="257.81" y="146.40" width="1.948" height="4.0" fill="#a7bfde"/><rect x="257.96" y="146.40" width="0.85" height="4.0" fill="#2d4768"/>
<rect x="261.66" y="146.40" width="1.948" height="4.0" fill="#a7bfde"/><rect x="261.81" y="146.40" width="0.85" height="4.0" fill="#2d4768"/>
<rect x="263.59" y="146.40" width="1.948" height="4.0" fill="#a7bfde"/><rect x="263.74" y="146.40" width="0.85" height="4.0" fill="#2d4768"/>
<rect x="269.38" y="146.40" width="1.948" height="4.0" fill="#a7bfde"/><rect x="269.53" y="146.40" width="0.85" height="4.0" fill="#2d4768"/>
<rect x="273.23" y="146.40" width="1.948" height="4.0" fill="#a7bfde"/><rect x="273.38" y="146.40" width="0.85" height="4.0" fill="#2d4768"/>
<rect x="279.02" y="146.40" width="1.948" height="4.0" fill="#a7bfde"/><rect x="279.17" y="146.40" width="0.85" height="4.0" fill="#2d4768"/>
<rect x="280.94" y="146.40" width="1.948" height="4.0" fill="#a7bfde"/><rect x="281.09" y="146.40" width="0.85" height="4.0" fill="#2d4768"/>
<rect x="282.87" y="146.40" width="1.948" height="4.0" fill="#a7bfde"/><rect x="283.02" y="146.40" width="0.85" height="4.0" fill="#2d4768"/>
<rect x="284.80" y="146.40" width="1.948" height="4.0" fill="#a7bfde"/><rect x="284.95" y="146.40" width="0.85" height="4.0" fill="#2d4768"/>
<rect x="288.66" y="146.40" width="1.948" height="4.0" fill="#a7bfde"/><rect x="288.81" y="146.40" width="0.85" height="4.0" fill="#2d4768"/>
<rect x="290.58" y="146.40" width="1.948" height="4.0" fill="#a7bfde"/><rect x="290.73" y="146.40" width="0.85" height="4.0" fill="#2d4768"/>
<rect x="292.51" y="146.40" width="1.948" height="4.0" fill="#a7bfde"/><rect x="292.66" y="146.40" width="0.85" height="4.0" fill="#2d4768"/>
<rect x="294.44" y="146.40" width="1.948" height="4.0" fill="#a7bfde"/><rect x="294.59" y="146.40" width="0.85" height="4.0" fill="#2d4768"/>
<rect x="296.37" y="146.40" width="1.948" height="4.0" fill="#a7bfde"/><rect x="296.52" y="146.40" width="0.85" height="4.0" fill="#2d4768"/>
<rect x="298.30" y="146.40" width="1.948" height="4.0" fill="#a7bfde"/><rect x="298.45" y="146.40" width="0.85" height="4.0" fill="#2d4768"/>
<rect x="302.15" y="146.40" width="1.948" height="4.0" fill="#a7bfde"/><rect x="302.30" y="146.40" width="0.85" height="4.0" fill="#2d4768"/>
<rect x="304.08" y="146.40" width="1.948" height="4.0" fill="#a7bfde"/><rect x="304.23" y="146.40" width="0.85" height="4.0" fill="#2d4768"/>
<rect x="306.01" y="146.40" width="1.948" height="4.0" fill="#a7bfde"/><rect x="306.16" y="146.40" width="0.85" height="4.0" fill="#2d4768"/>
<rect x="317.58" y="146.40" width="1.948" height="4.0" fill="#a7bfde"/><rect x="317.73" y="146.40" width="0.85" height="4.0" fill="#2d4768"/>
<rect x="323.36" y="146.40" width="1.948" height="4.0" fill="#a7bfde"/><rect x="323.51" y="146.40" width="0.85" height="4.0" fill="#2d4768"/>
<rect x="331.07" y="146.40" width="1.948" height="4.0" fill="#a7bfde"/><rect x="331.22" y="146.40" width="0.85" height="4.0" fill="#2d4768"/>
<rect x="333.00" y="146.40" width="1.948" height="4.0" fill="#a7bfde"/><rect x="333.15" y="146.40" width="0.85" height="4.0" fill="#2d4768"/>
<rect x="334.93" y="146.40" width="1.948" height="4.0" fill="#a7bfde"/><rect x="335.08" y="146.40" width="0.85" height="4.0" fill="#2d4768"/>
<rect x="336.86" y="146.40" width="1.948" height="4.0" fill="#a7bfde"/><rect x="337.01" y="146.40" width="0.85" height="4.0" fill="#2d4768"/>
<rect x="338.78" y="146.40" width="1.948" height="4.0" fill="#a7bfde"/><rect x="338.93" y="146.40" width="0.85" height="4.0" fill="#2d4768"/>
<rect x="340.71" y="146.40" width="1.948" height="4.0" fill="#a7bfde"/><rect x="340.86" y="146.40" width="0.85" height="4.0" fill="#2d4768"/>
<rect x="342.64" y="146.40" width="1.948" height="4.0" fill="#a7bfde"/><rect x="342.79" y="146.40" width="0.85" height="4.0" fill="#2d4768"/>
<rect x="344.57" y="146.40" width="1.948" height="4.0" fill="#a7bfde"/><rect x="344.72" y="146.40" width="0.85" height="4.0" fill="#2d4768"/>
<rect x="354.21" y="146.40" width="1.948" height="4.0" fill="#a7bfde"/><rect x="354.36" y="146.40" width="0.85" height="4.0" fill="#2d4768"/>
<rect x="356.14" y="146.40" width="1.948" height="4.0" fill="#a7bfde"/><rect x="356.29" y="146.40" width="0.85" height="4.0" fill="#2d4768"/>
<rect x="358.06" y="146.40" width="1.948" height="4.0" fill="#a7bfde"/><rect x="358.21" y="146.40" width="0.85" height="4.0" fill="#2d4768"/>
<rect x="361.92" y="146.40" width="1.948" height="4.0" fill="#a7bfde"/><rect x="362.07" y="146.40" width="0.85" height="4.0" fill="#2d4768"/>
<rect x="367.70" y="146.40" width="1.948" height="4.0" fill="#a7bfde"/><rect x="367.85" y="146.40" width="0.85" height="4.0" fill="#2d4768"/>
<rect x="371.56" y="146.40" width="1.948" height="4.0" fill="#a7bfde"/><rect x="371.71" y="146.40" width="0.85" height="4.0" fill="#2d4768"/>
<rect x="379.27" y="146.40" width="1.948" height="4.0" fill="#a7bfde"/><rect x="379.42" y="146.40" width="0.85" height="4.0" fill="#2d4768"/>
<rect x="383.13" y="146.40" width="1.948" height="4.0" fill="#a7bfde"/><rect x="383.28" y="146.40" width="0.85" height="4.0" fill="#2d4768"/>
<rect x="385.06" y="146.40" width="1.948" height="4.0" fill="#a7bfde"/><rect x="385.21" y="146.40" width="0.85" height="4.0" fill="#2d4768"/>
<rect x="386.98" y="146.40" width="1.948" height="4.0" fill="#a7bfde"/><rect x="387.13" y="146.40" width="0.85" height="4.0" fill="#2d4768"/>
<rect x="388.91" y="146.40" width="1.948" height="4.0" fill="#a7bfde"/><rect x="389.06" y="146.40" width="0.85" height="4.0" fill="#2d4768"/>
<rect x="394.70" y="146.40" width="1.948" height="4.0" fill="#a7bfde"/><rect x="394.85" y="146.40" width="0.85" height="4.0" fill="#2d4768"/>
<rect x="398.55" y="146.40" width="1.948" height="4.0" fill="#a7bfde"/><rect x="398.70" y="146.40" width="0.85" height="4.0" fill="#2d4768"/>
<rect x="410.12" y="146.40" width="1.948" height="4.0" fill="#a7bfde"/><rect x="410.27" y="146.40" width="0.85" height="4.0" fill="#2d4768"/>
<rect x="412.05" y="146.40" width="1.948" height="4.0" fill="#a7bfde"/><rect x="412.20" y="146.40" width="0.85" height="4.0" fill="#2d4768"/>
<rect x="415.90" y="146.40" width="1.948" height="4.0" fill="#a7bfde"/><rect x="416.05" y="146.40" width="0.85" height="4.0" fill="#2d4768"/>
<rect x="419.76" y="146.40" width="1.948" height="4.0" fill="#a7bfde"/><rect x="419.91" y="146.40" width="0.85" height="4.0" fill="#2d4768"/>
<rect x="421.69" y="146.40" width="1.948" height="4.0" fill="#a7bfde"/><rect x="421.84" y="146.40" width="0.85" height="4.0" fill="#2d4768"/>
<rect x="423.62" y="146.40" width="1.948" height="4.0" fill="#a7bfde"/><rect x="423.77" y="146.40" width="0.85" height="4.0" fill="#2d4768"/>
<rect x="425.54" y="146.40" width="1.948" height="4.0" fill="#a7bfde"/><rect x="425.69" y="146.40" width="0.85" height="4.0" fill="#2d4768"/>
<rect x="427.47" y="146.40" width="1.948" height="4.0" fill="#a7bfde"/><rect x="427.62" y="146.40" width="0.85" height="4.0" fill="#2d4768"/>
<rect x="429.40" y="146.40" width="1.948" height="4.0" fill="#a7bfde"/><rect x="429.55" y="146.40" width="0.85" height="4.0" fill="#2d4768"/>
<rect x="431.33" y="146.40" width="1.948" height="4.0" fill="#a7bfde"/><rect x="431.48" y="146.40" width="0.85" height="4.0" fill="#2d4768"/>
<rect x="435.18" y="146.40" width="1.948" height="4.0" fill="#a7bfde"/><rect x="435.33" y="146.40" width="0.85" height="4.0" fill="#2d4768"/>
<rect x="437.11" y="146.40" width="1.948" height="4.0" fill="#a7bfde"/><rect x="437.26" y="146.40" width="0.85" height="4.0" fill="#2d4768"/>
<rect x="439.04" y="146.40" width="1.948" height="4.0" fill="#a7bfde"/><rect x="439.19" y="146.40" width="0.85" height="4.0" fill="#2d4768"/>
<rect x="444.82" y="146.40" width="1.948" height="4.0" fill="#a7bfde"/><rect x="444.97" y="146.40" width="0.85" height="4.0" fill="#2d4768"/>
<rect x="446.75" y="146.40" width="1.948" height="4.0" fill="#a7bfde"/><rect x="446.90" y="146.40" width="0.85" height="4.0" fill="#2d4768"/>
<rect x="448.68" y="146.40" width="1.948" height="4.0" fill="#a7bfde"/><rect x="448.83" y="146.40" width="0.85" height="4.0" fill="#2d4768"/>
<rect x="450.61" y="146.40" width="1.948" height="4.0" fill="#a7bfde"/><rect x="450.76" y="146.40" width="0.85" height="4.0" fill="#2d4768"/>
<rect x="454.46" y="146.40" width="1.948" height="4.0" fill="#a7bfde"/><rect x="454.61" y="146.40" width="0.85" height="4.0" fill="#2d4768"/>
<rect x="456.39" y="146.40" width="1.948" height="4.0" fill="#a7bfde"/><rect x="456.54" y="146.40" width="0.85" height="4.0" fill="#2d4768"/>
<rect x="458.32" y="146.40" width="1.948" height="4.0" fill="#a7bfde"/><rect x="458.47" y="146.40" width="0.85" height="4.0" fill="#2d4768"/>
<rect x="469.89" y="146.40" width="1.948" height="4.0" fill="#a7bfde"/><rect x="470.04" y="146.40" width="0.85" height="4.0" fill="#2d4768"/>
<rect x="471.82" y="146.40" width="1.948" height="4.0" fill="#a7bfde"/><rect x="471.97" y="146.40" width="0.85" height="4.0" fill="#2d4768"/>
<rect x="483.38" y="146.40" width="1.948" height="4.0" fill="#a7bfde"/><rect x="483.53" y="146.40" width="0.85" height="4.0" fill="#2d4768"/>
<rect x="487.24" y="146.40" width="1.948" height="4.0" fill="#a7bfde"/><rect x="487.39" y="146.40" width="0.85" height="4.0" fill="#2d4768"/>
<rect x="496.88" y="146.40" width="1.948" height="4.0" fill="#a7bfde"/><rect x="497.03" y="146.40" width="0.85" height="4.0" fill="#2d4768"/>
<rect x="504.59" y="146.40" width="1.948" height="4.0" fill="#a7bfde"/><rect x="504.74" y="146.40" width="0.85" height="4.0" fill="#2d4768"/>
<rect x="506.52" y="146.40" width="1.948" height="4.0" fill="#a7bfde"/><rect x="506.67" y="146.40" width="0.85" height="4.0" fill="#2d4768"/>
<rect x="43.80" y="151.20" width="1.948" height="4.0" fill="#fef5d5"/><rect x="43.95" y="151.20" width="0.85" height="4.0" fill="#e4dcbf"/>
<rect x="43.80" y="155.90" width="1.948" height="4.0" fill="#fef5d5"/><rect x="43.95" y="155.90" width="0.85" height="4.0" fill="#dfd7bb"/>
<rect x="45.73" y="151.20" width="1.948" height="4.0" fill="#fef0cc"/><rect x="45.88" y="151.20" width="0.85" height="4.0" fill="#e4d8b7"/>
<rect x="45.73" y="155.90" width="1.948" height="4.0" fill="#fef6d6"/><rect x="45.88" y="155.90" width="0.85" height="4.0" fill="#dfd8bc"/>
<rect x="47.66" y="151.20" width="1.948" height="4.0" fill="#fef3d0"/><rect x="47.81" y="151.20" width="0.85" height="4.0" fill="#e4dabb"/>
<rect x="47.66" y="155.90" width="1.948" height="4.0" fill="#fef2cf"/><rect x="47.81" y="155.90" width="0.85" height="4.0" fill="#dfd4b6"/>
<rect x="49.58" y="151.20" width="1.948" height="4.0" fill="#fef3d1"/><rect x="49.73" y="151.20" width="0.85" height="4.0" fill="#e4dabc"/>
<rect x="49.58" y="155.90" width="1.948" height="4.0" fill="#fef6d6"/><rect x="49.73" y="155.90" width="0.85" height="4.0" fill="#dfd8bc"/>
<rect x="53.44" y="151.20" width="1.948" height="4.0" fill="#fef6d6"/><rect x="53.59" y="151.20" width="0.85" height="4.0" fill="#e4ddc0"/>
<rect x="53.44" y="155.90" width="1.948" height="4.0" fill="#fef6d6"/><rect x="53.59" y="155.90" width="0.85" height="4.0" fill="#dfd8bc"/>
<rect x="55.37" y="151.20" width="1.948" height="4.0" fill="#fef4d3"/><rect x="55.52" y="151.20" width="0.85" height="4.0" fill="#e4dbbd"/>
<rect x="55.37" y="155.90" width="1.948" height="4.0" fill="#face9a"/><rect x="55.52" y="155.90" width="0.85" height="4.0" fill="#dcb587"/>
<rect x="59.22" y="151.20" width="1.948" height="4.0" fill="#fef6d6"/><rect x="59.37" y="151.20" width="0.85" height="4.0" fill="#e4ddc0"/>
<rect x="59.22" y="155.90" width="1.948" height="4.0" fill="#fdeabf"/><rect x="59.37" y="155.90" width="0.85" height="4.0" fill="#decda8"/>
<rect x="61.15" y="151.20" width="1.948" height="4.0" fill="#fde4b6"/><rect x="61.30" y="151.20" width="0.85" height="4.0" fill="#e3cda3"/>
<rect x="61.15" y="155.90" width="1.948" height="4.0" fill="#fdecc3"/><rect x="61.30" y="155.90" width="0.85" height="4.0" fill="#decfab"/>
<rect x="63.08" y="151.20" width="1.948" height="4.0" fill="#fef5d4"/><rect x="63.23" y="151.20" width="0.85" height="4.0" fill="#e4dcbe"/>
<rect x="63.08" y="155.90" width="1.948" height="4.0" fill="#f9ca96"/><rect x="63.23" y="155.90" width="0.85" height="4.0" fill="#dbb184"/>
<rect x="65.01" y="151.20" width="1.948" height="4.0" fill="#fef6d6"/><rect x="65.16" y="151.20" width="0.85" height="4.0" fill="#e4ddc0"/>
<rect x="65.01" y="155.90" width="1.948" height="4.0" fill="#f6b583"/><rect x="65.16" y="155.90" width="0.85" height="4.0" fill="#d89f73"/>
<rect x="66.94" y="151.20" width="1.948" height="4.0" fill="#fef6d5"/><rect x="67.09" y="151.20" width="0.85" height="4.0" fill="#e4ddbf"/>
<rect x="66.94" y="155.90" width="1.948" height="4.0" fill="#fef6d5"/><rect x="67.09" y="155.90" width="0.85" height="4.0" fill="#dfd8bb"/>
<rect x="74.65" y="151.20" width="1.948" height="4.0" fill="#fef6d6"/><rect x="74.80" y="151.20" width="0.85" height="4.0" fill="#e4ddc0"/>
<rect x="74.65" y="155.90" width="1.948" height="4.0" fill="#fdecc3"/><rect x="74.80" y="155.90" width="0.85" height="4.0" fill="#decfab"/>
<rect x="78.50" y="151.20" width="1.948" height="4.0" fill="#fef5d4"/><rect x="78.65" y="151.20" width="0.85" height="4.0" fill="#e4dcbe"/>
<rect x="78.50" y="155.90" width="1.948" height="4.0" fill="#fdedc5"/><rect x="78.65" y="155.90" width="0.85" height="4.0" fill="#ded0ad"/>
<rect x="80.43" y="151.20" width="1.948" height="4.0" fill="#fef6d6"/><rect x="80.58" y="151.20" width="0.85" height="4.0" fill="#e4ddc0"/>
<rect x="80.43" y="155.90" width="1.948" height="4.0" fill="#fef5d4"/><rect x="80.58" y="155.90" width="0.85" height="4.0" fill="#dfd7ba"/>
<rect x="88.14" y="151.20" width="1.948" height="4.0" fill="#fef2ce"/><rect x="88.29" y="151.20" width="0.85" height="4.0" fill="#e4d9b9"/>
<rect x="88.14" y="155.90" width="1.948" height="4.0" fill="#fdf0cb"/><rect x="88.29" y="155.90" width="0.85" height="4.0" fill="#ded3b2"/>
<rect x="90.07" y="151.20" width="1.948" height="4.0" fill="#fef5d5"/><rect x="90.22" y="151.20" width="0.85" height="4.0" fill="#e4dcbf"/>
<rect x="90.07" y="155.90" width="1.948" height="4.0" fill="#fce1b0"/><rect x="90.22" y="155.90" width="0.85" height="4.0" fill="#ddc69a"/>
<rect x="92.00" y="151.20" width="1.948" height="4.0" fill="#fdefc9"/><rect x="92.15" y="151.20" width="0.85" height="4.0" fill="#e3d7b4"/>
<rect x="92.00" y="155.90" width="1.948" height="4.0" fill="#fef4d3"/><rect x="92.15" y="155.90" width="0.85" height="4.0" fill="#dfd6b9"/>
<rect x="93.93" y="151.20" width="1.948" height="4.0" fill="#fef2cf"/><rect x="94.08" y="151.20" width="0.85" height="4.0" fill="#e4d9ba"/>
<rect x="93.93" y="155.90" width="1.948" height="4.0" fill="#fdeec7"/><rect x="94.08" y="155.90" width="0.85" height="4.0" fill="#ded1af"/>
<rect x="95.86" y="151.20" width="1.948" height="4.0" fill="#fde8bd"/><rect x="96.01" y="151.20" width="0.85" height="4.0" fill="#e3d0aa"/>
<rect x="95.86" y="155.90" width="1.948" height="4.0" fill="#fde5b7"/><rect x="96.01" y="155.90" width="0.85" height="4.0" fill="#dec9a1"/>
<rect x="99.71" y="151.20" width="1.948" height="4.0" fill="#fce3b2"/><rect x="99.86" y="151.20" width="0.85" height="4.0" fill="#e2cca0"/>
<rect x="99.71" y="155.90" width="1.948" height="4.0" fill="#fef6d5"/><rect x="99.86" y="155.90" width="0.85" height="4.0" fill="#dfd8bb"/>
<rect x="101.64" y="151.20" width="1.948" height="4.0" fill="#fef4d3"/><rect x="101.79" y="151.20" width="0.85" height="4.0" fill="#e4dbbd"/>
<rect x="101.64" y="155.90" width="1.948" height="4.0" fill="#fce3b4"/><rect x="101.79" y="155.90" width="0.85" height="4.0" fill="#ddc79e"/>
<rect x="103.57" y="151.20" width="1.948" height="4.0" fill="#fef6d6"/><rect x="103.72" y="151.20" width="0.85" height="4.0" fill="#e4ddc0"/>
<rect x="103.57" y="155.90" width="1.948" height="4.0" fill="#fdefc9"/><rect x="103.72" y="155.90" width="0.85" height="4.0" fill="#ded2b0"/>
<rect x="105.50" y="151.20" width="1.948" height="4.0" fill="#fdf0cb"/><rect x="105.65" y="151.20" width="0.85" height="4.0" fill="#e3d8b6"/>
<rect x="105.50" y="155.90" width="1.948" height="4.0" fill="#fce3b3"/><rect x="105.65" y="155.90" width="0.85" height="4.0" fill="#ddc79d"/>
<rect x="109.35" y="151.20" width="1.948" height="4.0" fill="#fde8bd"/><rect x="109.50" y="151.20" width="0.85" height="4.0" fill="#e3d0aa"/>
<rect x="109.35" y="155.90" width="1.948" height="4.0" fill="#fef3d1"/><rect x="109.50" y="155.90" width="0.85" height="4.0" fill="#dfd5b7"/>
<rect x="126.70" y="151.20" width="1.948" height="4.0" fill="#fdefc9"/><rect x="126.85" y="151.20" width="0.85" height="4.0" fill="#e3d7b4"/>
<rect x="126.70" y="155.90" width="1.948" height="4.0" fill="#fde9be"/><rect x="126.85" y="155.90" width="0.85" height="4.0" fill="#decda7"/>
<rect x="132.49" y="151.20" width="1.948" height="4.0" fill="#fef6d5"/><rect x="132.64" y="151.20" width="0.85" height="4.0" fill="#e4ddbf"/>
<rect x="132.49" y="155.90" width="1.948" height="4.0" fill="#fef2ce"/><rect x="132.64" y="155.90" width="0.85" height="4.0" fill="#dfd4b5"/>
<rect x="134.42" y="151.20" width="1.948" height="4.0" fill="#fdf0cb"/><rect x="134.57" y="151.20" width="0.85" height="4.0" fill="#e3d8b6"/>
<rect x="134.42" y="155.90" width="1.948" height="4.0" fill="#fef6d6"/><rect x="134.57" y="155.90" width="0.85" height="4.0" fill="#dfd8bc"/>
<rect x="138.27" y="151.20" width="1.948" height="4.0" fill="#fef6d6"/><rect x="138.42" y="151.20" width="0.85" height="4.0" fill="#e4ddc0"/>
<rect x="138.27" y="155.90" width="1.948" height="4.0" fill="#fef6d5"/><rect x="138.42" y="155.90" width="0.85" height="4.0" fill="#dfd8bb"/>
<rect x="140.20" y="151.20" width="1.948" height="4.0" fill="#fdedc5"/><rect x="140.35" y="151.20" width="0.85" height="4.0" fill="#e3d5b1"/>
<rect x="140.20" y="155.90" width="1.948" height="4.0" fill="#fef6d5"/><rect x="140.35" y="155.90" width="0.85" height="4.0" fill="#dfd8bb"/>
<rect x="142.13" y="151.20" width="1.948" height="4.0" fill="#fef6d5"/><rect x="142.28" y="151.20" width="0.85" height="4.0" fill="#e4ddbf"/>
<rect x="142.13" y="155.90" width="1.948" height="4.0" fill="#fef2ce"/><rect x="142.28" y="155.90" width="0.85" height="4.0" fill="#dfd4b5"/>
<rect x="145.98" y="151.20" width="1.948" height="4.0" fill="#fef6d6"/><rect x="146.13" y="151.20" width="0.85" height="4.0" fill="#e4ddc0"/>
<rect x="145.98" y="155.90" width="1.948" height="4.0" fill="#f6b583"/><rect x="146.13" y="155.90" width="0.85" height="4.0" fill="#d89f73"/>
<rect x="149.84" y="151.20" width="1.948" height="4.0" fill="#fde8bc"/><rect x="149.99" y="151.20" width="0.85" height="4.0" fill="#e3d0a9"/>
<rect x="149.84" y="155.90" width="1.948" height="4.0" fill="#fce0ad"/><rect x="149.99" y="155.90" width="0.85" height="4.0" fill="#ddc598"/>
<rect x="153.70" y="151.20" width="1.948" height="4.0" fill="#fef6d5"/><rect x="153.85" y="151.20" width="0.85" height="4.0" fill="#e4ddbf"/>
<rect x="153.70" y="155.90" width="1.948" height="4.0" fill="#fef1cd"/><rect x="153.85" y="155.90" width="0.85" height="4.0" fill="#dfd4b4"/>
<rect x="155.62" y="151.20" width="1.948" height="4.0" fill="#fef5d4"/><rect x="155.77" y="151.20" width="0.85" height="4.0" fill="#e4dcbe"/>
<rect x="155.62" y="155.90" width="1.948" height="4.0" fill="#fbd9a5"/><rect x="155.77" y="155.90" width="0.85" height="4.0" fill="#dcbe91"/>
<rect x="157.55" y="151.20" width="1.948" height="4.0" fill="#fce4b5"/><rect x="157.70" y="151.20" width="0.85" height="4.0" fill="#e2cda2"/>
<rect x="157.55" y="155.90" width="1.948" height="4.0" fill="#fef5d5"/><rect x="157.70" y="155.90" width="0.85" height="4.0" fill="#dfd7bb"/>
<rect x="163.34" y="151.20" width="1.948" height="4.0" fill="#fef6d6"/><rect x="163.49" y="151.20" width="0.85" height="4.0" fill="#e4ddc0"/>
<rect x="163.34" y="155.90" width="1.948" height="4.0" fill="#fdefc9"/><rect x="163.49" y="155.90" width="0.85" height="4.0" fill="#ded2b0"/>
<rect x="165.26" y="151.20" width="1.948" height="4.0" fill="#fef2ce"/><rect x="165.41" y="151.20" width="0.85" height="4.0" fill="#e4d9b9"/>
<rect x="165.26" y="155.90" width="1.948" height="4.0" fill="#fef4d3"/><rect x="165.41" y="155.90" width="0.85" height="4.0" fill="#dfd6b9"/>
<rect x="167.19" y="151.20" width="1.948" height="4.0" fill="#fef4d3"/><rect x="167.34" y="151.20" width="0.85" height="4.0" fill="#e4dbbd"/>
<rect x="167.19" y="155.90" width="1.948" height="4.0" fill="#fef2cf"/><rect x="167.34" y="155.90" width="0.85" height="4.0" fill="#dfd4b6"/>
<rect x="169.12" y="151.20" width="1.948" height="4.0" fill="#fef2cf"/><rect x="169.27" y="151.20" width="0.85" height="4.0" fill="#e4d9ba"/>
<rect x="169.12" y="155.90" width="1.948" height="4.0" fill="#face9a"/><rect x="169.27" y="155.90" width="0.85" height="4.0" fill="#dcb587"/>
<rect x="174.90" y="151.20" width="1.948" height="4.0" fill="#fef1cd"/><rect x="175.05" y="151.20" width="0.85" height="4.0" fill="#e4d8b8"/>
<rect x="174.90" y="155.90" width="1.948" height="4.0" fill="#fde8bb"/><rect x="175.05" y="155.90" width="0.85" height="4.0" fill="#decca4"/>
<rect x="176.83" y="151.20" width="1.948" height="4.0" fill="#fde7bb"/><rect x="176.98" y="151.20" width="0.85" height="4.0" fill="#e3cfa8"/>
<rect x="176.83" y="155.90" width="1.948" height="4.0" fill="#fce2b2"/><rect x="176.98" y="155.90" width="0.85" height="4.0" fill="#ddc69c"/>
<rect x="182.62" y="151.20" width="1.948" height="4.0" fill="#fef5d4"/><rect x="182.77" y="151.20" width="0.85" height="4.0" fill="#e4dcbe"/>
<rect x="182.62" y="155.90" width="1.948" height="4.0" fill="#ea8a66"/><rect x="182.77" y="155.90" width="0.85" height="4.0" fill="#cd7959"/>
<rect x="184.54" y="151.20" width="1.948" height="4.0" fill="#fef6d6"/><rect x="184.69" y="151.20" width="0.85" height="4.0" fill="#e4ddc0"/>
<rect x="184.54" y="155.90" width="1.948" height="4.0" fill="#fde9bf"/><rect x="184.69" y="155.90" width="0.85" height="4.0" fill="#decda8"/>
<rect x="186.47" y="151.20" width="1.948" height="4.0" fill="#fef6d6"/><rect x="186.62" y="151.20" width="0.85" height="4.0" fill="#e4ddc0"/>
<rect x="186.47" y="155.90" width="1.948" height="4.0" fill="#fef6d6"/><rect x="186.62" y="155.90" width="0.85" height="4.0" fill="#dfd8bc"/>
<rect x="194.18" y="151.20" width="1.948" height="4.0" fill="#fef6d6"/><rect x="194.33" y="151.20" width="0.85" height="4.0" fill="#e4ddc0"/>
<rect x="194.18" y="155.90" width="1.948" height="4.0" fill="#fef6d6"/><rect x="194.33" y="155.90" width="0.85" height="4.0" fill="#dfd8bc"/>
<rect x="198.04" y="151.20" width="1.948" height="4.0" fill="#fef6d6"/><rect x="198.19" y="151.20" width="0.85" height="4.0" fill="#e4ddc0"/>
<rect x="198.04" y="155.90" width="1.948" height="4.0" fill="#fef2cf"/><rect x="198.19" y="155.90" width="0.85" height="4.0" fill="#dfd4b6"/>
<rect x="199.97" y="151.20" width="1.948" height="4.0" fill="#fef6d6"/><rect x="200.12" y="151.20" width="0.85" height="4.0" fill="#e4ddc0"/>
<rect x="199.97" y="155.90" width="1.948" height="4.0" fill="#fbdaa7"/><rect x="200.12" y="155.90" width="0.85" height="4.0" fill="#dcbf92"/>
<rect x="209.61" y="151.20" width="1.948" height="4.0" fill="#fef5d4"/><rect x="209.76" y="151.20" width="0.85" height="4.0" fill="#e4dcbe"/>
<rect x="209.61" y="155.90" width="1.948" height="4.0" fill="#fef6d5"/><rect x="209.76" y="155.90" width="0.85" height="4.0" fill="#dfd8bb"/>
<rect x="211.54" y="151.20" width="1.948" height="4.0" fill="#fde9bf"/><rect x="211.69" y="151.20" width="0.85" height="4.0" fill="#e3d1ab"/>
<rect x="211.54" y="155.90" width="1.948" height="4.0" fill="#f9c794"/><rect x="211.69" y="155.90" width="0.85" height="4.0" fill="#dbaf82"/>
<rect x="213.46" y="151.20" width="1.948" height="4.0" fill="#fef4d2"/><rect x="213.61" y="151.20" width="0.85" height="4.0" fill="#e4dbbd"/>
<rect x="213.46" y="155.90" width="1.948" height="4.0" fill="#fdefc9"/><rect x="213.61" y="155.90" width="0.85" height="4.0" fill="#ded2b0"/>
<rect x="219.25" y="151.20" width="1.948" height="4.0" fill="#fef5d4"/><rect x="219.40" y="151.20" width="0.85" height="4.0" fill="#e4dcbe"/>
<rect x="219.25" y="155.90" width="1.948" height="4.0" fill="#fef4d3"/><rect x="219.40" y="155.90" width="0.85" height="4.0" fill="#dfd6b9"/>
<rect x="221.18" y="151.20" width="1.948" height="4.0" fill="#fdeac1"/><rect x="221.33" y="151.20" width="0.85" height="4.0" fill="#e3d2ad"/>
<rect x="221.18" y="155.90" width="1.948" height="4.0" fill="#fef5d5"/><rect x="221.33" y="155.90" width="0.85" height="4.0" fill="#dfd7bb"/>
<rect x="223.10" y="151.20" width="1.948" height="4.0" fill="#fde4b6"/><rect x="223.25" y="151.20" width="0.85" height="4.0" fill="#e3cda3"/>
<rect x="223.10" y="155.90" width="1.948" height="4.0" fill="#fdeec7"/><rect x="223.25" y="155.90" width="0.85" height="4.0" fill="#ded1af"/>
<rect x="226.96" y="151.20" width="1.948" height="4.0" fill="#fef3d0"/><rect x="227.11" y="151.20" width="0.85" height="4.0" fill="#e4dabb"/>
<rect x="226.96" y="155.90" width="1.948" height="4.0" fill="#fef6d6"/><rect x="227.11" y="155.90" width="0.85" height="4.0" fill="#dfd8bc"/>
<rect x="228.89" y="151.20" width="1.948" height="4.0" fill="#fef3d0"/><rect x="229.04" y="151.20" width="0.85" height="4.0" fill="#e4dabb"/>
<rect x="228.89" y="155.90" width="1.948" height="4.0" fill="#f9c996"/><rect x="229.04" y="155.90" width="0.85" height="4.0" fill="#dbb084"/>
<rect x="232.74" y="151.20" width="1.948" height="4.0" fill="#fdefc9"/><rect x="232.89" y="151.20" width="0.85" height="4.0" fill="#e3d7b4"/>
<rect x="232.74" y="155.90" width="1.948" height="4.0" fill="#e17058"/><rect x="232.89" y="155.90" width="0.85" height="4.0" fill="#c6624d"/>
<rect x="234.67" y="151.20" width="1.948" height="4.0" fill="#fef5d4"/><rect x="234.82" y="151.20" width="0.85" height="4.0" fill="#e4dcbe"/>
<rect x="234.67" y="155.90" width="1.948" height="4.0" fill="#fef5d5"/><rect x="234.82" y="155.90" width="0.85" height="4.0" fill="#dfd7bb"/>
<rect x="238.53" y="151.20" width="1.948" height="4.0" fill="#fef3d0"/><rect x="238.68" y="151.20" width="0.85" height="4.0" fill="#e4dabb"/>
<rect x="238.53" y="155.90" width="1.948" height="4.0" fill="#fce2b2"/><rect x="238.68" y="155.90" width="0.85" height="4.0" fill="#ddc69c"/>
<rect x="240.46" y="151.20" width="1.948" height="4.0" fill="#fcdeaa"/><rect x="240.61" y="151.20" width="0.85" height="4.0" fill="#e2c799"/>
<rect x="240.46" y="155.90" width="1.948" height="4.0" fill="#e17058"/><rect x="240.61" y="155.90" width="0.85" height="4.0" fill="#c6624d"/>
<rect x="242.38" y="151.20" width="1.948" height="4.0" fill="#fdebc2"/><rect x="242.53" y="151.20" width="0.85" height="4.0" fill="#e3d3ae"/>
<rect x="242.38" y="155.90" width="1.948" height="4.0" fill="#f9c895"/><rect x="242.53" y="155.90" width="0.85" height="4.0" fill="#dbb083"/>
<rect x="244.31" y="151.20" width="1.948" height="4.0" fill="#fde9bf"/><rect x="244.46" y="151.20" width="0.85" height="4.0" fill="#e3d1ab"/>
<rect x="244.31" y="155.90" width="1.948" height="4.0" fill="#f6b583"/><rect x="244.46" y="155.90" width="0.85" height="4.0" fill="#d89f73"/>
<rect x="246.24" y="151.20" width="1.948" height="4.0" fill="#fdebc1"/><rect x="246.39" y="151.20" width="0.85" height="4.0" fill="#e3d3ad"/>
<rect x="246.24" y="155.90" width="1.948" height="4.0" fill="#f6b583"/><rect x="246.39" y="155.90" width="0.85" height="4.0" fill="#d89f73"/>
<rect x="248.17" y="151.20" width="1.948" height="4.0" fill="#fef6d6"/><rect x="248.32" y="151.20" width="0.85" height="4.0" fill="#e4ddc0"/>
<rect x="248.17" y="155.90" width="1.948" height="4.0" fill="#f5ad7b"/><rect x="248.32" y="155.90" width="0.85" height="4.0" fill="#d7986c"/>
<rect x="250.10" y="151.20" width="1.948" height="4.0" fill="#fef5d4"/><rect x="250.25" y="151.20" width="0.85" height="4.0" fill="#e4dcbe"/>
<rect x="250.10" y="155.90" width="1.948" height="4.0" fill="#f6b583"/><rect x="250.25" y="155.90" width="0.85" height="4.0" fill="#d89f73"/>
<rect x="252.02" y="151.20" width="1.948" height="4.0" fill="#fef6d6"/><rect x="252.17" y="151.20" width="0.85" height="4.0" fill="#e4ddc0"/>
<rect x="252.02" y="155.90" width="1.948" height="4.0" fill="#f6b583"/><rect x="252.17" y="155.90" width="0.85" height="4.0" fill="#d89f73"/>
<rect x="257.81" y="151.20" width="1.948" height="4.0" fill="#fce4b5"/><rect x="257.96" y="151.20" width="0.85" height="4.0" fill="#e2cda2"/>
<rect x="257.81" y="155.90" width="1.948" height="4.0" fill="#fef0cb"/><rect x="257.96" y="155.90" width="0.85" height="4.0" fill="#dfd3b2"/>
<rect x="261.66" y="151.20" width="1.948" height="4.0" fill="#fce2b2"/><rect x="261.81" y="151.20" width="0.85" height="4.0" fill="#e2cba0"/>
<rect x="261.66" y="155.90" width="1.948" height="4.0" fill="#facd9a"/><rect x="261.81" y="155.90" width="0.85" height="4.0" fill="#dcb487"/>
<rect x="263.59" y="151.20" width="1.948" height="4.0" fill="#fef5d4"/><rect x="263.74" y="151.20" width="0.85" height="4.0" fill="#e4dcbe"/>
<rect x="263.59" y="155.90" width="1.948" height="4.0" fill="#fef5d4"/><rect x="263.74" y="155.90" width="0.85" height="4.0" fill="#dfd7ba"/>
<rect x="269.38" y="151.20" width="1.948" height="4.0" fill="#fef6d6"/><rect x="269.53" y="151.20" width="0.85" height="4.0" fill="#e4ddc0"/>
<rect x="269.38" y="155.90" width="1.948" height="4.0" fill="#fdeac0"/><rect x="269.53" y="155.90" width="0.85" height="4.0" fill="#decda8"/>
<rect x="273.23" y="151.20" width="1.948" height="4.0" fill="#fdeac0"/><rect x="273.38" y="151.20" width="0.85" height="4.0" fill="#e3d2ac"/>
<rect x="273.23" y="155.90" width="1.948" height="4.0" fill="#fdefca"/><rect x="273.38" y="155.90" width="0.85" height="4.0" fill="#ded2b1"/>
<rect x="279.02" y="151.20" width="1.948" height="4.0" fill="#fef6d6"/><rect x="279.17" y="151.20" width="0.85" height="4.0" fill="#e4ddc0"/>
<rect x="279.02" y="155.90" width="1.948" height="4.0" fill="#fde8bd"/><rect x="279.17" y="155.90" width="0.85" height="4.0" fill="#decca6"/>
<rect x="280.94" y="151.20" width="1.948" height="4.0" fill="#fde7ba"/><rect x="281.09" y="151.20" width="0.85" height="4.0" fill="#e3cfa7"/>
<rect x="280.94" y="155.90" width="1.948" height="4.0" fill="#fce2b1"/><rect x="281.09" y="155.90" width="0.85" height="4.0" fill="#ddc69b"/>
<rect x="282.87" y="151.20" width="1.948" height="4.0" fill="#fdedc6"/><rect x="283.02" y="151.20" width="0.85" height="4.0" fill="#e3d5b2"/>
<rect x="282.87" y="155.90" width="1.948" height="4.0" fill="#fdefca"/><rect x="283.02" y="155.90" width="0.85" height="4.0" fill="#ded2b1"/>
<rect x="284.80" y="151.20" width="1.948" height="4.0" fill="#fef6d6"/><rect x="284.95" y="151.20" width="0.85" height="4.0" fill="#e4ddc0"/>
<rect x="284.80" y="155.90" width="1.948" height="4.0" fill="#fce2b1"/><rect x="284.95" y="155.90" width="0.85" height="4.0" fill="#ddc69b"/>
<rect x="288.66" y="151.20" width="1.948" height="4.0" fill="#fdebc3"/><rect x="288.81" y="151.20" width="0.85" height="4.0" fill="#e3d3af"/>
<rect x="288.66" y="155.90" width="1.948" height="4.0" fill="#f9cb97"/><rect x="288.81" y="155.90" width="0.85" height="4.0" fill="#dbb284"/>
<rect x="290.58" y="151.20" width="1.948" height="4.0" fill="#fef5d4"/><rect x="290.73" y="151.20" width="0.85" height="4.0" fill="#e4dcbe"/>
<rect x="290.58" y="155.90" width="1.948" height="4.0" fill="#fef1ce"/><rect x="290.73" y="155.90" width="0.85" height="4.0" fill="#dfd4b5"/>
<rect x="292.51" y="151.20" width="1.948" height="4.0" fill="#fde5b6"/><rect x="292.66" y="151.20" width="0.85" height="4.0" fill="#e3cea3"/>
<rect x="292.51" y="155.90" width="1.948" height="4.0" fill="#fde5b7"/><rect x="292.66" y="155.90" width="0.85" height="4.0" fill="#dec9a1"/>
<rect x="294.44" y="151.20" width="1.948" height="4.0" fill="#fef6d6"/><rect x="294.59" y="151.20" width="0.85" height="4.0" fill="#e4ddc0"/>
<rect x="294.44" y="155.90" width="1.948" height="4.0" fill="#fef6d5"/><rect x="294.59" y="155.90" width="0.85" height="4.0" fill="#dfd8bb"/>
<rect x="296.37" y="151.20" width="1.948" height="4.0" fill="#fef6d6"/><rect x="296.52" y="151.20" width="0.85" height="4.0" fill="#e4ddc0"/>
<rect x="296.37" y="155.90" width="1.948" height="4.0" fill="#fbd6a2"/><rect x="296.52" y="155.90" width="0.85" height="4.0" fill="#dcbc8e"/>
<rect x="298.30" y="151.20" width="1.948" height="4.0" fill="#fdebc2"/><rect x="298.45" y="151.20" width="0.85" height="4.0" fill="#e3d3ae"/>
<rect x="298.30" y="155.90" width="1.948" height="4.0" fill="#fef6d5"/><rect x="298.45" y="155.90" width="0.85" height="4.0" fill="#dfd8bb"/>
<rect x="302.15" y="151.20" width="1.948" height="4.0" fill="#fce3b2"/><rect x="302.30" y="151.20" width="0.85" height="4.0" fill="#e2cca0"/>
<rect x="302.15" y="155.90" width="1.948" height="4.0" fill="#fde8bd"/><rect x="302.30" y="155.90" width="0.85" height="4.0" fill="#decca6"/>
<rect x="304.08" y="151.20" width="1.948" height="4.0" fill="#fef5d4"/><rect x="304.23" y="151.20" width="0.85" height="4.0" fill="#e4dcbe"/>
<rect x="304.08" y="155.90" width="1.948" height="4.0" fill="#fdedc5"/><rect x="304.23" y="155.90" width="0.85" height="4.0" fill="#ded0ad"/>
<rect x="306.01" y="151.20" width="1.948" height="4.0" fill="#fef6d6"/><rect x="306.16" y="151.20" width="0.85" height="4.0" fill="#e4ddc0"/>
<rect x="306.01" y="155.90" width="1.948" height="4.0" fill="#fef6d6"/><rect x="306.16" y="155.90" width="0.85" height="4.0" fill="#dfd8bc"/>
<rect x="317.58" y="151.20" width="1.948" height="4.0" fill="#fde8bd"/><rect x="317.73" y="151.20" width="0.85" height="4.0" fill="#e3d0aa"/>
<rect x="317.58" y="155.90" width="1.948" height="4.0" fill="#fcdfad"/><rect x="317.73" y="155.90" width="0.85" height="4.0" fill="#ddc498"/>
<rect x="323.36" y="151.20" width="1.948" height="4.0" fill="#fef5d5"/><rect x="323.51" y="151.20" width="0.85" height="4.0" fill="#e4dcbf"/>
<rect x="323.36" y="155.90" width="1.948" height="4.0" fill="#fef5d3"/><rect x="323.51" y="155.90" width="0.85" height="4.0" fill="#dfd7b9"/>
<rect x="331.07" y="151.20" width="1.948" height="4.0" fill="#fef6d6"/><rect x="331.22" y="151.20" width="0.85" height="4.0" fill="#e4ddc0"/>
<rect x="331.07" y="155.90" width="1.948" height="4.0" fill="#fbd5a1"/><rect x="331.22" y="155.90" width="0.85" height="4.0" fill="#dcbb8d"/>
<rect x="333.00" y="151.20" width="1.948" height="4.0" fill="#fef5d4"/><rect x="333.15" y="151.20" width="0.85" height="4.0" fill="#e4dcbe"/>
<rect x="333.00" y="155.90" width="1.948" height="4.0" fill="#fdf0cb"/><rect x="333.15" y="155.90" width="0.85" height="4.0" fill="#ded3b2"/>
<rect x="334.93" y="151.20" width="1.948" height="4.0" fill="#fef2cf"/><rect x="335.08" y="151.20" width="0.85" height="4.0" fill="#e4d9ba"/>
<rect x="334.93" y="155.90" width="1.948" height="4.0" fill="#fbd6a2"/><rect x="335.08" y="155.90" width="0.85" height="4.0" fill="#dcbc8e"/>
<rect x="336.86" y="151.20" width="1.948" height="4.0" fill="#fef4d3"/><rect x="337.01" y="151.20" width="0.85" height="4.0" fill="#e4dbbd"/>
<rect x="336.86" y="155.90" width="1.948" height="4.0" fill="#fbd4a0"/><rect x="337.01" y="155.90" width="0.85" height="4.0" fill="#dcba8c"/>
<rect x="338.78" y="151.20" width="1.948" height="4.0" fill="#fef3d1"/><rect x="338.93" y="151.20" width="0.85" height="4.0" fill="#e4dabc"/>
<rect x="338.78" y="155.90" width="1.948" height="4.0" fill="#fdedc6"/><rect x="338.93" y="155.90" width="0.85" height="4.0" fill="#ded0ae"/>
<rect x="340.71" y="151.20" width="1.948" height="4.0" fill="#fef3d1"/><rect x="340.86" y="151.20" width="0.85" height="4.0" fill="#e4dabc"/>
<rect x="340.71" y="155.90" width="1.948" height="4.0" fill="#fef6d6"/><rect x="340.86" y="155.90" width="0.85" height="4.0" fill="#dfd8bc"/>
<rect x="342.64" y="151.20" width="1.948" height="4.0" fill="#fef4d3"/><rect x="342.79" y="151.20" width="0.85" height="4.0" fill="#e4dbbd"/>
<rect x="342.64" y="155.90" width="1.948" height="4.0" fill="#fef5d4"/><rect x="342.79" y="155.90" width="0.85" height="4.0" fill="#dfd7ba"/>
<rect x="344.57" y="151.20" width="1.948" height="4.0" fill="#fef6d6"/><rect x="344.72" y="151.20" width="0.85" height="4.0" fill="#e4ddc0"/>
<rect x="344.57" y="155.90" width="1.948" height="4.0" fill="#fce1b0"/><rect x="344.72" y="155.90" width="0.85" height="4.0" fill="#ddc69a"/>
<rect x="354.21" y="151.20" width="1.948" height="4.0" fill="#fef5d5"/><rect x="354.36" y="151.20" width="0.85" height="4.0" fill="#e4dcbf"/>
<rect x="354.21" y="155.90" width="1.948" height="4.0" fill="#fdeec7"/><rect x="354.36" y="155.90" width="0.85" height="4.0" fill="#ded1af"/>
<rect x="356.14" y="151.20" width="1.948" height="4.0" fill="#fef2d0"/><rect x="356.29" y="151.20" width="0.85" height="4.0" fill="#e4d9bb"/>
<rect x="356.14" y="155.90" width="1.948" height="4.0" fill="#fce2b1"/><rect x="356.29" y="155.90" width="0.85" height="4.0" fill="#ddc69b"/>
<rect x="358.06" y="151.20" width="1.948" height="4.0" fill="#fef6d6"/><rect x="358.21" y="151.20" width="0.85" height="4.0" fill="#e4ddc0"/>
<rect x="358.06" y="155.90" width="1.948" height="4.0" fill="#fdecc4"/><rect x="358.21" y="155.90" width="0.85" height="4.0" fill="#decfac"/>
<rect x="361.92" y="151.20" width="1.948" height="4.0" fill="#fef6d5"/><rect x="362.07" y="151.20" width="0.85" height="4.0" fill="#e4ddbf"/>
<rect x="361.92" y="155.90" width="1.948" height="4.0" fill="#fce3b2"/><rect x="362.07" y="155.90" width="0.85" height="4.0" fill="#ddc79c"/>
<rect x="367.70" y="151.20" width="1.948" height="4.0" fill="#fdedc5"/><rect x="367.85" y="151.20" width="0.85" height="4.0" fill="#e3d5b1"/>
<rect x="367.70" y="155.90" width="1.948" height="4.0" fill="#fbd4a1"/><rect x="367.85" y="155.90" width="0.85" height="4.0" fill="#dcba8d"/>
<rect x="371.56" y="151.20" width="1.948" height="4.0" fill="#fef1cd"/><rect x="371.71" y="151.20" width="0.85" height="4.0" fill="#e4d8b8"/>
<rect x="371.56" y="155.90" width="1.948" height="4.0" fill="#fdeec8"/><rect x="371.71" y="155.90" width="0.85" height="4.0" fill="#ded1b0"/>
<rect x="379.27" y="151.20" width="1.948" height="4.0" fill="#fef3d0"/><rect x="379.42" y="151.20" width="0.85" height="4.0" fill="#e4dabb"/>
<rect x="379.27" y="155.90" width="1.948" height="4.0" fill="#fdefca"/><rect x="379.42" y="155.90" width="0.85" height="4.0" fill="#ded2b1"/>
<rect x="383.13" y="151.20" width="1.948" height="4.0" fill="#fdefc9"/><rect x="383.28" y="151.20" width="0.85" height="4.0" fill="#e3d7b4"/>
<rect x="383.13" y="155.90" width="1.948" height="4.0" fill="#ef986c"/><rect x="383.28" y="155.90" width="0.85" height="4.0" fill="#d2855f"/>
<rect x="385.06" y="151.20" width="1.948" height="4.0" fill="#fde5b6"/><rect x="385.21" y="151.20" width="0.85" height="4.0" fill="#e3cea3"/>
<rect x="385.06" y="155.90" width="1.948" height="4.0" fill="#ea8a66"/><rect x="385.21" y="155.90" width="0.85" height="4.0" fill="#cd7959"/>
<rect x="386.98" y="151.20" width="1.948" height="4.0" fill="#fef2cf"/><rect x="387.13" y="151.20" width="0.85" height="4.0" fill="#e4d9ba"/>
<rect x="386.98" y="155.90" width="1.948" height="4.0" fill="#ef986c"/><rect x="387.13" y="155.90" width="0.85" height="4.0" fill="#d2855f"/>
<rect x="388.91" y="151.20" width="1.948" height="4.0" fill="#fdeac0"/><rect x="389.06" y="151.20" width="0.85" height="4.0" fill="#e3d2ac"/>
<rect x="388.91" y="155.90" width="1.948" height="4.0" fill="#f4a573"/><rect x="389.06" y="155.90" width="0.85" height="4.0" fill="#d69165"/>
<rect x="394.70" y="151.20" width="1.948" height="4.0" fill="#fef6d6"/><rect x="394.85" y="151.20" width="0.85" height="4.0" fill="#e4ddc0"/>
<rect x="394.70" y="155.90" width="1.948" height="4.0" fill="#fef5d3"/><rect x="394.85" y="155.90" width="0.85" height="4.0" fill="#dfd7b9"/>
<rect x="396.62" y="151.20" width="1.948" height="4.0" fill="#fdf0cb"/><rect x="396.77" y="151.20" width="0.85" height="4.0" fill="#e3d8b6"/>
<rect x="396.62" y="155.90" width="1.948" height="4.0" fill="#fce2b1"/><rect x="396.77" y="155.90" width="0.85" height="4.0" fill="#ddc69b"/>
<rect x="398.55" y="151.20" width="1.948" height="4.0" fill="#fde7bb"/><rect x="398.70" y="151.20" width="0.85" height="4.0" fill="#e3cfa8"/>
<rect x="398.55" y="155.90" width="1.948" height="4.0" fill="#fef5d5"/><rect x="398.70" y="155.90" width="0.85" height="4.0" fill="#dfd7bb"/>
<rect x="410.12" y="151.20" width="1.948" height="4.0" fill="#fbd6a2"/><rect x="410.27" y="151.20" width="0.85" height="4.0" fill="#e1c091"/>
<rect x="410.12" y="155.90" width="1.948" height="4.0" fill="#e17058"/><rect x="410.27" y="155.90" width="0.85" height="4.0" fill="#c6624d"/>
<rect x="412.05" y="151.20" width="1.948" height="4.0" fill="#fef5d4"/><rect x="412.20" y="151.20" width="0.85" height="4.0" fill="#e4dcbe"/>
<rect x="412.05" y="155.90" width="1.948" height="4.0" fill="#fdefc9"/><rect x="412.20" y="155.90" width="0.85" height="4.0" fill="#ded2b0"/>
<rect x="415.90" y="151.20" width="1.948" height="4.0" fill="#fdeac0"/><rect x="416.05" y="151.20" width="0.85" height="4.0" fill="#e3d2ac"/>
<rect x="415.90" y="155.90" width="1.948" height="4.0" fill="#fef5d5"/><rect x="416.05" y="155.90" width="0.85" height="4.0" fill="#dfd7bb"/>
<rect x="419.76" y="151.20" width="1.948" height="4.0" fill="#fef3d1"/><rect x="419.91" y="151.20" width="0.85" height="4.0" fill="#e4dabc"/>
<rect x="419.76" y="155.90" width="1.948" height="4.0" fill="#fef3d0"/><rect x="419.91" y="155.90" width="0.85" height="4.0" fill="#dfd5b7"/>
<rect x="421.69" y="151.20" width="1.948" height="4.0" fill="#fef6d6"/><rect x="421.84" y="151.20" width="0.85" height="4.0" fill="#e4ddc0"/>
<rect x="421.69" y="155.90" width="1.948" height="4.0" fill="#fef3d1"/><rect x="421.84" y="155.90" width="0.85" height="4.0" fill="#dfd5b7"/>
<rect x="423.62" y="151.20" width="1.948" height="4.0" fill="#fdeec8"/><rect x="423.77" y="151.20" width="0.85" height="4.0" fill="#e3d6b4"/>
<rect x="423.62" y="155.90" width="1.948" height="4.0" fill="#f6b583"/><rect x="423.77" y="155.90" width="0.85" height="4.0" fill="#d89f73"/>
<rect x="425.54" y="151.20" width="1.948" height="4.0" fill="#f7bd8b"/><rect x="425.69" y="151.20" width="0.85" height="4.0" fill="#deaa7d"/>
<rect x="425.54" y="155.90" width="1.948" height="4.0" fill="#e17058"/><rect x="425.69" y="155.90" width="0.85" height="4.0" fill="#c6624d"/>
<rect x="427.47" y="151.20" width="1.948" height="4.0" fill="#face9a"/><rect x="427.62" y="151.20" width="0.85" height="4.0" fill="#e1b98a"/>
<rect x="427.47" y="155.90" width="1.948" height="4.0" fill="#f4a573"/><rect x="427.62" y="155.90" width="0.85" height="4.0" fill="#d69165"/>
<rect x="429.40" y="151.20" width="1.948" height="4.0" fill="#fef1cd"/><rect x="429.55" y="151.20" width="0.85" height="4.0" fill="#e4d8b8"/>
<rect x="429.40" y="155.90" width="1.948" height="4.0" fill="#f6b583"/><rect x="429.55" y="155.90" width="0.85" height="4.0" fill="#d89f73"/>
<rect x="431.33" y="151.20" width="1.948" height="4.0" fill="#f6b583"/><rect x="431.48" y="151.20" width="0.85" height="4.0" fill="#dda275"/>
<rect x="431.33" y="155.90" width="1.948" height="4.0" fill="#dc6252"/><rect x="431.48" y="155.90" width="0.85" height="4.0" fill="#c15648"/>
<rect x="435.18" y="151.20" width="1.948" height="4.0" fill="#fce3b3"/><rect x="435.33" y="151.20" width="0.85" height="4.0" fill="#e2cca1"/>
<rect x="435.18" y="155.90" width="1.948" height="4.0" fill="#fef6d6"/><rect x="435.33" y="155.90" width="0.85" height="4.0" fill="#dfd8bc"/>
<rect x="437.11" y="151.20" width="1.948" height="4.0" fill="#fef6d5"/><rect x="437.26" y="151.20" width="0.85" height="4.0" fill="#e4ddbf"/>
<rect x="437.11" y="155.90" width="1.948" height="4.0" fill="#fef6d6"/><rect x="437.26" y="155.90" width="0.85" height="4.0" fill="#dfd8bc"/>
<rect x="439.04" y="151.20" width="1.948" height="4.0" fill="#f9c692"/><rect x="439.19" y="151.20" width="0.85" height="4.0" fill="#e0b283"/>
<rect x="439.04" y="155.90" width="1.948" height="4.0" fill="#e67d5f"/><rect x="439.19" y="155.90" width="0.85" height="4.0" fill="#ca6e53"/>
<rect x="444.82" y="151.20" width="1.948" height="4.0" fill="#fde6b9"/><rect x="444.97" y="151.20" width="0.85" height="4.0" fill="#e3cfa6"/>
<rect x="444.82" y="155.90" width="1.948" height="4.0" fill="#fce0ad"/><rect x="444.97" y="155.90" width="0.85" height="4.0" fill="#ddc598"/>
<rect x="446.75" y="151.20" width="1.948" height="4.0" fill="#fef6d5"/><rect x="446.90" y="151.20" width="0.85" height="4.0" fill="#e4ddbf"/>
<rect x="446.75" y="155.90" width="1.948" height="4.0" fill="#f6b583"/><rect x="446.90" y="155.90" width="0.85" height="4.0" fill="#d89f73"/>
<rect x="448.68" y="151.20" width="1.948" height="4.0" fill="#fde6b9"/><rect x="448.83" y="151.20" width="0.85" height="4.0" fill="#e3cfa6"/>
<rect x="448.68" y="155.90" width="1.948" height="4.0" fill="#f6b583"/><rect x="448.83" y="155.90" width="0.85" height="4.0" fill="#d89f73"/>
<rect x="450.61" y="151.20" width="1.948" height="4.0" fill="#fdefc9"/><rect x="450.76" y="151.20" width="0.85" height="4.0" fill="#e3d7b4"/>
<rect x="450.61" y="155.90" width="1.948" height="4.0" fill="#f7bd8b"/><rect x="450.76" y="155.90" width="0.85" height="4.0" fill="#d9a67a"/>
<rect x="452.54" y="151.20" width="1.948" height="4.0" fill="#fdefca"/><rect x="452.69" y="151.20" width="0.85" height="4.0" fill="#e3d7b5"/>
<rect x="452.54" y="155.90" width="1.948" height="4.0" fill="#fef1cc"/><rect x="452.69" y="155.90" width="0.85" height="4.0" fill="#dfd4b3"/>
<rect x="454.46" y="151.20" width="1.948" height="4.0" fill="#fef6d6"/><rect x="454.61" y="151.20" width="0.85" height="4.0" fill="#e4ddc0"/>
<rect x="454.46" y="155.90" width="1.948" height="4.0" fill="#fad09d"/><rect x="454.61" y="155.90" width="0.85" height="4.0" fill="#dcb78a"/>
<rect x="456.39" y="151.20" width="1.948" height="4.0" fill="#fef1cc"/><rect x="456.54" y="151.20" width="0.85" height="4.0" fill="#e4d8b7"/>
<rect x="456.39" y="155.90" width="1.948" height="4.0" fill="#fce1af"/><rect x="456.54" y="155.90" width="0.85" height="4.0" fill="#ddc69a"/>
<rect x="458.32" y="151.20" width="1.948" height="4.0" fill="#fef6d6"/><rect x="458.47" y="151.20" width="0.85" height="4.0" fill="#e4ddc0"/>
<rect x="458.32" y="155.90" width="1.948" height="4.0" fill="#fcdda9"/><rect x="458.47" y="155.90" width="0.85" height="4.0" fill="#ddc294"/>
<rect x="460.25" y="151.20" width="1.948" height="4.0" fill="#fde9be"/><rect x="460.40" y="151.20" width="0.85" height="4.0" fill="#e3d1ab"/>
<rect x="460.25" y="155.90" width="1.948" height="4.0" fill="#fdf0cb"/><rect x="460.40" y="155.90" width="0.85" height="4.0" fill="#ded3b2"/>
<rect x="469.89" y="151.20" width="1.948" height="4.0" fill="#fef6d6"/><rect x="470.04" y="151.20" width="0.85" height="4.0" fill="#e4ddc0"/>
<rect x="469.89" y="155.90" width="1.948" height="4.0" fill="#f6b583"/><rect x="470.04" y="155.90" width="0.85" height="4.0" fill="#d89f73"/>
<rect x="471.82" y="151.20" width="1.948" height="4.0" fill="#fef6d5"/><rect x="471.97" y="151.20" width="0.85" height="4.0" fill="#e4ddbf"/>
<rect x="471.82" y="155.90" width="1.948" height="4.0" fill="#fef6d6"/><rect x="471.97" y="155.90" width="0.85" height="4.0" fill="#dfd8bc"/>
<rect x="475.67" y="151.20" width="1.948" height="4.0" fill="#fef6d6"/><rect x="475.82" y="151.20" width="0.85" height="4.0" fill="#e4ddc0"/>
<rect x="475.67" y="155.90" width="1.948" height="4.0" fill="#fef3d1"/><rect x="475.82" y="155.90" width="0.85" height="4.0" fill="#dfd5b7"/>
<rect x="483.38" y="151.20" width="1.948" height="4.0" fill="#fef3d1"/><rect x="483.53" y="151.20" width="0.85" height="4.0" fill="#e4dabc"/>
<rect x="483.38" y="155.90" width="1.948" height="4.0" fill="#f6b583"/><rect x="483.53" y="155.90" width="0.85" height="4.0" fill="#d89f73"/>
<rect x="487.24" y="151.20" width="1.948" height="4.0" fill="#fef6d6"/><rect x="487.39" y="151.20" width="0.85" height="4.0" fill="#e4ddc0"/>
<rect x="487.24" y="155.90" width="1.948" height="4.0" fill="#fef4d3"/><rect x="487.39" y="155.90" width="0.85" height="4.0" fill="#dfd6b9"/>
<rect x="489.17" y="151.20" width="1.948" height="4.0" fill="#fdeec7"/><rect x="489.32" y="151.20" width="0.85" height="4.0" fill="#e3d6b3"/>
<rect x="489.17" y="155.90" width="1.948" height="4.0" fill="#fdedc5"/><rect x="489.32" y="155.90" width="0.85" height="4.0" fill="#ded0ad"/>
<rect x="496.88" y="151.20" width="1.948" height="4.0" fill="#fef6d6"/><rect x="497.03" y="151.20" width="0.85" height="4.0" fill="#e4ddc0"/>
<rect x="496.88" y="155.90" width="1.948" height="4.0" fill="#fce0ad"/><rect x="497.03" y="155.90" width="0.85" height="4.0" fill="#ddc598"/>
<rect x="504.59" y="151.20" width="1.948" height="4.0" fill="#fef5d4"/><rect x="504.74" y="151.20" width="0.85" height="4.0" fill="#e4dcbe"/>
<rect x="504.59" y="155.90" width="1.948" height="4.0" fill="#fdeec8"/><rect x="504.74" y="155.90" width="0.85" height="4.0" fill="#ded1b0"/>
<rect x="506.52" y="151.20" width="1.948" height="4.0" fill="#fdefca"/><rect x="506.67" y="151.20" width="0.85" height="4.0" fill="#e3d7b5"/>
<rect x="506.52" y="155.90" width="1.948" height="4.0" fill="#f9c995"/><rect x="506.67" y="155.90" width="0.85" height="4.0" fill="#dbb083"/>

<text x="306.8" y="42.3" font-size="5.7" text-anchor="start" font-weight="normal" font-style="normal" fill="#333" stroke="#333" stroke-width="0.16" transform="rotate(0.04 306.8 42.3)" >Legend</text>
<rect x="308.1" y="47.9" width="1.5" height="3.8" fill="#e26a60"/>
<text x="312.3" y="51.8" font-size="5.95" text-anchor="start" font-weight="normal" font-style="normal" fill="#333" stroke="#333" stroke-width="0.16" transform="rotate(0.04 312.3 51.8)" >Patient with CH mutation</text>
<rect x="307.9" y="54.5" width="1.6" height="4.0" fill="#1d5870"/>
<text x="312.3" y="58.2" font-size="5.95" text-anchor="start" font-weight="normal" font-style="normal" fill="#333" stroke="#333" stroke-width="0.16" transform="rotate(0.04 312.3 58.2)" >Patient with no CH mutation</text>
<defs><linearGradient id="lg" x1="0" x2="1" y1="0" y2="0"><stop offset="0" stop-color="#fde0c4"/><stop offset="0.5" stop-color="#f5b292"/><stop offset="1" stop-color="#e2624f"/></linearGradient></defs>
<rect x="307.5" y="61.9" width="72" height="7.8" fill="url(#lg)" stroke="#a85a48" stroke-width="0.6"/>
<rect x="307.5" y="72.8" width="72" height="7.8" fill="url(#lg)" stroke="#a85a48" stroke-width="0.6"/>
<text x="343.5" y="67.9" font-size="5.95" text-anchor="middle" font-weight="normal" font-style="normal" fill="#4a3530" stroke="#4a3530" stroke-width="0.16" transform="rotate(0.04 343.5 67.9)" >IL-6 [pg/mL]</text>
<text x="343.5" y="78.8" font-size="5.95" text-anchor="middle" font-weight="normal" font-style="normal" fill="#4a3530" stroke="#4a3530" stroke-width="0.16" transform="rotate(0.04 343.5 78.8)" >CRP [mg/L]</text>
<text x="305.5" y="67.9" font-size="5.9" text-anchor="end" font-weight="normal" font-style="normal" fill="#333" stroke="#333" stroke-width="0.16" transform="rotate(0.04 305.5 67.9)" >0</text>
<text x="305.5" y="78.8" font-size="5.9" text-anchor="end" font-weight="normal" font-style="normal" fill="#333" stroke="#333" stroke-width="0.16" transform="rotate(0.04 305.5 78.8)" >0</text>
<text x="381.2" y="67.9" font-size="5.9" text-anchor="start" font-weight="normal" font-style="normal" fill="#333" stroke="#333" stroke-width="0.16" transform="rotate(0.04 381.2 67.9)" >500</text>
<text x="381.2" y="78.8" font-size="5.9" text-anchor="start" font-weight="normal" font-style="normal" fill="#333" stroke="#333" stroke-width="0.16" transform="rotate(0.04 381.2 78.8)" >400</text>

<line x1="74.9" y1="177.2" x2="74.9" y2="281.6" stroke="#2a2a2a" stroke-width="1.1"/><line x1="74.4" y1="281.1" x2="223" y2="281.1" stroke="#2a2a2a" stroke-width="1.1"/><line x1="72.6" y1="179.0" x2="74.9" y2="179.0" stroke="#2a2a2a" stroke-width="0.8"/><text x="69.1" y="181.0" font-size="5.9" text-anchor="end" font-weight="normal" font-style="normal" fill="#333" stroke="#333" stroke-width="0.16" transform="rotate(0.04 69.1 181.0)" >1.00</text><line x1="72.6" y1="204.6" x2="74.9" y2="204.6" stroke="#2a2a2a" stroke-width="0.8"/><text x="69.1" y="206.575" font-size="5.9" text-anchor="end" font-weight="normal" font-style="normal" fill="#333" stroke="#333" stroke-width="0.16" transform="rotate(0.04 69.1 206.575)" >0.75</text><line x1="72.6" y1="230.2" x2="74.9" y2="230.2" stroke="#2a2a2a" stroke-width="0.8"/><text x="69.1" y="232.15" font-size="5.9" text-anchor="end" font-weight="normal" font-style="normal" fill="#333" stroke="#333" stroke-width="0.16" transform="rotate(0.04 69.1 232.15)" >0.50</text><line x1="72.6" y1="255.7" x2="74.9" y2="255.7" stroke="#2a2a2a" stroke-width="0.8"/><text x="69.1" y="257.725" font-size="5.9" text-anchor="end" font-weight="normal" font-style="normal" fill="#333" stroke="#333" stroke-width="0.16" transform="rotate(0.04 69.1 257.725)" >0.25</text><line x1="72.6" y1="281.3" x2="74.9" y2="281.3" stroke="#2a2a2a" stroke-width="0.8"/><text x="69.1" y="283.3" font-size="5.9" text-anchor="end" font-weight="normal" font-style="normal" fill="#333" stroke="#333" stroke-width="0.16" transform="rotate(0.04 69.1 283.3)" >0.00</text><rect x="149.2" y="230.2" width="57.6" height="51.0" fill="#e08a80"/><path d="M112.8 186.3 V183.9 H178.5 V186.3" fill="none" stroke="#444" stroke-width="0.7"/><text x="134.2" y="181.2" font-size="6.0" text-anchor="start" font-weight="normal" font-style="normal" fill="#333" stroke="#333" stroke-width="0.16" transform="rotate(0.04 134.2 181.2)" ><tspan font-style="italic">P</tspan> = .007</text><text transform="translate(52.3,227.6) rotate(-89.96)" font-size="7.1" font-weight="bold" text-anchor="middle" fill="#333" textLength="88" lengthAdjust="spacingAndGlyphs">Acute respiratory distress syndrome</text><rect x="98.2" y="287.8" width="9.2" height="4" fill="#b9d5ee"/><text x="110.4" y="291.8" font-size="5.9" text-anchor="start" font-weight="normal" font-style="normal" fill="#333" stroke="#333" stroke-width="0.16" transform="rotate(0.04 110.4 291.8)" ><tspan font-style="italic">TET2</tspan>mt CH</text><rect x="146.2" y="287.8" width="8.5" height="4" fill="#e08a80"/><text x="157.7" y="291.8" font-size="6.0" text-anchor="start" font-weight="normal" font-style="normal" fill="#333" stroke="#333" stroke-width="0.16" transform="rotate(0.04 157.7 291.8)" ><tspan font-style="italic">DNMT3A</tspan>mt CH</text>
<line x1="313.65" y1="176.3" x2="313.65" y2="281.5" stroke="#2a2a2a" stroke-width="1.1"/><line x1="313.1" y1="281.0" x2="464.3" y2="281.0" stroke="#2a2a2a" stroke-width="1.1"/><line x1="311.4" y1="178.0" x2="313.65" y2="178.0" stroke="#2a2a2a" stroke-width="0.8"/><text x="308.1" y="180.15" font-size="6.3" text-anchor="end" font-weight="normal" font-style="normal" fill="#333" stroke="#333" stroke-width="0.16" transform="rotate(0.04 308.1 180.15)" >500</text><line x1="311.4" y1="197.7" x2="313.65" y2="197.7" stroke="#2a2a2a" stroke-width="0.8"/><text x="308.1" y="199.87000000000003" font-size="6.3" text-anchor="end" font-weight="normal" font-style="normal" fill="#333" stroke="#333" stroke-width="0.16" transform="rotate(0.04 308.1 199.87000000000003)" >400</text><line x1="311.4" y1="217.4" x2="313.65" y2="217.4" stroke="#2a2a2a" stroke-width="0.8"/><text x="308.1" y="219.59" font-size="6.3" text-anchor="end" font-weight="normal" font-style="normal" fill="#333" stroke="#333" stroke-width="0.16" transform="rotate(0.04 308.1 219.59)" >300</text><line x1="311.4" y1="237.2" x2="313.65" y2="237.2" stroke="#2a2a2a" stroke-width="0.8"/><text x="308.1" y="239.31000000000003" font-size="6.3" text-anchor="end" font-weight="normal" font-style="normal" fill="#333" stroke="#333" stroke-width="0.16" transform="rotate(0.04 308.1 239.31000000000003)" >200</text><line x1="311.4" y1="256.9" x2="313.65" y2="256.9" stroke="#2a2a2a" stroke-width="0.8"/><text x="308.1" y="259.03" font-size="6.3" text-anchor="end" font-weight="normal" font-style="normal" fill="#333" stroke="#333" stroke-width="0.16" transform="rotate(0.04 308.1 259.03)" >100</text><line x1="311.4" y1="276.6" x2="313.65" y2="276.6" stroke="#2a2a2a" stroke-width="0.8"/><text x="308.1" y="278.75" font-size="6.3" text-anchor="end" font-weight="normal" font-style="normal" fill="#333" stroke="#333" stroke-width="0.16" transform="rotate(0.04 308.1 278.75)" >0</text><rect x="329.2" y="221.4" width="50.9" height="33.4" fill="#b7d4f0"/><line x1="329.2" y1="242.2" x2="380.1" y2="242.2" stroke="#3f9ccc" stroke-width="1.1"/><path d="M354.6 221.4 V203.4 M337 203.4 H371.5 M354.6 254.8 V276.3 M337 276.3 H371.5" stroke="#4aa3d0" stroke-width="0.9" fill="none"/><rect x="398.2" y="189.2" width="51" height="39.3" fill="#e08a82"/><line x1="398.2" y1="222.5" x2="449.2" y2="222.5" stroke="#c1282c" stroke-width="1.2"/><path d="M423.7 228.5 V250 M406.2 250 H440.8" stroke="#cf6a6e" stroke-width="0.9" fill="none"/><path d="M353.6 185.4 V182.3 H419.6 V185.4" fill="none" stroke="#444" stroke-width="0.7"/><text x="375" y="180.4" font-size="6.0" text-anchor="start" font-weight="normal" font-style="normal" fill="#333" stroke="#333" stroke-width="0.16" transform="rotate(0.04 375 180.4)" ><tspan font-style="italic">P</tspan> = .014</text><text transform="translate(291.8,228.6) rotate(-89.96)" font-size="7.1" font-weight="bold" text-anchor="middle" fill="#333" textLength="39.6" lengthAdjust="spacingAndGlyphs">MCP-1 [pg/mL]</text><rect x="338.5" y="287.8" width="8.3" height="4" fill="#b7d4f0"/><text x="349.8" y="291.8" font-size="5.9" text-anchor="start" font-weight="normal" font-style="normal" fill="#333" stroke="#333" stroke-width="0.16" transform="rotate(0.04 349.8 291.8)" ><tspan font-style="italic">TET2</tspan>mt CH</text><rect x="386.8" y="287.8" width="8" height="4" fill="#e08a80"/><text x="397.8" y="291.8" font-size="6.0" text-anchor="start" font-weight="normal" font-style="normal" fill="#333" stroke="#333" stroke-width="0.16" transform="rotate(0.04 397.8 291.8)" ><tspan font-style="italic">DNMT3A</tspan>mt CH</text>
<line x1="75" y1="310.3" x2="75" y2="404" stroke="#2a2a2a" stroke-width="1.2"/><line x1="74.4" y1="403.5" x2="245.6" y2="403.5" stroke="#2a2a2a" stroke-width="1.2"/><line x1="72.4" y1="313.1" x2="75" y2="313.1" stroke="#2a2a2a" stroke-width="0.8"/><text x="68.8" y="315.0" font-size="5.6" text-anchor="end" font-weight="normal" font-style="normal" fill="#333" stroke="#333" stroke-width="0.16" transform="rotate(0.04 68.8 315.0)" >1.00</text><line x1="72.4" y1="334.9" x2="75" y2="334.9" stroke="#2a2a2a" stroke-width="0.8"/><text x="68.8" y="336.825" font-size="5.6" text-anchor="end" font-weight="normal" font-style="normal" fill="#333" stroke="#333" stroke-width="0.16" transform="rotate(0.04 68.8 336.825)" >0.75</text><line x1="72.4" y1="356.8" x2="75" y2="356.8" stroke="#2a2a2a" stroke-width="0.8"/><text x="68.8" y="358.65" font-size="5.6" text-anchor="end" font-weight="normal" font-style="normal" fill="#333" stroke="#333" stroke-width="0.16" transform="rotate(0.04 68.8 358.65)" >0.50</text><line x1="72.4" y1="378.6" x2="75" y2="378.6" stroke="#2a2a2a" stroke-width="0.8"/><text x="68.8" y="380.47499999999997" font-size="5.6" text-anchor="end" font-weight="normal" font-style="normal" fill="#333" stroke="#333" stroke-width="0.16" transform="rotate(0.04 68.8 380.47499999999997)" >0.25</text><line x1="72.4" y1="400.4" x2="75" y2="400.4" stroke="#2a2a2a" stroke-width="0.8"/><text x="68.8" y="402.29999999999995" font-size="5.6" text-anchor="end" font-weight="normal" font-style="normal" fill="#333" stroke="#333" stroke-width="0.16" transform="rotate(0.04 68.8 402.29999999999995)" >0.00</text><line x1="78.1" y1="403.5" x2="78.1" y2="406.2" stroke="#2a2a2a" stroke-width="0.8"/><text x="78.1" y="415.3" font-size="5.6" text-anchor="middle" font-weight="normal" font-style="normal" fill="#333" stroke="#333" stroke-width="0.16" transform="rotate(0.04 78.1 415.3)" >0</text><line x1="132.9" y1="403.5" x2="132.9" y2="406.2" stroke="#2a2a2a" stroke-width="0.8"/><text x="132.87" y="415.3" font-size="5.6" text-anchor="middle" font-weight="normal" font-style="normal" fill="#333" stroke="#333" stroke-width="0.16" transform="rotate(0.04 132.87 415.3)" >1</text><line x1="187.6" y1="403.5" x2="187.6" y2="406.2" stroke="#2a2a2a" stroke-width="0.8"/><text x="187.64" y="415.3" font-size="5.6" text-anchor="middle" font-weight="normal" font-style="normal" fill="#333" stroke="#333" stroke-width="0.16" transform="rotate(0.04 187.64 415.3)" >2</text><line x1="242.4" y1="403.5" x2="242.4" y2="406.2" stroke="#2a2a2a" stroke-width="0.8"/><text x="242.41" y="415.3" font-size="5.6" text-anchor="middle" font-weight="normal" font-style="normal" fill="#333" stroke="#333" stroke-width="0.16" transform="rotate(0.04 242.41 415.3)" >3</text><text transform="rotate(0.04 106 426)" x="106" y="426" font-size="8.0" font-weight="bold" fill="#333" textLength="110.3" lengthAdjust="spacingAndGlyphs">Follow-up after COVID-19 diagnosis in years</text><text x="78.1" y="436.4" font-size="5.7" text-anchor="middle" font-weight="normal" font-style="normal" fill="#333" stroke="#333" stroke-width="0.16" transform="rotate(0.04 78.1 436.4)" >171</text><text x="78.1" y="445.8" font-size="5.7" text-anchor="middle" font-weight="normal" font-style="normal" fill="#333" stroke="#333" stroke-width="0.16" transform="rotate(0.04 78.1 445.8)" >72</text><text x="132.87" y="436.4" font-size="5.7" text-anchor="middle" font-weight="normal" font-style="normal" fill="#333" stroke="#333" stroke-width="0.16" transform="rotate(0.04 132.87 436.4)" >140</text><text x="132.87" y="445.8" font-size="5.7" text-anchor="middle" font-weight="normal" font-style="normal" fill="#333" stroke="#333" stroke-width="0.16" transform="rotate(0.04 132.87 445.8)" >42</text><text x="187.64" y="436.4" font-size="5.7" text-anchor="middle" font-weight="normal" font-style="normal" fill="#333" stroke="#333" stroke-width="0.16" transform="rotate(0.04 187.64 436.4)" >116</text><text x="187.64" y="445.8" font-size="5.7" text-anchor="middle" font-weight="normal" font-style="normal" fill="#333" stroke="#333" stroke-width="0.16" transform="rotate(0.04 187.64 445.8)" >34</text><text x="242.41" y="436.4" font-size="5.7" text-anchor="middle" font-weight="normal" font-style="normal" fill="#333" stroke="#333" stroke-width="0.16" transform="rotate(0.04 242.41 436.4)" >0</text><text x="242.41" y="445.8" font-size="5.7" text-anchor="middle" font-weight="normal" font-style="normal" fill="#333" stroke="#333" stroke-width="0.16" transform="rotate(0.04 242.41 445.8)" >0</text><text transform="translate(52.2,357) rotate(-89.96)" font-size="7.1" font-weight="bold" text-anchor="middle" fill="#333" textLength="37" lengthAdjust="spacingAndGlyphs">Overall survival</text><polyline points="78.5,313.1 80.4,315.0 96.0,316.2 113.3,317.5 133.1,318.1 139.2,318.8 150.0,318.9 173.0,320.0 180.8,321.3 188.0,321.6 227.0,321.6" fill="none" stroke="#6e86ae" stroke-width="0.9"/><polyline points="78.5,313.1 81.3,313.1 81.3,322.3 83.0,322.3 83.0,325.8 92.5,325.8 92.5,327.5 97.7,327.5 97.7,329.3 127.0,329.3 127.0,331.2 159.6,331.2 159.6,333.7 224.0,333.7" fill="none" stroke="#f3c68e" stroke-width="0.9" stroke-dasharray="1.6,1"/><circle cx="133.1" cy="318.1" r="1.35" fill="#56698e"/><circle cx="188" cy="321.6" r="1.35" fill="#56698e"/><circle cx="133.1" cy="331.2" r="1.3" fill="#e6ab78"/><circle cx="188" cy="333.7" r="1.3" fill="#e6ab78"/><text x="134.5" y="314.8" font-size="5.7" text-anchor="middle" font-weight="normal" font-style="normal" fill="#333" stroke="#333" stroke-width="0.16" transform="rotate(0.04 134.5 314.8)" >94%</text><text x="188.4" y="319.5" font-size="5.7" text-anchor="middle" font-weight="normal" font-style="normal" fill="#333" stroke="#333" stroke-width="0.16" transform="rotate(0.04 188.4 319.5)" >90%</text><text x="134.5" y="338.8" font-size="5.7" text-anchor="middle" font-weight="normal" font-style="normal" fill="#333" stroke="#333" stroke-width="0.16" transform="rotate(0.04 134.5 338.8)" >79%</text><text x="188.6" y="342.1" font-size="5.7" text-anchor="middle" font-weight="normal" font-style="normal" fill="#333" stroke="#333" stroke-width="0.16" transform="rotate(0.04 188.6 342.1)" >75%</text><text x="79.9" y="381.5" font-size="6.0" text-anchor="start" font-weight="normal" font-style="normal" fill="#333" stroke="#333" stroke-width="0.16" transform="rotate(0.04 79.9 381.5)" >No CH versus CH</text><text x="79.9" y="388.6" font-size="5.85" text-anchor="start" font-weight="normal" font-style="normal" fill="#333" stroke="#333" stroke-width="0.16" transform="rotate(0.04 79.9 388.6)" >log-rank <tspan font-style="italic">P</tspan> &lt; .001</text><line x1="80.2" y1="398.1" x2="89.6" y2="398.1" stroke="#8aa4c8" stroke-width="0.9"/><text x="92.7" y="400" font-size="6.0" text-anchor="start" font-weight="normal" font-style="normal" fill="#333" stroke="#333" stroke-width="0.16" transform="rotate(0.04 92.7 400)" >No CH</text><line x1="116.2" y1="398" x2="124.2" y2="398" stroke="#f3c680" stroke-width="0.8" stroke-dasharray="1.6,1"/><text x="127.6" y="400" font-size="6.0" text-anchor="start" font-weight="normal" font-style="normal" fill="#333" stroke="#333" stroke-width="0.16" transform="rotate(0.04 127.6 400)" >CH</text>
<line x1="315.4" y1="310.0" x2="315.4" y2="398.8" stroke="#2a2a2a" stroke-width="1.2"/><line x1="314.8" y1="398.3" x2="486.2" y2="398.3" stroke="#2a2a2a" stroke-width="1.2"/><line x1="312.6" y1="313.1" x2="315.4" y2="313.1" stroke="#2a2a2a" stroke-width="0.8"/><text x="308.8" y="315.0" font-size="5.6" text-anchor="end" font-weight="normal" font-style="normal" fill="#333" stroke="#333" stroke-width="0.16" transform="rotate(0.04 308.8 315.0)" >1.00</text><line x1="312.6" y1="333.7" x2="315.4" y2="333.7" stroke="#2a2a2a" stroke-width="0.8"/><text x="308.8" y="335.575" font-size="5.6" text-anchor="end" font-weight="normal" font-style="normal" fill="#333" stroke="#333" stroke-width="0.16" transform="rotate(0.04 308.8 335.575)" >0.75</text><line x1="312.6" y1="354.2" x2="315.4" y2="354.2" stroke="#2a2a2a" stroke-width="0.8"/><text x="308.8" y="356.15" font-size="5.6" text-anchor="end" font-weight="normal" font-style="normal" fill="#333" stroke="#333" stroke-width="0.16" transform="rotate(0.04 308.8 356.15)" >0.50</text><line x1="312.6" y1="374.8" x2="315.4" y2="374.8" stroke="#2a2a2a" stroke-width="0.8"/><text x="308.8" y="376.72499999999997" font-size="5.6" text-anchor="end" font-weight="normal" font-style="normal" fill="#333" stroke="#333" stroke-width="0.16" transform="rotate(0.04 308.8 376.72499999999997)" >0.25</text><line x1="312.6" y1="395.4" x2="315.4" y2="395.4" stroke="#2a2a2a" stroke-width="0.8"/><text x="308.8" y="397.29999999999995" font-size="5.6" text-anchor="end" font-weight="normal" font-style="normal" fill="#333" stroke="#333" stroke-width="0.16" transform="rotate(0.04 308.8 397.29999999999995)" >0.00</text><line x1="318.2" y1="398.3" x2="318.2" y2="401.3" stroke="#2a2a2a" stroke-width="0.8"/><text x="318.2" y="410" font-size="5.6" text-anchor="middle" font-weight="normal" font-style="normal" fill="#333" stroke="#333" stroke-width="0.16" transform="rotate(0.04 318.2 410)" >0</text><line x1="372.9" y1="398.3" x2="372.9" y2="401.3" stroke="#2a2a2a" stroke-width="0.8"/><text x="372.93" y="410" font-size="5.6" text-anchor="middle" font-weight="normal" font-style="normal" fill="#333" stroke="#333" stroke-width="0.16" transform="rotate(0.04 372.93 410)" >1</text><line x1="427.7" y1="398.3" x2="427.7" y2="401.3" stroke="#2a2a2a" stroke-width="0.8"/><text x="427.65999999999997" y="410" font-size="5.6" text-anchor="middle" font-weight="normal" font-style="normal" fill="#333" stroke="#333" stroke-width="0.16" transform="rotate(0.04 427.65999999999997 410)" >2</text><line x1="482.4" y1="398.3" x2="482.4" y2="401.3" stroke="#2a2a2a" stroke-width="0.8"/><text x="482.39" y="410" font-size="5.6" text-anchor="middle" font-weight="normal" font-style="normal" fill="#333" stroke="#333" stroke-width="0.16" transform="rotate(0.04 482.39 410)" >3</text><text transform="rotate(0.04 342.7 421.3)" x="342.7" y="421.3" font-size="8.0" font-weight="bold" fill="#333" textLength="110.3" lengthAdjust="spacingAndGlyphs">Follow-up after COVID-19 diagnosis in years</text><text x="318.2" y="431.7" font-size="5.7" text-anchor="middle" font-weight="normal" font-style="normal" fill="#333" stroke="#333" stroke-width="0.16" transform="rotate(0.04 318.2 431.7)" >171</text><text x="318.2" y="441.3" font-size="5.7" text-anchor="middle" font-weight="normal" font-style="normal" fill="#333" stroke="#333" stroke-width="0.16" transform="rotate(0.04 318.2 441.3)" >24</text><text x="318.2" y="450.6" font-size="5.7" text-anchor="middle" font-weight="normal" font-style="normal" fill="#333" stroke="#333" stroke-width="0.16" transform="rotate(0.04 318.2 450.6)" >23</text><text x="372.93" y="431.7" font-size="5.7" text-anchor="middle" font-weight="normal" font-style="normal" fill="#333" stroke="#333" stroke-width="0.16" transform="rotate(0.04 372.93 431.7)" >140</text><text x="372.93" y="441.3" font-size="5.7" text-anchor="middle" font-weight="normal" font-style="normal" fill="#333" stroke="#333" stroke-width="0.16" transform="rotate(0.04 372.93 441.3)" >11</text><text x="372.93" y="450.6" font-size="5.7" text-anchor="middle" font-weight="normal" font-style="normal" fill="#333" stroke="#333" stroke-width="0.16" transform="rotate(0.04 372.93 450.6)" >11</text><text x="427.65999999999997" y="431.7" font-size="5.7" text-anchor="middle" font-weight="normal" font-style="normal" fill="#333" stroke="#333" stroke-width="0.16" transform="rotate(0.04 427.65999999999997 431.7)" >116</text><text x="427.65999999999997" y="441.3" font-size="5.7" text-anchor="middle" font-weight="normal" font-style="normal" fill="#333" stroke="#333" stroke-width="0.16" transform="rotate(0.04 427.65999999999997 441.3)" >8</text><text x="427.65999999999997" y="450.6" font-size="5.7" text-anchor="middle" font-weight="normal" font-style="normal" fill="#333" stroke="#333" stroke-width="0.16" transform="rotate(0.04 427.65999999999997 450.6)" >7</text><text x="482.39" y="431.7" font-size="5.7" text-anchor="middle" font-weight="normal" font-style="normal" fill="#333" stroke="#333" stroke-width="0.16" transform="rotate(0.04 482.39 431.7)" >0</text><text x="482.39" y="441.3" font-size="5.7" text-anchor="middle" font-weight="normal" font-style="normal" fill="#333" stroke="#333" stroke-width="0.16" transform="rotate(0.04 482.39 441.3)" >0</text><text x="482.39" y="450.6" font-size="5.7" text-anchor="middle" font-weight="normal" font-style="normal" fill="#333" stroke="#333" stroke-width="0.16" transform="rotate(0.04 482.39 450.6)" >0</text><text transform="translate(292.2,354.5) rotate(-89.96)" font-size="7.1" font-weight="bold" text-anchor="middle" fill="#333" textLength="37" lengthAdjust="spacingAndGlyphs">Overall survival</text><polyline points="319.2,312.7 320.0,313.7 340.0,315.0 373.5,318.1 400.0,318.5 419.2,320.0 428.5,321.0 467.3,321.0" fill="none" stroke="#6e86ae" stroke-width="0.9"/><polyline points="319.2,312.7 321.7,312.7 321.7,324.2 467.3,324.2" fill="none" stroke="#8cb6d2" stroke-width="0.8" stroke-dasharray="2.2,1.4"/><polyline points="319.2,312.7 321.5,312.7 321.5,331.1 333.3,331.1 333.3,339.4 365.8,339.4 365.8,343.3 378.2,343.3 378.2,348.4 467.3,348.4" fill="none" stroke="#d63e54" stroke-width="1.0" stroke-dasharray="1,0.9"/><circle cx="373.5" cy="318.1" r="1.2" fill="#4f6690"/><circle cx="428.5" cy="321" r="1.2" fill="#4f6690"/><circle cx="373.5" cy="324.2" r="1.2" fill="#fff" stroke="#5b7590" stroke-width="0.7"/><circle cx="428.5" cy="324.2" r="1.2" fill="#fff" stroke="#5b7590" stroke-width="0.7"/><circle cx="373.5" cy="343.3" r="1.4" fill="#eaa0aa" stroke="#d25468" stroke-width="0.6"/><circle cx="428.5" cy="348.4" r="1.3" fill="#eaa0aa" stroke="#d25468" stroke-width="0.6"/><text x="373.2" y="315.1" font-size="5.7" text-anchor="middle" font-weight="normal" font-style="normal" fill="#333" stroke="#333" stroke-width="0.16" transform="rotate(0.04 373.2 315.1)" >94%</text><text x="428.8" y="318.0" font-size="5.7" text-anchor="middle" font-weight="normal" font-style="normal" fill="#333" stroke="#333" stroke-width="0.16" transform="rotate(0.04 428.8 318.0)" >90%</text><text x="373.2" y="331.0" font-size="5.7" text-anchor="middle" font-weight="normal" font-style="normal" fill="#333" stroke="#333" stroke-width="0.16" transform="rotate(0.04 373.2 331.0)" >84%</text><text x="428.8" y="331.0" font-size="5.7" text-anchor="middle" font-weight="normal" font-style="normal" fill="#333" stroke="#333" stroke-width="0.16" transform="rotate(0.04 428.8 331.0)" >84%</text><text x="373.1" y="349.7" font-size="5.7" text-anchor="middle" font-weight="normal" font-style="normal" fill="#333" stroke="#333" stroke-width="0.16" transform="rotate(0.04 373.1 349.7)" >63%</text><text x="428.8" y="354.1" font-size="5.7" text-anchor="middle" font-weight="normal" font-style="normal" fill="#333" stroke="#333" stroke-width="0.16" transform="rotate(0.04 428.8 354.1)" >57%</text><text x="319.8" y="377.3" font-size="6.0" text-anchor="start" font-weight="normal" font-style="normal" fill="#333" stroke="#333" stroke-width="0.16" transform="rotate(0.04 319.8 377.3)" >No CH versus <tspan font-style="italic">DNMT3A</tspan>mt CH</text><text x="319.8" y="384.4" font-size="5.85" text-anchor="start" font-weight="normal" font-style="normal" fill="#333" stroke="#333" stroke-width="0.16" transform="rotate(0.04 319.8 384.4)" >log-rank <tspan font-style="italic">P</tspan> &lt; .001</text><line x1="319.6" y1="392.5" x2="328" y2="392.5" stroke="#8aa4c8" stroke-width="0.9"/><text x="330.8" y="395" font-size="6.0" text-anchor="start" font-weight="normal" font-style="normal" fill="#333" stroke="#333" stroke-width="0.16" transform="rotate(0.04 330.8 395)" >No CH</text><line x1="355.8" y1="393" x2="363.5" y2="393" stroke="#9cc8e4" stroke-width="0.8" stroke-dasharray="2,1.2"/><text x="366.3" y="395" font-size="6.0" text-anchor="start" font-weight="normal" font-style="normal" fill="#333" stroke="#333" stroke-width="0.16" transform="rotate(0.04 366.3 395)" ><tspan font-style="italic">TET2</tspan>mt CH</text><line x1="401.6" y1="393" x2="410.7" y2="393" stroke="#e87a84" stroke-width="0.8" stroke-dasharray="0.9,0.9"/><text x="413.7" y="395" font-size="6.0" text-anchor="start" font-weight="normal" font-style="normal" fill="#333" stroke="#333" stroke-width="0.16" transform="rotate(0.04 413.7 395)" ><tspan font-style="italic">DNMT3A</tspan>mt CH</text>
<text x="175.8" y="473.7" font-size="7.95" text-anchor="start" font-weight="normal" font-style="normal" fill="#333" stroke="#333" stroke-width="0.16" transform="rotate(0.04 175.8 473.7)" >Association between <tspan font-style="italic">DNMT3A</tspan>mt CH and all-cause mortality</text><line x1="253.2" y1="478.5" x2="253.2" y2="580" stroke="#555" stroke-width="0.9" stroke-dasharray="1,1"/><line x1="243.1" y1="583.3" x2="358.8" y2="583.3" stroke="#2a2a2a" stroke-width="1.1"/><line x1="245.4" y1="583.3" x2="245.4" y2="585.6" stroke="#2a2a2a" stroke-width="0.7"/><text x="245.4" y="594.3" font-size="5.6" text-anchor="middle" font-weight="normal" font-style="normal" fill="#333" stroke="#333" stroke-width="0.16" transform="rotate(0.04 245.4 594.3)" >0</text><line x1="253.2" y1="583.3" x2="253.2" y2="585.6" stroke="#2a2a2a" stroke-width="0.7"/><text x="253.24" y="594.3" font-size="5.6" text-anchor="middle" font-weight="normal" font-style="normal" fill="#333" stroke="#333" stroke-width="0.16" transform="rotate(0.04 253.24 594.3)" >1</text><line x1="261.1" y1="583.3" x2="261.1" y2="585.6" stroke="#2a2a2a" stroke-width="0.7"/><text x="261.08" y="594.3" font-size="5.6" text-anchor="middle" font-weight="normal" font-style="normal" fill="#333" stroke="#333" stroke-width="0.16" transform="rotate(0.04 261.08 594.3)" >2</text><line x1="268.9" y1="583.3" x2="268.9" y2="585.6" stroke="#2a2a2a" stroke-width="0.7"/><text x="268.92" y="594.3" font-size="5.6" text-anchor="middle" font-weight="normal" font-style="normal" fill="#333" stroke="#333" stroke-width="0.16" transform="rotate(0.04 268.92 594.3)" >3</text><line x1="276.8" y1="583.3" x2="276.8" y2="585.6" stroke="#2a2a2a" stroke-width="0.7"/><text x="276.76" y="594.3" font-size="5.6" text-anchor="middle" font-weight="normal" font-style="normal" fill="#333" stroke="#333" stroke-width="0.16" transform="rotate(0.04 276.76 594.3)" >4</text><line x1="284.6" y1="583.3" x2="284.6" y2="585.6" stroke="#2a2a2a" stroke-width="0.7"/><text x="284.6" y="594.3" font-size="5.6" text-anchor="middle" font-weight="normal" font-style="normal" fill="#333" stroke="#333" stroke-width="0.16" transform="rotate(0.04 284.6 594.3)" >5</text><line x1="292.4" y1="583.3" x2="292.4" y2="585.6" stroke="#2a2a2a" stroke-width="0.7"/><text x="292.44" y="594.3" font-size="5.6" text-anchor="middle" font-weight="normal" font-style="normal" fill="#333" stroke="#333" stroke-width="0.16" transform="rotate(0.04 292.44 594.3)" >6</text><line x1="300.3" y1="583.3" x2="300.3" y2="585.6" stroke="#2a2a2a" stroke-width="0.7"/><text x="300.28" y="594.3" font-size="5.6" text-anchor="middle" font-weight="normal" font-style="normal" fill="#333" stroke="#333" stroke-width="0.16" transform="rotate(0.04 300.28 594.3)" >7</text><line x1="308.1" y1="583.3" x2="308.1" y2="585.6" stroke="#2a2a2a" stroke-width="0.7"/><text x="308.12" y="594.3" font-size="5.6" text-anchor="middle" font-weight="normal" font-style="normal" fill="#333" stroke="#333" stroke-width="0.16" transform="rotate(0.04 308.12 594.3)" >8</text><line x1="316.0" y1="583.3" x2="316.0" y2="585.6" stroke="#2a2a2a" stroke-width="0.7"/><text x="315.96000000000004" y="594.3" font-size="5.6" text-anchor="middle" font-weight="normal" font-style="normal" fill="#333" stroke="#333" stroke-width="0.16" transform="rotate(0.04 315.96000000000004 594.3)" >9</text><line x1="323.8" y1="583.3" x2="323.8" y2="585.6" stroke="#2a2a2a" stroke-width="0.7"/><text x="323.8" y="594.3" font-size="5.6" text-anchor="middle" font-weight="normal" font-style="normal" fill="#333" stroke="#333" stroke-width="0.16" transform="rotate(0.04 323.8 594.3)" >10</text><line x1="331.6" y1="583.3" x2="331.6" y2="585.6" stroke="#2a2a2a" stroke-width="0.7"/><text x="331.64" y="594.3" font-size="5.6" text-anchor="middle" font-weight="normal" font-style="normal" fill="#333" stroke="#333" stroke-width="0.16" transform="rotate(0.04 331.64 594.3)" >11</text><line x1="339.5" y1="583.3" x2="339.5" y2="585.6" stroke="#2a2a2a" stroke-width="0.7"/><text x="339.48" y="594.3" font-size="5.6" text-anchor="middle" font-weight="normal" font-style="normal" fill="#333" stroke="#333" stroke-width="0.16" transform="rotate(0.04 339.48 594.3)" >12</text><line x1="347.3" y1="583.3" x2="347.3" y2="585.6" stroke="#2a2a2a" stroke-width="0.7"/><text x="347.32" y="594.3" font-size="5.6" text-anchor="middle" font-weight="normal" font-style="normal" fill="#333" stroke="#333" stroke-width="0.16" transform="rotate(0.04 347.32 594.3)" >13</text><line x1="355.2" y1="583.3" x2="355.2" y2="585.6" stroke="#2a2a2a" stroke-width="0.7"/><text x="355.15999999999997" y="594.3" font-size="5.6" text-anchor="middle" font-weight="normal" font-style="normal" fill="#333" stroke="#333" stroke-width="0.16" transform="rotate(0.04 355.15999999999997 594.3)" >14</text><text transform="rotate(0.04 274.4 605.2)" x="274.4" y="605.2" font-size="7.6" font-weight="bold" fill="#333" textLength="53.2" lengthAdjust="spacingAndGlyphs">Hazard ratio (95% CI)</text><text x="143.3" y="489.6" font-size="5.95" text-anchor="start" font-weight="normal" font-style="normal" fill="#333" stroke="#333" stroke-width="0.16" transform="rotate(0.04 143.3 489.6)" >Unadjusted</text><rect x="265.9" y="486.2" width="89.9" height="2.6" fill="#b4acdc"/><line x1="266.2" y1="486.1" x2="266.2" y2="488.9" stroke="#9890c8" stroke-width="0.5"/><line x1="355.5" y1="486.1" x2="355.5" y2="488.9" stroke="#9890c8" stroke-width="0.5"/><path d="M293.2 485.0 L295.7 487.5 L293.2 490.0 L290.7 487.5 Z" fill="#f3dcef" stroke="#d0388f" stroke-width="1.0"/><text x="361.9" y="489.6" font-size="5.95" text-anchor="start" font-weight="normal" font-style="normal" fill="#333" stroke="#333" stroke-width="0.16" transform="rotate(0.04 361.9 489.6)" ><tspan font-style="italic">P</tspan> &lt; .001</text><text x="143.3" y="499.6" font-size="5.95" text-anchor="start" font-weight="normal" font-style="normal" fill="#333" stroke="#333" stroke-width="0.16" transform="rotate(0.04 143.3 499.6)" >Age + sex adjusted</text><rect x="254.6" y="496.2" width="45.4" height="2.6" fill="#b4acdc"/><line x1="254.9" y1="496.1" x2="254.9" y2="498.9" stroke="#9890c8" stroke-width="0.5"/><line x1="299.7" y1="496.1" x2="299.7" y2="498.9" stroke="#9890c8" stroke-width="0.5"/><path d="M267.7 495.0 L270.2 497.5 L267.7 500.0 L265.2 497.5 Z" fill="#f3dcef" stroke="#d0388f" stroke-width="1.0"/><text x="361.9" y="499.6" font-size="5.95" text-anchor="start" font-weight="normal" font-style="normal" fill="#333" stroke="#333" stroke-width="0.16" transform="rotate(0.04 361.9 499.6)" ><tspan font-style="italic">P</tspan> = .028</text><text x="143.3" y="519.5" font-size="5.95" text-anchor="start" font-weight="normal" font-style="normal" fill="#333" stroke="#333" stroke-width="0.16" transform="rotate(0.04 143.3 519.5)" >Age + sex + COPD</text><rect x="256.1" y="516.1" width="57.7" height="2.6" fill="#b4acdc"/><line x1="256.40000000000003" y1="516.0" x2="256.40000000000003" y2="518.8" stroke="#9890c8" stroke-width="0.5"/><line x1="313.5" y1="516.0" x2="313.5" y2="518.8" stroke="#9890c8" stroke-width="0.5"/><path d="M272.5 514.9 L275.0 517.4 L272.5 519.9 L270.0 517.4 Z" fill="#f3dcef" stroke="#d0388f" stroke-width="1.0"/><text x="361.9" y="519.5" font-size="5.95" text-anchor="start" font-weight="normal" font-style="normal" fill="#333" stroke="#333" stroke-width="0.16" transform="rotate(0.04 361.9 519.5)" ><tspan font-style="italic">P</tspan> = .008</text><text x="143.3" y="529.5" font-size="5.95" text-anchor="start" font-weight="normal" font-style="normal" fill="#333" stroke="#333" stroke-width="0.16" transform="rotate(0.04 143.3 529.5)" >Age + sex + coronary artery disease</text><rect x="255.8" y="526.1" width="56.1" height="2.6" fill="#b4acdc"/><line x1="256.1" y1="526.0" x2="256.1" y2="528.8" stroke="#9890c8" stroke-width="0.5"/><line x1="311.59999999999997" y1="526.0" x2="311.59999999999997" y2="528.8" stroke="#9890c8" stroke-width="0.5"/><path d="M271.6 524.9 L274.1 527.4 L271.6 529.9 L269.1 527.4 Z" fill="#f3dcef" stroke="#d0388f" stroke-width="1.0"/><text x="361.9" y="529.5" font-size="5.95" text-anchor="start" font-weight="normal" font-style="normal" fill="#333" stroke="#333" stroke-width="0.16" transform="rotate(0.04 361.9 529.5)" ><tspan font-style="italic">P</tspan> = .011</text><text x="143.3" y="539.6" font-size="5.95" text-anchor="start" font-weight="normal" font-style="normal" fill="#333" stroke="#333" stroke-width="0.16" transform="rotate(0.04 143.3 539.6)" >Age + sex + hypertension</text><rect x="257.0" y="536.2" width="62.6" height="2.6" fill="#b4acdc"/><line x1="257.3" y1="536.1" x2="257.3" y2="538.9" stroke="#9890c8" stroke-width="0.5"/><line x1="319.3" y1="536.1" x2="319.3" y2="538.9" stroke="#9890c8" stroke-width="0.5"/><path d="M274.7 535.0 L277.2 537.5 L274.7 540.0 L272.2 537.5 Z" fill="#f3dcef" stroke="#d0388f" stroke-width="1.0"/><text x="361.9" y="539.6" font-size="5.95" text-anchor="start" font-weight="normal" font-style="normal" fill="#333" stroke="#333" stroke-width="0.16" transform="rotate(0.04 361.9 539.6)" ><tspan font-style="italic">P</tspan> = .005</text><text x="143.3" y="549.6" font-size="5.95" text-anchor="start" font-weight="normal" font-style="normal" fill="#333" stroke="#333" stroke-width="0.16" transform="rotate(0.04 143.3 549.6)" >Age + sex + type 2 diabetes mellitus</text><rect x="255.8" y="546.2" width="57.1" height="2.6" fill="#b4acdc"/><line x1="256.1" y1="546.1" x2="256.1" y2="548.9" stroke="#9890c8" stroke-width="0.5"/><line x1="312.59999999999997" y1="546.1" x2="312.59999999999997" y2="548.9" stroke="#9890c8" stroke-width="0.5"/><path d="M272.5 545.0 L275.0 547.5 L272.5 550.0 L270.0 547.5 Z" fill="#f3dcef" stroke="#d0388f" stroke-width="1.0"/><text x="361.9" y="549.6" font-size="5.95" text-anchor="start" font-weight="normal" font-style="normal" fill="#333" stroke="#333" stroke-width="0.16" transform="rotate(0.04 361.9 549.6)" ><tspan font-style="italic">P</tspan> = .009</text><text x="143.3" y="559.5" font-size="5.95" text-anchor="start" font-weight="normal" font-style="normal" fill="#333" stroke="#333" stroke-width="0.16" transform="rotate(0.04 143.3 559.5)" >Age + sex + obesity</text><rect x="255.8" y="556.1" width="56.1" height="2.6" fill="#b4acdc"/><line x1="256.1" y1="556.0" x2="256.1" y2="558.8" stroke="#9890c8" stroke-width="0.5"/><line x1="311.59999999999997" y1="556.0" x2="311.59999999999997" y2="558.8" stroke="#9890c8" stroke-width="0.5"/><path d="M272.0 554.9 L274.5 557.4 L272.0 559.9 L269.5 557.4 Z" fill="#f3dcef" stroke="#d0388f" stroke-width="1.0"/><text x="361.9" y="559.5" font-size="5.95" text-anchor="start" font-weight="normal" font-style="normal" fill="#333" stroke="#333" stroke-width="0.16" transform="rotate(0.04 361.9 559.5)" ><tspan font-style="italic">P</tspan> = .009</text><text x="143.3" y="569.4" font-size="5.95" text-anchor="start" font-weight="normal" font-style="normal" fill="#333" stroke="#333" stroke-width="0.16" transform="rotate(0.04 143.3 569.4)" >Age + sex + comorbidities</text><rect x="257.4" y="566.0" width="65.1" height="2.6" fill="#b4acdc"/><line x1="257.7" y1="565.9" x2="257.7" y2="568.7" stroke="#9890c8" stroke-width="0.5"/><line x1="322.2" y1="565.9" x2="322.2" y2="568.7" stroke="#9890c8" stroke-width="0.5"/><path d="M275.4 564.8 L277.9 567.3 L275.4 569.8 L272.9 567.3 Z" fill="#f3dcef" stroke="#d0388f" stroke-width="1.0"/><text x="361.9" y="569.4" font-size="5.95" text-anchor="start" font-weight="normal" font-style="normal" fill="#333" stroke="#333" stroke-width="0.16" transform="rotate(0.04 361.9 569.4)" ><tspan font-style="italic">P</tspan> = .007</text><text x="177.5" y="574.3" font-size="3.8" text-anchor="start" font-weight="normal" font-style="normal" fill="#333" stroke="#333" stroke-width="0.16" transform="rotate(0.04 177.5 574.3)" >(None, one, multiple)</text>
<text x="6.3" y="15.7" font-size="11.5" text-anchor="start" font-weight="bold" font-style="normal" fill="#111" stroke="#111" stroke-width="0.16" transform="rotate(0.04 6.3 15.7)" >A</text><text x="33.2" y="177.0" font-size="11.5" text-anchor="start" font-weight="bold" font-style="normal" fill="#111" stroke="#111" stroke-width="0.16" transform="rotate(0.04 33.2 177.0)" >B</text><text x="275.7" y="176.0" font-size="11.5" text-anchor="start" font-weight="bold" font-style="normal" fill="#111" stroke="#111" stroke-width="0.16" transform="rotate(0.04 275.7 176.0)" >C</text><text x="33.2" y="308.9" font-size="11.5" text-anchor="start" font-weight="bold" font-style="normal" fill="#111" stroke="#111" stroke-width="0.16" transform="rotate(0.04 33.2 308.9)" >D</text><text x="276.1" y="308.9" font-size="11.5" text-anchor="start" font-weight="bold" font-style="normal" fill="#111" stroke="#111" stroke-width="0.16" transform="rotate(0.04 276.1 308.9)" >E</text><text x="133.0" y="467.7" font-size="11.5" text-anchor="start" font-weight="bold" font-style="normal" fill="#111" stroke="#111" stroke-width="0.16" transform="rotate(0.04 133.0 467.7)" >F</text>
<rect x="519" y="0" width="1" height="614" fill="#a2a2a2"/>
<rect x="518" y="0" width="1" height="614" fill="#e4e4e4"/>
<rect x="0" y="0" width="1" height="614" fill="#616161"/>
<rect x="1" y="0" width="0.4" height="614" fill="#b0b0b0"/>
<rect x="0" y="0" width="520" height="1" fill="#5f666c"/>
<rect x="0" y="613" width="520" height="1" fill="#606060"/>
</svg>
</body></html>
